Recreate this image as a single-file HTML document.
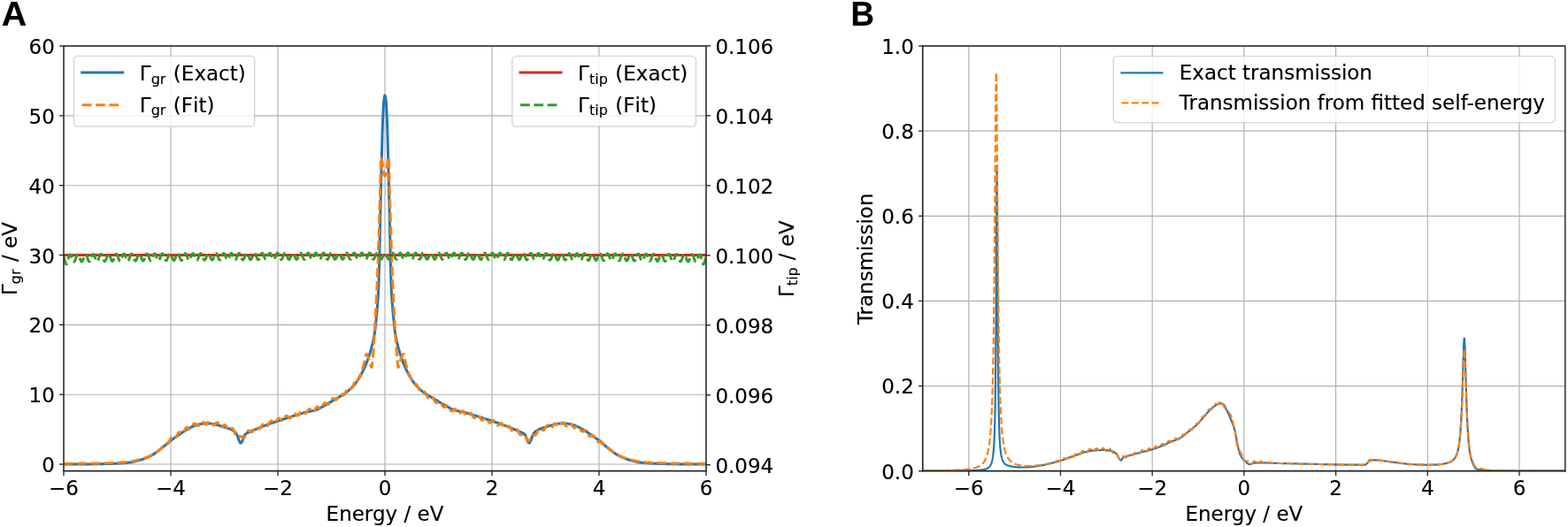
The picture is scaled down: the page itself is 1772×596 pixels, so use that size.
<!DOCTYPE html>
<html lang="en">
<head>
<meta charset="utf-8">
<title>Figure: self-energy fit and transmission</title>
<style>
html,body{margin:0;padding:0;background:#fff;}
body{width:1772px;height:596px;overflow:hidden;}
svg{display:block;}
svg text{font-family:"DejaVu Sans","Liberation Sans",sans-serif;stroke:#000;stroke-width:0.15px;stroke-linejoin:round;}
</style>
</head>
<body>
<svg width="1772" height="596" viewBox="0 0 1772 596">
<rect x="0" y="0" width="1772" height="596" fill="#fff"/>
<g id="axA">
<g stroke="#b0b0b0" stroke-width="1.15" fill="none">
<line x1="72.0" y1="52.0" x2="72.0" y2="532.7"/>
<line x1="193.0" y1="52.0" x2="193.0" y2="532.7"/>
<line x1="314.0" y1="52.0" x2="314.0" y2="532.7"/>
<line x1="435.0" y1="52.0" x2="435.0" y2="532.7"/>
<line x1="556.0" y1="52.0" x2="556.0" y2="532.7"/>
<line x1="677.0" y1="52.0" x2="677.0" y2="532.7"/>
<line x1="798.0" y1="52.0" x2="798.0" y2="532.7"/>
<line x1="72.0" y1="525.0" x2="798.0" y2="525.0"/>
<line x1="72.0" y1="446.2" x2="798.0" y2="446.2"/>
<line x1="72.0" y1="367.3" x2="798.0" y2="367.3"/>
<line x1="72.0" y1="288.5" x2="798.0" y2="288.5"/>
<line x1="72.0" y1="209.7" x2="798.0" y2="209.7"/>
<line x1="72.0" y1="130.9" x2="798.0" y2="130.9"/>
<line x1="72.0" y1="52.0" x2="798.0" y2="52.0"/>
</g>
<clipPath id="clipA"><rect x="72.0" y="52.0" width="726.0" height="480.70000000000005"/></clipPath>
<g clip-path="url(#clipA)" fill="none" stroke-linejoin="round">
<path d="M72.0,525.0 L72.5,525.0 L73.0,525.0 L73.5,525.0 L74.0,525.0 L74.5,525.0 L75.0,525.0 L75.5,525.0 L76.0,525.0 L76.5,525.0 L77.0,525.0 L77.5,525.0 L78.0,525.0 L78.5,525.0 L79.0,525.0 L79.5,525.0 L80.0,525.0 L80.5,525.0 L81.0,525.0 L81.5,525.0 L82.0,525.0 L82.5,525.0 L83.0,525.0 L83.5,525.0 L84.0,525.0 L84.5,525.0 L85.0,525.0 L85.5,525.0 L86.0,525.0 L86.5,525.0 L87.0,525.0 L87.5,525.0 L88.0,525.0 L88.5,525.0 L89.0,525.0 L89.5,525.0 L90.0,525.0 L90.5,525.0 L91.0,524.9 L91.5,524.9 L92.0,524.9 L92.5,524.9 L93.0,524.9 L93.5,524.9 L94.0,524.9 L94.5,524.9 L95.0,524.9 L95.5,524.9 L96.0,524.9 L96.5,524.9 L97.0,524.9 L97.5,524.9 L98.0,524.9 L98.5,524.9 L99.0,524.9 L99.5,524.9 L100.0,524.9 L100.5,524.9 L101.0,524.9 L101.5,524.9 L102.0,524.9 L102.5,524.9 L103.0,524.9 L103.5,524.9 L104.0,524.9 L104.5,524.9 L105.0,524.9 L105.5,524.8 L106.0,524.8 L106.5,524.8 L107.0,524.8 L107.5,524.8 L108.0,524.8 L108.5,524.8 L109.0,524.8 L109.5,524.8 L110.0,524.8 L110.5,524.8 L111.0,524.8 L111.5,524.8 L112.0,524.7 L112.5,524.7 L113.0,524.7 L113.5,524.7 L114.0,524.7 L114.5,524.7 L115.0,524.7 L115.5,524.7 L116.0,524.7 L116.5,524.6 L117.0,524.6 L117.5,524.6 L118.0,524.6 L118.5,524.6 L119.0,524.6 L119.5,524.6 L120.0,524.6 L120.5,524.5 L121.0,524.5 L121.5,524.5 L122.0,524.5 L122.5,524.5 L123.0,524.5 L123.5,524.5 L124.0,524.5 L124.5,524.4 L125.0,524.4 L125.5,524.4 L126.0,524.4 L126.5,524.4 L127.0,524.4 L127.5,524.3 L128.0,524.3 L128.5,524.3 L129.0,524.3 L129.5,524.3 L130.0,524.2 L130.5,524.2 L131.0,524.2 L131.5,524.2 L132.0,524.1 L132.5,524.1 L133.0,524.1 L133.5,524.1 L134.0,524.0 L134.5,524.0 L135.0,524.0 L135.5,523.9 L136.0,523.9 L136.5,523.9 L137.0,523.9 L137.5,523.8 L138.0,523.8 L138.5,523.8 L139.0,523.7 L139.5,523.7 L140.0,523.6 L140.5,523.6 L141.0,523.6 L141.5,523.5 L142.0,523.5 L142.5,523.4 L143.0,523.4 L143.5,523.4 L144.0,523.3 L144.5,523.3 L145.0,523.2 L145.5,523.1 L146.0,523.1 L146.5,523.0 L147.0,522.9 L147.5,522.9 L148.0,522.8 L148.5,522.7 L149.0,522.6 L149.5,522.5 L150.0,522.4 L150.5,522.3 L151.0,522.2 L151.5,522.1 L152.0,521.9 L152.5,521.8 L153.0,521.7 L153.5,521.6 L154.0,521.4 L154.5,521.3 L155.0,521.2 L155.5,521.0 L156.0,520.9 L156.5,520.8 L157.0,520.6 L157.5,520.5 L158.0,520.3 L158.5,520.2 L159.0,520.1 L159.5,519.9 L160.0,519.8 L160.5,519.6 L161.0,519.4 L161.5,519.3 L162.0,519.1 L162.5,518.9 L163.0,518.7 L163.5,518.5 L164.0,518.3 L164.5,518.1 L165.0,517.9 L165.5,517.7 L166.0,517.5 L166.5,517.3 L167.0,517.1 L167.5,516.8 L168.0,516.6 L168.5,516.4 L169.0,516.1 L169.5,515.9 L170.0,515.6 L170.5,515.4 L171.0,515.1 L171.5,514.8 L172.0,514.6 L172.5,514.3 L173.0,514.0 L173.5,513.7 L174.0,513.4 L174.5,513.1 L175.0,512.8 L175.5,512.4 L176.0,512.1 L176.5,511.7 L177.0,511.3 L177.5,510.9 L178.0,510.6 L178.5,510.2 L179.0,509.8 L179.5,509.4 L180.0,509.0 L180.5,508.6 L181.0,508.2 L181.5,507.8 L182.0,507.4 L182.5,507.0 L183.0,506.6 L183.5,506.2 L184.0,505.8 L184.5,505.3 L185.0,504.9 L185.5,504.5 L186.0,504.1 L186.5,503.7 L187.0,503.2 L187.5,502.8 L188.0,502.4 L188.5,501.9 L189.0,501.5 L189.5,501.1 L190.0,500.7 L190.5,500.2 L191.0,499.8 L191.5,499.4 L192.0,499.0 L192.5,498.6 L193.0,498.2 L193.5,497.9 L194.0,497.5 L194.5,497.1 L195.0,496.7 L195.5,496.4 L196.0,496.0 L196.5,495.6 L197.0,495.3 L197.5,494.9 L198.0,494.6 L198.5,494.2 L199.0,493.9 L199.5,493.5 L200.0,493.2 L200.5,492.8 L201.0,492.5 L201.5,492.1 L202.0,491.8 L202.5,491.5 L203.0,491.1 L203.5,490.8 L204.0,490.5 L204.5,490.1 L205.0,489.8 L205.5,489.4 L206.0,489.1 L206.5,488.7 L207.0,488.4 L207.5,488.1 L208.0,487.7 L208.5,487.4 L209.0,487.1 L209.5,486.8 L210.0,486.5 L210.5,486.2 L211.0,485.9 L211.5,485.6 L212.0,485.3 L212.5,485.0 L213.0,484.7 L213.5,484.5 L214.0,484.2 L214.5,484.0 L215.0,483.7 L215.5,483.4 L216.0,483.2 L216.5,482.9 L217.0,482.7 L217.5,482.5 L218.0,482.2 L218.5,482.0 L219.0,481.8 L219.5,481.6 L220.0,481.4 L220.5,481.2 L221.0,481.0 L221.5,480.8 L222.0,480.7 L222.5,480.5 L223.0,480.4 L223.5,480.3 L224.0,480.2 L224.5,480.0 L225.0,479.9 L225.5,479.8 L226.0,479.7 L226.5,479.6 L227.0,479.5 L227.5,479.4 L228.0,479.3 L228.5,479.2 L229.0,479.1 L229.5,479.1 L230.0,479.0 L230.5,478.9 L231.0,478.9 L231.5,478.9 L232.0,478.8 L232.5,478.8 L233.0,478.8 L233.5,478.8 L234.0,478.8 L234.5,478.8 L235.0,478.9 L235.5,478.9 L236.0,478.9 L236.5,479.0 L237.0,479.0 L237.5,479.0 L238.0,479.1 L238.5,479.1 L239.0,479.2 L239.5,479.2 L240.0,479.3 L240.5,479.4 L241.0,479.4 L241.5,479.5 L242.0,479.6 L242.5,479.8 L243.0,479.9 L243.5,480.0 L244.0,480.1 L244.5,480.3 L245.0,480.4 L245.5,480.6 L246.0,480.7 L246.5,480.9 L247.0,481.0 L247.5,481.2 L248.0,481.3 L248.5,481.5 L249.0,481.6 L249.5,481.7 L250.0,481.9 L250.5,482.0 L251.0,482.2 L251.5,482.3 L252.0,482.5 L252.5,482.6 L253.0,482.8 L253.5,483.0 L254.0,483.1 L254.5,483.3 L255.0,483.5 L255.5,483.6 L256.0,483.8 L256.5,484.0 L257.0,484.1 L257.5,484.3 L258.0,484.5 L258.5,484.7 L259.0,484.8 L259.5,485.0 L260.0,485.2 L260.5,485.4 L261.0,485.7 L261.5,485.9 L262.0,486.1 L262.5,486.4 L263.0,486.7 L263.5,487.0 L264.0,487.3 L264.5,487.7 L265.0,488.1 L265.5,488.6 L266.0,489.1 L266.5,489.7 L267.0,490.4 L267.5,491.3 L268.0,492.3 L268.5,493.4 L269.0,495.0 L269.5,496.7 L270.0,497.9 L270.5,499.0 L271.0,499.9 L271.5,500.7 L272.0,501.0 L272.5,500.8 L273.0,500.3 L273.5,499.4 L274.0,498.3 L274.5,497.3 L275.0,495.7 L275.5,493.9 L276.0,492.7 L276.5,492.0 L277.0,491.4 L277.5,490.9 L278.0,490.6 L278.5,490.2 L279.0,489.9 L279.5,489.7 L280.0,489.4 L280.5,489.2 L281.0,489.0 L281.5,488.8 L282.0,488.5 L282.5,488.3 L283.0,488.1 L283.5,487.8 L284.0,487.6 L284.5,487.4 L285.0,487.2 L285.5,487.0 L286.0,486.7 L286.5,486.5 L287.0,486.3 L287.5,486.1 L288.0,485.9 L288.5,485.7 L289.0,485.5 L289.5,485.3 L290.0,485.1 L290.5,484.9 L291.0,484.7 L291.5,484.5 L292.0,484.3 L292.5,484.1 L293.0,483.9 L293.5,483.7 L294.0,483.4 L294.5,483.2 L295.0,483.0 L295.5,482.8 L296.0,482.6 L296.5,482.4 L297.0,482.2 L297.5,482.0 L298.0,481.8 L298.5,481.6 L299.0,481.4 L299.5,481.2 L300.0,481.1 L300.5,480.9 L301.0,480.7 L301.5,480.5 L302.0,480.3 L302.5,480.1 L303.0,479.9 L303.5,479.8 L304.0,479.6 L304.5,479.4 L305.0,479.2 L305.5,479.1 L306.0,478.9 L306.5,478.7 L307.0,478.5 L307.5,478.4 L308.0,478.2 L308.5,478.0 L309.0,477.8 L309.5,477.7 L310.0,477.5 L310.5,477.3 L311.0,477.2 L311.5,477.0 L312.0,476.8 L312.5,476.7 L313.0,476.5 L313.5,476.3 L314.0,476.2 L314.5,476.0 L315.0,475.8 L315.5,475.7 L316.0,475.5 L316.5,475.3 L317.0,475.2 L317.5,475.0 L318.0,474.8 L318.5,474.7 L319.0,474.5 L319.5,474.4 L320.0,474.2 L320.5,474.0 L321.0,473.9 L321.5,473.7 L322.0,473.5 L322.5,473.4 L323.0,473.2 L323.5,473.1 L324.0,472.9 L324.5,472.7 L325.0,472.6 L325.5,472.4 L326.0,472.3 L326.5,472.1 L327.0,472.0 L327.5,471.8 L328.0,471.6 L328.5,471.5 L329.0,471.3 L329.5,471.2 L330.0,471.0 L330.5,470.9 L331.0,470.7 L331.5,470.5 L332.0,470.4 L332.5,470.2 L333.0,470.0 L333.5,469.9 L334.0,469.7 L334.5,469.6 L335.0,469.4 L335.5,469.2 L336.0,469.1 L336.5,468.9 L337.0,468.8 L337.5,468.6 L338.0,468.4 L338.5,468.3 L339.0,468.1 L339.5,468.0 L340.0,467.8 L340.5,467.7 L341.0,467.5 L341.5,467.4 L342.0,467.2 L342.5,467.1 L343.0,466.9 L343.5,466.8 L344.0,466.7 L344.5,466.5 L345.0,466.4 L345.5,466.3 L346.0,466.1 L346.5,466.0 L347.0,465.9 L347.5,465.8 L348.0,465.7 L348.5,465.6 L349.0,465.5 L349.5,465.4 L350.0,465.3 L350.5,465.2 L351.0,465.1 L351.5,465.0 L352.0,464.9 L352.5,464.8 L353.0,464.7 L353.5,464.6 L354.0,464.5 L354.5,464.4 L355.0,464.2 L355.5,464.1 L356.0,464.0 L356.5,463.8 L357.0,463.6 L357.5,463.5 L358.0,463.3 L358.5,463.0 L359.0,462.8 L359.5,462.6 L360.0,462.3 L360.5,462.1 L361.0,461.8 L361.5,461.6 L362.0,461.3 L362.5,461.0 L363.0,460.7 L363.5,460.5 L364.0,460.2 L364.5,459.9 L365.0,459.6 L365.5,459.3 L366.0,459.1 L366.5,458.8 L367.0,458.5 L367.5,458.2 L368.0,458.0 L368.5,457.7 L369.0,457.4 L369.5,457.1 L370.0,456.8 L370.5,456.5 L371.0,456.2 L371.5,455.9 L372.0,455.7 L372.5,455.4 L373.0,455.1 L373.5,454.8 L374.0,454.4 L374.5,454.1 L375.0,453.8 L375.5,453.5 L376.0,453.2 L376.5,452.9 L377.0,452.6 L377.5,452.3 L378.0,452.0 L378.5,451.7 L379.0,451.4 L379.5,451.1 L380.0,450.8 L380.5,450.5 L381.0,450.2 L381.5,450.0 L382.0,449.7 L382.5,449.4 L383.0,449.1 L383.5,448.8 L384.0,448.5 L384.5,448.3 L385.0,448.0 L385.5,447.7 L386.0,447.4 L386.5,447.1 L387.0,446.8 L387.5,446.5 L388.0,446.1 L388.5,445.8 L389.0,445.5 L389.5,445.1 L390.0,444.8 L390.5,444.4 L391.0,444.0 L391.5,443.6 L392.0,443.2 L392.5,442.8 L393.0,442.4 L393.5,442.0 L394.0,441.6 L394.5,441.1 L395.0,440.7 L395.5,440.2 L396.0,439.7 L396.5,439.3 L397.0,438.8 L397.5,438.3 L398.0,437.8 L398.5,437.2 L399.0,436.7 L399.5,436.2 L400.0,435.6 L400.5,435.0 L401.0,434.4 L401.5,433.8 L402.0,433.2 L402.5,432.5 L403.0,431.8 L403.5,431.1 L404.0,430.4 L404.5,429.6 L405.0,428.8 L405.5,428.0 L406.0,427.1 L406.5,426.3 L407.0,425.4 L407.5,424.6 L408.0,423.7 L408.5,422.8 L409.0,421.8 L409.5,420.9 L410.0,419.9 L410.5,418.9 L411.0,417.8 L411.5,416.8 L412.0,415.7 L412.5,414.5 L413.0,413.4 L413.5,412.2 L414.0,410.9 L414.5,409.7 L415.0,408.4 L415.5,407.0 L416.0,405.6 L416.5,404.2 L417.0,402.7 L417.5,401.2 L418.0,399.6 L418.5,397.9 L419.0,396.2 L419.5,394.5 L420.0,392.6 L420.5,390.7 L421.0,388.6 L421.5,386.4 L422.0,384.0 L422.5,381.5 L423.0,378.8 L423.5,375.7 L424.0,372.2 L424.5,368.1 L425.0,363.2 L425.5,357.6 L426.0,351.8 L426.5,346.0 L427.0,339.8 L427.5,331.9 L428.0,320.1 L428.5,302.6 L429.0,281.3 L429.5,258.0 L430.0,234.8 L430.5,213.5 L431.0,193.8 L431.5,173.3 L432.0,153.9 L432.5,137.7 L433.0,126.3 L433.5,117.5 L434.0,112.0 L434.5,109.1 L435.0,107.8 L435.5,109.1 L436.0,112.0 L436.5,117.5 L437.0,126.3 L437.5,137.7 L438.0,153.9 L438.5,173.3 L439.0,193.8 L439.5,213.5 L440.0,234.8 L440.5,258.0 L441.0,281.3 L441.5,302.6 L442.0,320.1 L442.5,331.9 L443.0,339.8 L443.5,346.0 L444.0,351.8 L444.5,357.6 L445.0,363.2 L445.5,368.1 L446.0,372.2 L446.5,375.7 L447.0,378.8 L447.5,381.5 L448.0,384.0 L448.5,386.4 L449.0,388.6 L449.5,390.7 L450.0,392.6 L450.5,394.5 L451.0,396.2 L451.5,397.9 L452.0,399.6 L452.5,401.2 L453.0,402.7 L453.5,404.2 L454.0,405.6 L454.5,407.0 L455.0,408.4 L455.5,409.7 L456.0,410.9 L456.5,412.2 L457.0,413.4 L457.5,414.5 L458.0,415.7 L458.5,416.8 L459.0,417.8 L459.5,418.9 L460.0,419.9 L460.5,420.9 L461.0,421.8 L461.5,422.8 L462.0,423.7 L462.5,424.6 L463.0,425.4 L463.5,426.3 L464.0,427.1 L464.5,428.0 L465.0,428.8 L465.5,429.6 L466.0,430.4 L466.5,431.1 L467.0,431.8 L467.5,432.5 L468.0,433.2 L468.5,433.8 L469.0,434.4 L469.5,435.0 L470.0,435.6 L470.5,436.2 L471.0,436.7 L471.5,437.2 L472.0,437.8 L472.5,438.3 L473.0,438.8 L473.5,439.3 L474.0,439.7 L474.5,440.2 L475.0,440.7 L475.5,441.1 L476.0,441.6 L476.5,442.0 L477.0,442.4 L477.5,442.8 L478.0,443.2 L478.5,443.6 L479.0,444.0 L479.5,444.4 L480.0,444.8 L480.5,445.1 L481.0,445.5 L481.5,445.8 L482.0,446.1 L482.5,446.5 L483.0,446.8 L483.5,447.1 L484.0,447.4 L484.5,447.7 L485.0,448.0 L485.5,448.3 L486.0,448.5 L486.5,448.8 L487.0,449.1 L487.5,449.4 L488.0,449.7 L488.5,450.0 L489.0,450.2 L489.5,450.5 L490.0,450.8 L490.5,451.1 L491.0,451.4 L491.5,451.7 L492.0,452.0 L492.5,452.3 L493.0,452.6 L493.5,452.9 L494.0,453.2 L494.5,453.5 L495.0,453.8 L495.5,454.1 L496.0,454.4 L496.5,454.8 L497.0,455.1 L497.5,455.4 L498.0,455.7 L498.5,455.9 L499.0,456.2 L499.5,456.5 L500.0,456.8 L500.5,457.1 L501.0,457.4 L501.5,457.7 L502.0,458.0 L502.5,458.2 L503.0,458.5 L503.5,458.8 L504.0,459.1 L504.5,459.3 L505.0,459.6 L505.5,459.9 L506.0,460.2 L506.5,460.5 L507.0,460.7 L507.5,461.0 L508.0,461.3 L508.5,461.6 L509.0,461.8 L509.5,462.1 L510.0,462.3 L510.5,462.6 L511.0,462.8 L511.5,463.0 L512.0,463.3 L512.5,463.5 L513.0,463.6 L513.5,463.8 L514.0,464.0 L514.5,464.1 L515.0,464.2 L515.5,464.4 L516.0,464.5 L516.5,464.6 L517.0,464.7 L517.5,464.8 L518.0,464.9 L518.5,465.0 L519.0,465.1 L519.5,465.2 L520.0,465.3 L520.5,465.4 L521.0,465.5 L521.5,465.6 L522.0,465.7 L522.5,465.8 L523.0,465.9 L523.5,466.0 L524.0,466.1 L524.5,466.3 L525.0,466.4 L525.5,466.5 L526.0,466.7 L526.5,466.8 L527.0,466.9 L527.5,467.1 L528.0,467.2 L528.5,467.4 L529.0,467.5 L529.5,467.7 L530.0,467.8 L530.5,468.0 L531.0,468.1 L531.5,468.3 L532.0,468.4 L532.5,468.6 L533.0,468.8 L533.5,468.9 L534.0,469.1 L534.5,469.2 L535.0,469.4 L535.5,469.6 L536.0,469.7 L536.5,469.9 L537.0,470.0 L537.5,470.2 L538.0,470.4 L538.5,470.5 L539.0,470.7 L539.5,470.9 L540.0,471.0 L540.5,471.2 L541.0,471.3 L541.5,471.5 L542.0,471.6 L542.5,471.8 L543.0,472.0 L543.5,472.1 L544.0,472.3 L544.5,472.4 L545.0,472.6 L545.5,472.7 L546.0,472.9 L546.5,473.1 L547.0,473.2 L547.5,473.4 L548.0,473.5 L548.5,473.7 L549.0,473.9 L549.5,474.0 L550.0,474.2 L550.5,474.4 L551.0,474.5 L551.5,474.7 L552.0,474.8 L552.5,475.0 L553.0,475.2 L553.5,475.3 L554.0,475.5 L554.5,475.7 L555.0,475.8 L555.5,476.0 L556.0,476.2 L556.5,476.3 L557.0,476.5 L557.5,476.7 L558.0,476.8 L558.5,477.0 L559.0,477.2 L559.5,477.3 L560.0,477.5 L560.5,477.7 L561.0,477.8 L561.5,478.0 L562.0,478.2 L562.5,478.4 L563.0,478.5 L563.5,478.7 L564.0,478.9 L564.5,479.1 L565.0,479.2 L565.5,479.4 L566.0,479.6 L566.5,479.8 L567.0,479.9 L567.5,480.1 L568.0,480.3 L568.5,480.5 L569.0,480.7 L569.5,480.9 L570.0,481.1 L570.5,481.2 L571.0,481.4 L571.5,481.6 L572.0,481.8 L572.5,482.0 L573.0,482.2 L573.5,482.4 L574.0,482.6 L574.5,482.8 L575.0,483.0 L575.5,483.2 L576.0,483.4 L576.5,483.7 L577.0,483.9 L577.5,484.1 L578.0,484.3 L578.5,484.5 L579.0,484.7 L579.5,484.9 L580.0,485.1 L580.5,485.3 L581.0,485.5 L581.5,485.7 L582.0,485.9 L582.5,486.1 L583.0,486.3 L583.5,486.5 L584.0,486.7 L584.5,487.0 L585.0,487.2 L585.5,487.4 L586.0,487.6 L586.5,487.8 L587.0,488.1 L587.5,488.3 L588.0,488.5 L588.5,488.8 L589.0,489.0 L589.5,489.2 L590.0,489.4 L590.5,489.7 L591.0,489.9 L591.5,490.2 L592.0,490.6 L592.5,490.9 L593.0,491.4 L593.5,492.0 L594.0,492.7 L594.5,493.9 L595.0,495.7 L595.5,497.3 L596.0,498.3 L596.5,499.4 L597.0,500.3 L597.5,500.8 L598.0,501.0 L598.5,500.7 L599.0,499.9 L599.5,499.0 L600.0,497.9 L600.5,496.7 L601.0,495.0 L601.5,493.4 L602.0,492.3 L602.5,491.3 L603.0,490.4 L603.5,489.7 L604.0,489.1 L604.5,488.6 L605.0,488.1 L605.5,487.7 L606.0,487.3 L606.5,487.0 L607.0,486.7 L607.5,486.4 L608.0,486.1 L608.5,485.9 L609.0,485.7 L609.5,485.4 L610.0,485.2 L610.5,485.0 L611.0,484.8 L611.5,484.7 L612.0,484.5 L612.5,484.3 L613.0,484.1 L613.5,484.0 L614.0,483.8 L614.5,483.6 L615.0,483.5 L615.5,483.3 L616.0,483.1 L616.5,483.0 L617.0,482.8 L617.5,482.6 L618.0,482.5 L618.5,482.3 L619.0,482.2 L619.5,482.0 L620.0,481.9 L620.5,481.7 L621.0,481.6 L621.5,481.5 L622.0,481.3 L622.5,481.2 L623.0,481.0 L623.5,480.9 L624.0,480.7 L624.5,480.6 L625.0,480.4 L625.5,480.3 L626.0,480.1 L626.5,480.0 L627.0,479.9 L627.5,479.8 L628.0,479.6 L628.5,479.5 L629.0,479.4 L629.5,479.4 L630.0,479.3 L630.5,479.2 L631.0,479.2 L631.5,479.1 L632.0,479.1 L632.5,479.0 L633.0,479.0 L633.5,479.0 L634.0,478.9 L634.5,478.9 L635.0,478.9 L635.5,478.8 L636.0,478.8 L636.5,478.8 L637.0,478.8 L637.5,478.8 L638.0,478.8 L638.5,478.9 L639.0,478.9 L639.5,478.9 L640.0,479.0 L640.5,479.1 L641.0,479.1 L641.5,479.2 L642.0,479.3 L642.5,479.4 L643.0,479.5 L643.5,479.6 L644.0,479.7 L644.5,479.8 L645.0,479.9 L645.5,480.0 L646.0,480.2 L646.5,480.3 L647.0,480.4 L647.5,480.5 L648.0,480.7 L648.5,480.8 L649.0,481.0 L649.5,481.2 L650.0,481.4 L650.5,481.6 L651.0,481.8 L651.5,482.0 L652.0,482.2 L652.5,482.5 L653.0,482.7 L653.5,482.9 L654.0,483.2 L654.5,483.4 L655.0,483.7 L655.5,484.0 L656.0,484.2 L656.5,484.5 L657.0,484.7 L657.5,485.0 L658.0,485.3 L658.5,485.6 L659.0,485.9 L659.5,486.2 L660.0,486.5 L660.5,486.8 L661.0,487.1 L661.5,487.4 L662.0,487.7 L662.5,488.1 L663.0,488.4 L663.5,488.7 L664.0,489.1 L664.5,489.4 L665.0,489.8 L665.5,490.1 L666.0,490.5 L666.5,490.8 L667.0,491.1 L667.5,491.5 L668.0,491.8 L668.5,492.1 L669.0,492.5 L669.5,492.8 L670.0,493.2 L670.5,493.5 L671.0,493.9 L671.5,494.2 L672.0,494.6 L672.5,494.9 L673.0,495.3 L673.5,495.6 L674.0,496.0 L674.5,496.4 L675.0,496.7 L675.5,497.1 L676.0,497.5 L676.5,497.9 L677.0,498.2 L677.5,498.6 L678.0,499.0 L678.5,499.4 L679.0,499.8 L679.5,500.2 L680.0,500.7 L680.5,501.1 L681.0,501.5 L681.5,501.9 L682.0,502.4 L682.5,502.8 L683.0,503.2 L683.5,503.7 L684.0,504.1 L684.5,504.5 L685.0,504.9 L685.5,505.3 L686.0,505.8 L686.5,506.2 L687.0,506.6 L687.5,507.0 L688.0,507.4 L688.5,507.8 L689.0,508.2 L689.5,508.6 L690.0,509.0 L690.5,509.4 L691.0,509.8 L691.5,510.2 L692.0,510.6 L692.5,510.9 L693.0,511.3 L693.5,511.7 L694.0,512.1 L694.5,512.4 L695.0,512.8 L695.5,513.1 L696.0,513.4 L696.5,513.7 L697.0,514.0 L697.5,514.3 L698.0,514.6 L698.5,514.8 L699.0,515.1 L699.5,515.4 L700.0,515.6 L700.5,515.9 L701.0,516.1 L701.5,516.4 L702.0,516.6 L702.5,516.8 L703.0,517.1 L703.5,517.3 L704.0,517.5 L704.5,517.7 L705.0,517.9 L705.5,518.1 L706.0,518.3 L706.5,518.5 L707.0,518.7 L707.5,518.9 L708.0,519.1 L708.5,519.3 L709.0,519.4 L709.5,519.6 L710.0,519.8 L710.5,519.9 L711.0,520.1 L711.5,520.2 L712.0,520.3 L712.5,520.5 L713.0,520.6 L713.5,520.8 L714.0,520.9 L714.5,521.0 L715.0,521.2 L715.5,521.3 L716.0,521.4 L716.5,521.6 L717.0,521.7 L717.5,521.8 L718.0,521.9 L718.5,522.1 L719.0,522.2 L719.5,522.3 L720.0,522.4 L720.5,522.5 L721.0,522.6 L721.5,522.7 L722.0,522.8 L722.5,522.9 L723.0,522.9 L723.5,523.0 L724.0,523.1 L724.5,523.1 L725.0,523.2 L725.5,523.3 L726.0,523.3 L726.5,523.4 L727.0,523.4 L727.5,523.4 L728.0,523.5 L728.5,523.5 L729.0,523.6 L729.5,523.6 L730.0,523.6 L730.5,523.7 L731.0,523.7 L731.5,523.8 L732.0,523.8 L732.5,523.8 L733.0,523.9 L733.5,523.9 L734.0,523.9 L734.5,523.9 L735.0,524.0 L735.5,524.0 L736.0,524.0 L736.5,524.1 L737.0,524.1 L737.5,524.1 L738.0,524.1 L738.5,524.2 L739.0,524.2 L739.5,524.2 L740.0,524.2 L740.5,524.3 L741.0,524.3 L741.5,524.3 L742.0,524.3 L742.5,524.3 L743.0,524.4 L743.5,524.4 L744.0,524.4 L744.5,524.4 L745.0,524.4 L745.5,524.4 L746.0,524.5 L746.5,524.5 L747.0,524.5 L747.5,524.5 L748.0,524.5 L748.5,524.5 L749.0,524.5 L749.5,524.5 L750.0,524.6 L750.5,524.6 L751.0,524.6 L751.5,524.6 L752.0,524.6 L752.5,524.6 L753.0,524.6 L753.5,524.6 L754.0,524.7 L754.5,524.7 L755.0,524.7 L755.5,524.7 L756.0,524.7 L756.5,524.7 L757.0,524.7 L757.5,524.7 L758.0,524.7 L758.5,524.8 L759.0,524.8 L759.5,524.8 L760.0,524.8 L760.5,524.8 L761.0,524.8 L761.5,524.8 L762.0,524.8 L762.5,524.8 L763.0,524.8 L763.5,524.8 L764.0,524.8 L764.5,524.8 L765.0,524.9 L765.5,524.9 L766.0,524.9 L766.5,524.9 L767.0,524.9 L767.5,524.9 L768.0,524.9 L768.5,524.9 L769.0,524.9 L769.5,524.9 L770.0,524.9 L770.5,524.9 L771.0,524.9 L771.5,524.9 L772.0,524.9 L772.5,524.9 L773.0,524.9 L773.5,524.9 L774.0,524.9 L774.5,524.9 L775.0,524.9 L775.5,524.9 L776.0,524.9 L776.5,524.9 L777.0,524.9 L777.5,524.9 L778.0,524.9 L778.5,524.9 L779.0,524.9 L779.5,525.0 L780.0,525.0 L780.5,525.0 L781.0,525.0 L781.5,525.0 L782.0,525.0 L782.5,525.0 L783.0,525.0 L783.5,525.0 L784.0,525.0 L784.5,525.0 L785.0,525.0 L785.5,525.0 L786.0,525.0 L786.5,525.0 L787.0,525.0 L787.5,525.0 L788.0,525.0 L788.5,525.0 L789.0,525.0 L789.5,525.0 L790.0,525.0 L790.5,525.0 L791.0,525.0 L791.5,525.0 L792.0,525.0 L792.5,525.0 L793.0,525.0 L793.5,525.0 L794.0,525.0 L794.5,525.0 L795.0,525.0 L795.5,525.0 L796.0,525.0 L796.5,525.0 L797.0,525.0 L797.5,525.0 L798.0,525.0" stroke="#1f77b4" stroke-width="3.0" stroke-linecap="square"/>
<path d="M72.0,524.2 L72.5,524.2 L73.0,524.2 L73.5,524.2 L74.0,524.2 L74.5,524.2 L75.0,524.2 L75.5,524.2 L76.0,524.2 L76.5,524.2 L77.0,524.2 L77.5,524.2 L78.0,524.2 L78.5,524.2 L79.0,524.2 L79.5,524.2 L80.0,524.2 L80.5,524.2 L81.0,524.2 L81.5,524.2 L82.0,524.2 L82.5,524.2 L83.0,524.2 L83.5,524.2 L84.0,524.2 L84.5,524.2 L85.0,524.2 L85.5,524.2 L86.0,524.2 L86.5,524.2 L87.0,524.2 L87.5,524.2 L88.0,524.2 L88.5,524.2 L89.0,524.2 L89.5,524.2 L90.0,524.2 L90.5,524.2 L91.0,524.1 L91.5,524.1 L92.0,524.1 L92.5,524.1 L93.0,524.1 L93.5,524.1 L94.0,524.1 L94.5,524.1 L95.0,524.1 L95.5,524.1 L96.0,524.1 L96.5,524.1 L97.0,524.1 L97.5,524.1 L98.0,524.1 L98.5,524.1 L99.0,524.1 L99.5,524.1 L100.0,524.1 L100.5,524.1 L101.0,524.1 L101.5,524.1 L102.0,524.1 L102.5,524.1 L103.0,524.1 L103.5,524.1 L104.0,524.1 L104.5,524.1 L105.0,524.0 L105.5,524.0 L106.0,524.0 L106.5,524.0 L107.0,524.0 L107.5,524.0 L108.0,524.0 L108.5,524.0 L109.0,524.0 L109.5,524.0 L110.0,524.0 L110.5,524.0 L111.0,524.0 L111.5,523.9 L112.0,523.9 L112.5,523.9 L113.0,523.9 L113.5,523.9 L114.0,523.9 L114.5,523.9 L115.0,523.9 L115.5,523.9 L116.0,523.9 L116.5,523.8 L117.0,523.8 L117.5,523.8 L118.0,523.8 L118.5,523.8 L119.0,523.8 L119.5,523.8 L120.0,523.8 L120.5,523.7 L121.0,523.7 L121.5,523.7 L122.0,523.7 L122.5,523.7 L123.0,523.7 L123.5,523.7 L124.0,523.6 L124.5,523.6 L125.0,523.6 L125.5,523.6 L126.0,523.6 L126.5,523.6 L127.0,523.5 L127.5,523.5 L128.0,523.5 L128.5,523.5 L129.0,523.5 L129.5,523.4 L130.0,523.4 L130.5,523.4 L131.0,523.4 L131.5,523.3 L132.0,523.3 L132.5,523.3 L133.0,523.3 L133.5,523.2 L134.0,523.2 L134.5,523.2 L135.0,523.2 L135.5,523.1 L136.0,523.1 L136.5,523.1 L137.0,523.0 L137.5,523.0 L138.0,523.0 L138.5,522.9 L139.0,522.9 L139.5,522.9 L140.0,522.8 L140.5,522.8 L141.0,522.7 L141.5,522.7 L142.0,522.6 L142.5,522.6 L143.0,522.5 L143.5,522.5 L144.0,522.4 L144.5,522.4 L145.0,522.3 L145.5,522.2 L146.0,522.2 L146.5,522.1 L147.0,522.0 L147.5,522.0 L148.0,521.9 L148.5,521.8 L149.0,521.7 L149.5,521.6 L150.0,521.5 L150.5,521.4 L151.0,521.3 L151.5,521.2 L152.0,521.1 L152.5,521.0 L153.0,520.9 L153.5,520.8 L154.0,520.7 L154.5,520.6 L155.0,520.5 L155.5,520.4 L156.0,520.2 L156.5,520.1 L157.0,520.0 L157.5,519.9 L158.0,519.7 L158.5,519.6 L159.0,519.5 L159.5,519.3 L160.0,519.2 L160.5,519.0 L161.0,518.9 L161.5,518.7 L162.0,518.6 L162.5,518.4 L163.0,518.2 L163.5,518.0 L164.0,517.9 L164.5,517.7 L165.0,517.5 L165.5,517.3 L166.0,517.1 L166.5,516.9 L167.0,516.7 L167.5,516.5 L168.0,516.3 L168.5,516.0 L169.0,515.8 L169.5,515.6 L170.0,515.3 L170.5,515.1 L171.0,514.8 L171.5,514.6 L172.0,514.3 L172.5,514.0 L173.0,513.8 L173.5,513.5 L174.0,513.2 L174.5,512.9 L175.0,512.5 L175.5,512.2 L176.0,511.9 L176.5,511.5 L177.0,511.2 L177.5,510.8 L178.0,510.4 L178.5,510.0 L179.0,509.7 L179.5,509.4 L180.0,509.1 L180.5,508.7 L181.0,508.3 L181.5,507.9 L182.0,507.3 L182.5,506.7 L183.0,506.0 L183.5,505.4 L184.0,504.7 L184.5,504.1 L185.0,503.6 L185.5,503.2 L186.0,502.9 L186.5,502.8 L187.0,502.8 L187.5,502.8 L188.0,502.8 L188.5,502.7 L189.0,502.4 L189.5,502.0 L190.0,501.4 L190.5,500.6 L191.0,499.6 L191.5,498.5 L192.0,497.4 L192.5,496.5 L193.0,495.7 L193.5,495.2 L194.0,494.9 L194.5,495.0 L195.0,495.2 L195.5,495.5 L196.0,495.8 L196.5,496.1 L197.0,496.2 L197.5,496.2 L198.0,495.8 L198.5,495.2 L199.0,494.4 L199.5,493.4 L200.0,492.3 L200.5,491.3 L201.0,490.3 L201.5,489.6 L202.0,489.0 L202.5,488.8 L203.0,488.7 L203.5,488.9 L204.0,489.3 L204.5,489.6 L205.0,490.0 L205.5,490.2 L206.0,490.2 L206.5,490.0 L207.0,489.5 L207.5,488.8 L208.0,487.9 L208.5,486.9 L209.0,485.9 L209.5,484.9 L210.0,484.1 L210.5,483.5 L211.0,483.2 L211.5,483.2 L212.0,483.3 L212.5,483.7 L213.0,484.1 L213.5,484.6 L214.0,484.9 L214.5,485.1 L215.0,485.0 L215.5,484.7 L216.0,484.1 L216.5,483.4 L217.0,482.5 L217.5,481.5 L218.0,480.6 L218.5,479.8 L219.0,479.3 L219.5,479.0 L220.0,478.9 L220.5,479.1 L221.0,479.5 L221.5,480.0 L222.0,480.6 L222.5,481.1 L223.0,481.4 L223.5,481.6 L224.0,481.5 L224.5,481.1 L225.0,480.5 L225.5,479.8 L226.0,479.0 L226.5,478.2 L227.0,477.5 L227.5,477.0 L228.0,476.7 L228.5,476.6 L229.0,476.9 L229.5,477.3 L230.0,477.9 L230.5,478.6 L231.0,479.3 L231.5,479.8 L232.0,480.1 L232.5,480.2 L233.0,480.1 L233.5,479.7 L234.0,479.1 L234.5,478.4 L235.0,477.7 L235.5,477.1 L236.0,476.6 L236.5,476.3 L237.0,476.3 L237.5,476.6 L238.0,477.1 L238.5,477.8 L239.0,478.5 L239.5,479.3 L240.0,480.0 L240.5,480.5 L241.0,480.8 L241.5,480.9 L242.0,480.7 L242.5,480.2 L243.0,479.7 L243.5,479.1 L244.0,478.5 L244.5,478.1 L245.0,477.8 L245.5,477.8 L246.0,478.1 L246.5,478.6 L247.0,479.3 L247.5,480.2 L248.0,481.0 L248.5,481.8 L249.0,482.5 L249.5,482.9 L250.0,483.1 L250.5,483.0 L251.0,482.7 L251.5,482.3 L252.0,481.7 L252.5,481.2 L253.0,480.7 L253.5,480.4 L254.0,480.4 L254.5,480.6 L255.0,481.1 L255.5,481.8 L256.0,482.6 L256.5,483.5 L257.0,484.4 L257.5,485.1 L258.0,485.7 L258.5,486.0 L259.0,486.1 L259.5,486.0 L260.0,485.7 L260.5,485.3 L261.0,484.8 L261.5,484.5 L262.0,484.3 L262.5,484.4 L263.0,484.7 L263.5,485.3 L264.0,486.2 L264.5,487.4 L265.0,488.6 L265.5,489.9 L266.0,491.1 L266.5,492.1 L267.0,493.0 L267.5,493.6 L268.0,493.9 L268.5,494.0 L269.0,493.9 L269.5,493.7 L270.0,493.5 L270.5,493.3 L271.0,493.2 L271.5,493.3 L272.0,493.5 L272.5,493.8 L273.0,494.3 L273.5,494.8 L274.0,495.3 L274.5,495.6 L275.0,495.7 L275.5,495.5 L276.0,495.1 L276.5,494.4 L277.0,493.5 L277.5,492.3 L278.0,491.1 L278.5,489.9 L279.0,488.9 L279.5,488.0 L280.0,487.4 L280.5,487.0 L281.0,487.0 L281.5,487.1 L282.0,487.5 L282.5,487.9 L283.0,488.3 L283.5,488.6 L284.0,488.8 L284.5,488.7 L285.0,488.3 L285.5,487.7 L286.0,487.0 L286.5,486.1 L287.0,485.1 L287.5,484.2 L288.0,483.5 L288.5,483.0 L289.0,482.7 L289.5,482.7 L290.0,482.9 L290.5,483.3 L291.0,483.8 L291.5,484.3 L292.0,484.8 L292.5,485.0 L293.0,485.0 L293.5,484.8 L294.0,484.3 L294.5,483.6 L295.0,482.8 L295.5,481.9 L296.0,481.0 L296.5,480.2 L297.0,479.6 L297.5,479.3 L298.0,479.2 L298.5,479.3 L299.0,479.7 L299.5,480.2 L300.0,480.7 L300.5,481.2 L301.0,481.5 L301.5,481.7 L302.0,481.5 L302.5,481.2 L303.0,480.6 L303.5,479.8 L304.0,478.9 L304.5,478.0 L305.0,477.2 L305.5,476.5 L306.0,476.1 L306.5,476.0 L307.0,476.1 L307.5,476.4 L308.0,476.9 L308.5,477.4 L309.0,477.9 L309.5,478.3 L310.0,478.6 L310.5,478.6 L311.0,478.3 L311.5,477.8 L312.0,477.0 L312.5,476.2 L313.0,475.3 L313.5,474.5 L314.0,473.8 L314.5,473.3 L315.0,473.0 L315.5,473.1 L316.0,473.3 L316.5,473.8 L317.0,474.3 L317.5,474.8 L318.0,475.3 L318.5,475.6 L319.0,475.7 L319.5,475.5 L320.0,475.1 L320.5,474.4 L321.0,473.6 L321.5,472.8 L322.0,471.9 L322.5,471.2 L323.0,470.6 L323.5,470.3 L324.0,470.2 L324.5,470.4 L325.0,470.8 L325.5,471.3 L326.0,471.9 L326.5,472.4 L327.0,472.7 L327.5,472.9 L328.0,472.8 L328.5,472.5 L329.0,471.9 L329.5,471.2 L330.0,470.3 L330.5,469.4 L331.0,468.6 L331.5,468.0 L332.0,467.6 L332.5,467.4 L333.0,467.5 L333.5,467.9 L334.0,468.3 L334.5,468.9 L335.0,469.4 L335.5,469.9 L336.0,470.1 L336.5,470.1 L337.0,469.9 L337.5,469.4 L338.0,468.7 L338.5,467.9 L339.0,467.0 L339.5,466.2 L340.0,465.5 L340.5,465.0 L341.0,464.8 L341.5,464.8 L342.0,465.1 L342.5,465.5 L343.0,466.1 L343.5,466.6 L344.0,467.2 L344.5,467.5 L345.0,467.6 L345.5,467.5 L346.0,467.1 L346.5,466.5 L347.0,465.8 L347.5,464.9 L348.0,464.1 L348.5,463.4 L349.0,462.9 L349.5,462.6 L350.0,462.6 L350.5,462.8 L351.0,463.2 L351.5,463.8 L352.0,464.4 L352.5,464.9 L353.0,465.4 L353.5,465.6 L354.0,465.5 L354.5,465.2 L355.0,464.7 L355.5,463.9 L356.0,463.1 L356.5,462.2 L357.0,461.4 L357.5,460.7 L358.0,460.2 L358.5,460.0 L359.0,460.1 L359.5,460.3 L360.0,460.7 L360.5,461.2 L361.0,461.7 L361.5,462.0 L362.0,462.2 L362.5,462.1 L363.0,461.8 L363.5,461.2 L364.0,460.4 L364.5,459.5 L365.0,458.5 L365.5,457.5 L366.0,456.7 L366.5,456.1 L367.0,455.7 L367.5,455.6 L368.0,455.7 L368.5,456.0 L369.0,456.4 L369.5,456.8 L370.0,457.2 L370.5,457.4 L371.0,457.4 L371.5,457.1 L372.0,456.6 L372.5,455.8 L373.0,454.9 L373.5,453.9 L374.0,452.9 L374.5,452.0 L375.0,451.2 L375.5,450.7 L376.0,450.5 L376.5,450.5 L377.0,450.8 L377.5,451.1 L378.0,451.6 L378.5,451.9 L379.0,452.2 L379.5,452.3 L380.0,452.1 L380.5,451.6 L381.0,450.9 L381.5,450.1 L382.0,449.1 L382.5,448.1 L383.0,447.1 L383.5,446.3 L384.0,445.7 L384.5,445.4 L385.0,445.4 L385.5,445.5 L386.0,445.8 L386.5,446.2 L387.0,446.6 L387.5,446.9 L388.0,447.0 L388.5,446.8 L389.0,446.4 L389.5,445.7 L390.0,444.8 L390.5,443.8 L391.0,442.7 L391.5,441.6 L392.0,440.7 L392.5,439.9 L393.0,439.4 L393.5,439.1 L394.0,439.1 L394.5,439.2 L395.0,439.4 L395.5,439.7 L396.0,439.9 L396.5,439.9 L397.0,439.7 L397.5,439.2 L398.0,438.4 L398.5,437.4 L399.0,436.2 L399.5,435.0 L400.0,433.7 L400.5,432.5 L401.0,431.4 L401.5,433.3 L402.0,432.8 L402.5,432.2 L403.0,431.6 L403.5,430.9 L404.0,430.1 L404.5,429.3 L405.0,428.4 L405.5,427.5 L406.0,426.5 L406.5,425.5 L407.0,424.5 L407.5,423.4 L408.0,422.2 L408.5,420.9 L409.0,419.4 L409.5,417.9 L410.0,416.3 L410.5,414.7 L411.0,413.0 L411.5,410.9 L412.0,408.2 L412.5,405.5 L413.0,403.0 L413.5,401.2 L414.0,400.5 L414.5,400.7 L415.0,401.4 L415.5,402.4 L416.0,403.5 L416.5,404.8 L417.0,406.0 L417.5,407.6 L418.0,409.6 L418.5,411.8 L419.0,413.8 L419.5,415.1 L420.0,415.4 L420.5,412.9 L421.0,407.8 L421.5,401.4 L422.0,395.0 L422.5,388.4 L423.0,380.9 L423.5,372.7 L424.0,363.9 L424.5,354.3 L425.0,344.1 L425.5,333.8 L426.0,323.4 L426.5,312.3 L427.0,300.0 L427.5,285.7 L428.0,269.8 L428.5,253.3 L429.0,236.9 L429.5,220.0 L430.0,201.3 L430.5,179.9 L431.0,177.5 L431.5,179.5 L432.0,182.9 L432.5,188.2 L433.0,192.8 L433.5,195.3 L434.0,197.1 L434.5,198.5 L435.0,199.0 L435.5,198.5 L436.0,197.1 L436.5,195.3 L437.0,192.8 L437.5,188.2 L438.0,182.9 L438.5,179.5 L439.0,177.5 L439.5,179.9 L440.0,201.3 L440.5,220.0 L441.0,236.9 L441.5,253.3 L442.0,269.8 L442.5,285.7 L443.0,300.0 L443.5,312.3 L444.0,323.4 L444.5,333.8 L445.0,344.1 L445.5,354.3 L446.0,363.9 L446.5,372.7 L447.0,380.9 L447.5,388.4 L448.0,395.0 L448.5,401.4 L449.0,407.8 L449.5,412.9 L450.0,415.4 L450.5,415.1 L451.0,413.8 L451.5,411.8 L452.0,409.6 L452.5,407.6 L453.0,406.0 L453.5,404.8 L454.0,403.5 L454.5,402.4 L455.0,401.4 L455.5,400.7 L456.0,400.5 L456.5,401.2 L457.0,403.0 L457.5,405.5 L458.0,408.2 L458.5,410.9 L459.0,413.0 L459.5,414.7 L460.0,416.3 L460.5,417.9 L461.0,419.4 L461.5,420.9 L462.0,422.2 L462.5,423.4 L463.0,424.5 L463.5,425.5 L464.0,426.5 L464.5,427.5 L465.0,428.4 L465.5,429.3 L466.0,430.1 L466.5,430.9 L467.0,431.6 L467.5,432.2 L468.0,432.8 L468.5,433.3 L469.0,434.5 L469.5,434.5 L470.0,434.5 L470.5,434.7 L471.0,435.1 L471.5,435.8 L472.0,436.7 L472.5,437.8 L473.0,439.0 L473.5,440.2 L474.0,441.3 L474.5,442.3 L475.0,443.1 L475.5,443.6 L476.0,443.9 L476.5,443.9 L477.0,443.7 L477.5,443.4 L478.0,443.1 L478.5,442.9 L479.0,442.8 L479.5,443.0 L480.0,443.4 L480.5,444.0 L481.0,444.9 L481.5,445.9 L482.0,446.9 L482.5,447.9 L483.0,448.9 L483.5,449.6 L484.0,450.1 L484.5,450.3 L485.0,450.2 L485.5,450.0 L486.0,449.6 L486.5,449.2 L487.0,448.8 L487.5,448.6 L488.0,448.6 L488.5,448.8 L489.0,449.3 L489.5,450.0 L490.0,450.9 L490.5,451.9 L491.0,452.9 L491.5,453.8 L492.0,454.6 L492.5,455.1 L493.0,455.4 L493.5,455.4 L494.0,455.2 L494.5,454.9 L495.0,454.5 L495.5,454.1 L496.0,453.8 L496.5,453.7 L497.0,453.8 L497.5,454.2 L498.0,454.9 L498.5,455.7 L499.0,456.7 L499.5,457.7 L500.0,458.6 L500.5,459.5 L501.0,460.1 L501.5,460.4 L502.0,460.5 L502.5,460.4 L503.0,460.1 L503.5,459.7 L504.0,459.2 L504.5,458.9 L505.0,458.7 L505.5,458.7 L506.0,459.0 L506.5,459.5 L507.0,460.2 L507.5,461.1 L508.0,462.1 L508.5,463.1 L509.0,463.9 L509.5,464.5 L510.0,464.9 L510.5,465.1 L511.0,465.0 L511.5,464.6 L512.0,464.2 L512.5,463.6 L513.0,463.1 L513.5,462.8 L514.0,462.6 L514.5,462.7 L515.0,463.0 L515.5,463.6 L516.0,464.3 L516.5,465.1 L517.0,466.0 L517.5,466.7 L518.0,467.3 L518.5,467.7 L519.0,467.8 L519.5,467.7 L520.0,467.3 L520.5,466.8 L521.0,466.2 L521.5,465.6 L522.0,465.1 L522.5,464.8 L523.0,464.8 L523.5,465.0 L524.0,465.4 L524.5,466.1 L525.0,466.9 L525.5,467.7 L526.0,468.5 L526.5,469.2 L527.0,469.7 L527.5,469.9 L528.0,469.9 L528.5,469.6 L529.0,469.2 L529.5,468.6 L530.0,468.1 L530.5,467.6 L531.0,467.3 L531.5,467.1 L532.0,467.3 L532.5,467.7 L533.0,468.3 L533.5,469.1 L534.0,470.0 L534.5,470.8 L535.0,471.6 L535.5,472.2 L536.0,472.5 L536.5,472.6 L537.0,472.4 L537.5,472.1 L538.0,471.6 L538.5,471.0 L539.0,470.5 L539.5,470.1 L540.0,469.9 L540.5,470.0 L541.0,470.3 L541.5,470.8 L542.0,471.6 L542.5,472.4 L543.0,473.3 L543.5,474.1 L544.0,474.8 L544.5,475.2 L545.0,475.4 L545.5,475.3 L546.0,475.0 L546.5,474.5 L547.0,474.0 L547.5,473.4 L548.0,473.0 L548.5,472.7 L549.0,472.7 L549.5,472.9 L550.0,473.4 L550.5,474.1 L551.0,474.9 L551.5,475.8 L552.0,476.6 L552.5,477.4 L553.0,477.9 L553.5,478.1 L554.0,478.2 L554.5,477.9 L555.0,477.5 L555.5,477.0 L556.0,476.4 L556.5,476.0 L557.0,475.6 L557.5,475.5 L558.0,475.7 L558.5,476.1 L559.0,476.7 L559.5,477.5 L560.0,478.4 L560.5,479.3 L561.0,480.0 L561.5,480.6 L562.0,481.0 L562.5,481.1 L563.0,481.0 L563.5,480.6 L564.0,480.1 L564.5,479.6 L565.0,479.1 L565.5,478.7 L566.0,478.5 L566.5,478.6 L567.0,478.9 L567.5,479.5 L568.0,480.3 L568.5,481.1 L569.0,482.0 L569.5,482.9 L570.0,483.6 L570.5,484.0 L571.0,484.3 L571.5,484.2 L572.0,484.0 L572.5,483.5 L573.0,483.0 L573.5,482.5 L574.0,482.1 L574.5,481.9 L575.0,481.9 L575.5,482.1 L576.0,482.6 L576.5,483.4 L577.0,484.2 L577.5,485.1 L578.0,486.0 L578.5,486.8 L579.0,487.4 L579.5,487.7 L580.0,487.8 L580.5,487.6 L581.0,487.2 L581.5,486.7 L582.0,486.2 L582.5,485.8 L583.0,485.5 L583.5,485.4 L584.0,485.6 L584.5,486.1 L585.0,486.7 L585.5,487.6 L586.0,488.5 L586.5,489.5 L587.0,490.4 L587.5,491.1 L588.0,491.6 L588.5,491.8 L589.0,491.9 L589.5,491.7 L590.0,491.4 L590.5,491.1 L591.0,490.8 L591.5,490.7 L592.0,490.8 L592.5,491.2 L593.0,491.8 L593.5,492.7 L594.0,493.8 L594.5,495.0 L595.0,496.2 L595.5,497.2 L596.0,498.1 L596.5,498.6 L597.0,498.8 L597.5,498.7 L598.0,498.3 L598.5,497.6 L599.0,496.6 L599.5,495.6 L600.0,494.6 L600.5,493.7 L601.0,493.0 L601.5,492.5 L602.0,492.2 L602.5,492.1 L603.0,492.1 L603.5,492.2 L604.0,492.3 L604.5,492.3 L605.0,492.1 L605.5,491.7 L606.0,491.0 L606.5,490.2 L607.0,489.2 L607.5,488.1 L608.0,487.1 L608.5,486.1 L609.0,485.3 L609.5,484.7 L610.0,484.4 L610.5,484.3 L611.0,484.5 L611.5,484.9 L612.0,485.4 L612.5,485.9 L613.0,486.4 L613.5,486.6 L614.0,486.7 L614.5,486.4 L615.0,486.0 L615.5,485.3 L616.0,484.5 L616.5,483.6 L617.0,482.7 L617.5,482.0 L618.0,481.5 L618.5,481.2 L619.0,481.1 L619.5,481.4 L620.0,481.8 L620.5,482.3 L621.0,482.9 L621.5,483.4 L622.0,483.8 L622.5,483.9 L623.0,483.8 L623.5,483.5 L624.0,482.9 L624.5,482.2 L625.0,481.3 L625.5,480.5 L626.0,479.8 L626.5,479.2 L627.0,478.9 L627.5,478.8 L628.0,479.0 L628.5,479.4 L629.0,479.9 L629.5,480.5 L630.0,481.2 L630.5,481.7 L631.0,482.0 L631.5,482.1 L632.0,481.9 L632.5,481.5 L633.0,480.9 L633.5,480.2 L634.0,479.4 L634.5,478.7 L635.0,478.2 L635.5,477.9 L636.0,477.8 L636.5,478.0 L637.0,478.4 L637.5,479.1 L638.0,479.8 L638.5,480.5 L639.0,481.2 L639.5,481.7 L640.0,482.0 L640.5,482.0 L641.0,481.8 L641.5,481.4 L642.0,480.8 L642.5,480.2 L643.0,479.6 L643.5,479.1 L644.0,478.8 L644.5,478.7 L645.0,479.0 L645.5,479.4 L646.0,480.1 L646.5,480.9 L647.0,481.8 L647.5,482.6 L648.0,483.3 L648.5,483.8 L649.0,484.0 L649.5,484.0 L650.0,483.7 L650.5,483.3 L651.0,482.8 L651.5,482.3 L652.0,481.9 L652.5,481.7 L653.0,481.7 L653.5,481.9 L654.0,482.4 L654.5,483.2 L655.0,484.1 L655.5,485.0 L656.0,486.0 L656.5,486.8 L657.0,487.5 L657.5,487.9 L658.0,488.1 L658.5,488.1 L659.0,487.8 L659.5,487.4 L660.0,487.0 L660.5,486.6 L661.0,486.4 L661.5,486.4 L662.0,486.6 L662.5,487.1 L663.0,487.9 L663.5,488.8 L664.0,489.8 L664.5,490.9 L665.0,491.9 L665.5,492.7 L666.0,493.2 L666.5,493.6 L667.0,493.6 L667.5,493.5 L668.0,493.2 L668.5,492.8 L669.0,492.5 L669.5,492.2 L670.0,492.2 L670.5,492.4 L671.0,492.8 L671.5,493.5 L672.0,494.4 L672.5,495.5 L673.0,496.5 L673.5,497.6 L674.0,498.5 L674.5,499.2 L675.0,499.6 L675.5,499.8 L676.0,499.8 L676.5,499.6 L677.0,499.3 L677.5,498.9 L678.0,498.7 L678.5,498.7 L679.0,498.9 L679.5,499.4 L680.0,500.0 L680.5,500.8 L681.0,501.7 L681.5,502.6 L682.0,503.5 L682.5,504.2 L683.0,504.8 L683.5,505.2 L684.0,505.5 L684.5,505.7 L685.0,505.7 L685.5,505.8 L686.0,505.9 L686.5,506.0 L687.0,506.2 L687.5,506.6 L688.0,507.0 L688.5,507.5 L689.0,508.0 L689.5,508.5 L690.0,509.0 L690.5,509.4 L691.0,509.8 L691.5,510.2 L692.0,510.4 L692.5,510.8 L693.0,511.2 L693.5,511.5 L694.0,511.9 L694.5,512.2 L695.0,512.5 L695.5,512.9 L696.0,513.2 L696.5,513.5 L697.0,513.8 L697.5,514.0 L698.0,514.3 L698.5,514.6 L699.0,514.8 L699.5,515.1 L700.0,515.3 L700.5,515.6 L701.0,515.8 L701.5,516.0 L702.0,516.3 L702.5,516.5 L703.0,516.7 L703.5,516.9 L704.0,517.1 L704.5,517.3 L705.0,517.5 L705.5,517.7 L706.0,517.9 L706.5,518.0 L707.0,518.2 L707.5,518.4 L708.0,518.6 L708.5,518.7 L709.0,518.9 L709.5,519.0 L710.0,519.2 L710.5,519.3 L711.0,519.5 L711.5,519.6 L712.0,519.7 L712.5,519.9 L713.0,520.0 L713.5,520.1 L714.0,520.2 L714.5,520.4 L715.0,520.5 L715.5,520.6 L716.0,520.7 L716.5,520.8 L717.0,520.9 L717.5,521.0 L718.0,521.1 L718.5,521.2 L719.0,521.3 L719.5,521.4 L720.0,521.5 L720.5,521.6 L721.0,521.7 L721.5,521.8 L722.0,521.9 L722.5,522.0 L723.0,522.0 L723.5,522.1 L724.0,522.2 L724.5,522.2 L725.0,522.3 L725.5,522.4 L726.0,522.4 L726.5,522.5 L727.0,522.5 L727.5,522.6 L728.0,522.6 L728.5,522.7 L729.0,522.7 L729.5,522.8 L730.0,522.8 L730.5,522.9 L731.0,522.9 L731.5,522.9 L732.0,523.0 L732.5,523.0 L733.0,523.0 L733.5,523.1 L734.0,523.1 L734.5,523.1 L735.0,523.2 L735.5,523.2 L736.0,523.2 L736.5,523.2 L737.0,523.3 L737.5,523.3 L738.0,523.3 L738.5,523.3 L739.0,523.4 L739.5,523.4 L740.0,523.4 L740.5,523.4 L741.0,523.5 L741.5,523.5 L742.0,523.5 L742.5,523.5 L743.0,523.5 L743.5,523.6 L744.0,523.6 L744.5,523.6 L745.0,523.6 L745.5,523.6 L746.0,523.6 L746.5,523.7 L747.0,523.7 L747.5,523.7 L748.0,523.7 L748.5,523.7 L749.0,523.7 L749.5,523.7 L750.0,523.8 L750.5,523.8 L751.0,523.8 L751.5,523.8 L752.0,523.8 L752.5,523.8 L753.0,523.8 L753.5,523.8 L754.0,523.9 L754.5,523.9 L755.0,523.9 L755.5,523.9 L756.0,523.9 L756.5,523.9 L757.0,523.9 L757.5,523.9 L758.0,523.9 L758.5,523.9 L759.0,524.0 L759.5,524.0 L760.0,524.0 L760.5,524.0 L761.0,524.0 L761.5,524.0 L762.0,524.0 L762.5,524.0 L763.0,524.0 L763.5,524.0 L764.0,524.0 L764.5,524.0 L765.0,524.0 L765.5,524.1 L766.0,524.1 L766.5,524.1 L767.0,524.1 L767.5,524.1 L768.0,524.1 L768.5,524.1 L769.0,524.1 L769.5,524.1 L770.0,524.1 L770.5,524.1 L771.0,524.1 L771.5,524.1 L772.0,524.1 L772.5,524.1 L773.0,524.1 L773.5,524.1 L774.0,524.1 L774.5,524.1 L775.0,524.1 L775.5,524.1 L776.0,524.1 L776.5,524.1 L777.0,524.1 L777.5,524.1 L778.0,524.1 L778.5,524.1 L779.0,524.1 L779.5,524.2 L780.0,524.2 L780.5,524.2 L781.0,524.2 L781.5,524.2 L782.0,524.2 L782.5,524.2 L783.0,524.2 L783.5,524.2 L784.0,524.2 L784.5,524.2 L785.0,524.2 L785.5,524.2 L786.0,524.2 L786.5,524.2 L787.0,524.2 L787.5,524.2 L788.0,524.2 L788.5,524.2 L789.0,524.2 L789.5,524.2 L790.0,524.2 L790.5,524.2 L791.0,524.2 L791.5,524.2 L792.0,524.2 L792.5,524.2 L793.0,524.2 L793.5,524.2 L794.0,524.2 L794.5,524.2 L795.0,524.2 L795.5,524.2 L796.0,524.2 L796.5,524.2 L797.0,524.2 L797.5,524.2 L798.0,524.2" stroke="#ff7f0e" stroke-width="3.0" stroke-dasharray="10.6 4.6"/>
<path d="M72.0,288.6 L798.0,288.6" stroke="#d62728" stroke-width="3.0" stroke-linecap="square"/>
<path d="M72.0,290.2 L72.5,292.0 L73.0,293.9 L73.5,295.8 L74.0,297.4 L74.5,298.5 L75.0,298.9 L75.5,298.4 L76.0,297.3 L76.5,295.7 L77.0,293.8 L77.5,291.8 L78.0,290.1 L78.5,288.7 L79.0,288.0 L79.5,287.8 L80.0,288.2 L80.5,289.1 L81.0,290.4 L81.5,291.9 L82.0,293.4 L82.5,294.7 L83.0,295.6 L83.5,296.1 L84.0,296.0 L84.5,295.3 L85.0,294.2 L85.5,292.8 L86.0,291.3 L86.5,289.8 L87.0,288.6 L87.5,287.8 L88.0,287.5 L88.5,287.8 L89.0,288.6 L89.5,289.8 L90.0,291.3 L90.5,292.8 L91.0,294.2 L91.5,295.2 L92.0,295.9 L92.5,295.9 L93.0,295.5 L93.5,294.5 L94.0,293.2 L94.5,291.7 L95.0,290.2 L95.5,288.9 L96.0,288.0 L96.5,287.5 L97.0,287.6 L97.5,288.2 L98.0,289.2 L98.5,290.6 L99.0,292.1 L99.5,293.6 L100.0,294.8 L100.5,295.6 L101.0,295.8 L101.5,295.6 L102.0,294.8 L102.5,293.6 L103.0,292.2 L103.5,290.6 L104.0,289.2 L104.5,288.2 L105.0,287.5 L105.5,287.4 L106.0,287.8 L106.5,288.7 L107.0,290.0 L107.5,291.5 L108.0,293.0 L108.5,294.3 L109.0,295.2 L109.5,295.7 L110.0,295.6 L110.5,295.0 L111.0,293.9 L111.5,292.6 L112.0,291.1 L112.5,289.6 L113.0,288.4 L113.5,287.6 L114.0,287.3 L114.5,287.5 L115.0,288.3 L115.5,289.5 L116.0,290.9 L116.5,292.4 L117.0,293.7 L117.5,294.8 L118.0,295.4 L118.5,295.6 L119.0,295.1 L119.5,294.2 L120.0,293.0 L120.5,291.5 L121.0,290.0 L121.5,288.7 L122.0,287.8 L122.5,287.3 L123.0,287.3 L123.5,287.9 L124.0,288.9 L124.5,290.3 L125.0,291.7 L125.5,293.2 L126.0,294.4 L126.5,295.2 L127.0,295.5 L127.5,295.2 L128.0,294.5 L128.5,293.3 L129.0,291.9 L129.5,290.4 L130.0,289.1 L130.5,288.0 L131.0,287.3 L131.5,287.2 L132.0,287.6 L132.5,288.4 L133.0,289.7 L133.5,291.1 L134.0,292.6 L134.5,293.9 L135.0,294.8 L135.5,295.3 L136.0,295.2 L136.5,294.7 L137.0,293.7 L137.5,292.3 L138.0,290.9 L138.5,289.4 L139.0,288.2 L139.5,287.4 L140.0,287.1 L140.5,287.3 L141.0,288.0 L141.5,289.1 L142.0,290.5 L142.5,292.0 L143.0,293.3 L143.5,294.4 L144.0,295.1 L144.5,295.2 L145.0,294.8 L145.5,294.0 L146.0,292.7 L146.5,291.3 L147.0,289.8 L147.5,288.5 L148.0,287.6 L148.5,287.1 L149.0,287.1 L149.5,287.6 L150.0,288.6 L150.5,289.9 L151.0,291.4 L151.5,292.8 L152.0,294.0 L152.5,294.8 L153.0,295.1 L153.5,294.9 L154.0,294.2 L154.5,293.1 L155.0,291.7 L155.5,290.2 L156.0,288.9 L156.5,287.8 L157.0,287.1 L157.5,287.0 L158.0,287.3 L158.5,288.2 L159.0,289.4 L159.5,290.8 L160.0,292.2 L160.5,293.5 L161.0,294.4 L161.5,294.9 L162.0,294.9 L162.5,294.4 L163.0,293.4 L163.5,292.1 L164.0,290.7 L164.5,289.3 L165.0,288.1 L165.5,287.2 L166.0,286.9 L166.5,287.1 L167.0,287.8 L167.5,288.8 L168.0,290.2 L168.5,291.6 L169.0,293.0 L169.5,294.1 L170.0,294.7 L170.5,294.9 L171.0,294.5 L171.5,293.7 L172.0,292.5 L172.5,291.1 L173.0,289.7 L173.5,288.4 L174.0,287.4 L174.5,286.9 L175.0,286.9 L175.5,287.4 L176.0,288.3 L176.5,289.6 L177.0,291.0 L177.5,292.4 L178.0,293.6 L178.5,294.4 L179.0,294.8 L179.5,294.6 L180.0,293.9 L180.5,292.9 L181.0,291.5 L181.5,290.1 L182.0,288.7 L182.5,287.6 L183.0,287.0 L183.5,286.8 L184.0,287.1 L184.5,287.9 L185.0,289.1 L185.5,290.5 L186.0,291.9 L186.5,293.2 L187.0,294.1 L187.5,294.6 L188.0,294.6 L188.5,294.1 L189.0,293.2 L189.5,291.9 L190.0,290.5 L190.5,289.1 L191.0,287.9 L191.5,287.1 L192.0,286.7 L192.5,286.9 L193.0,287.5 L193.5,288.6 L194.0,289.9 L194.5,291.3 L195.0,292.7 L195.5,293.7 L196.0,294.4 L196.5,294.6 L197.0,294.3 L197.5,293.5 L198.0,292.3 L198.5,290.9 L199.0,289.5 L199.5,288.2 L200.0,287.3 L200.5,286.7 L201.0,286.7 L201.5,287.2 L202.0,288.1 L202.5,289.3 L203.0,290.7 L203.5,292.1 L204.0,293.3 L204.5,294.1 L205.0,294.5 L205.5,294.3 L206.0,293.7 L206.5,292.7 L207.0,291.3 L207.5,289.9 L208.0,288.6 L208.5,287.5 L209.0,286.8 L209.5,286.6 L210.0,286.9 L210.5,287.7 L211.0,288.8 L211.5,290.2 L212.0,291.6 L212.5,292.8 L213.0,293.8 L213.5,294.3 L214.0,294.4 L214.5,293.9 L215.0,293.0 L215.5,291.7 L216.0,290.3 L216.5,289.0 L217.0,287.8 L217.5,286.9 L218.0,286.6 L218.5,286.7 L219.0,287.3 L219.5,288.3 L220.0,289.6 L220.5,291.0 L221.0,292.3 L221.5,293.4 L222.0,294.1 L222.5,294.3 L223.0,294.0 L223.5,293.3 L224.0,292.1 L224.5,290.8 L225.0,289.4 L225.5,288.1 L226.0,287.1 L226.5,286.6 L227.0,286.5 L227.5,287.0 L228.0,287.9 L228.5,289.1 L229.0,290.5 L229.5,291.8 L230.0,293.0 L230.5,293.8 L231.0,294.2 L231.5,294.1 L232.0,293.5 L232.5,292.5 L233.0,291.2 L233.5,289.8 L234.0,288.5 L234.5,287.4 L235.0,286.7 L235.5,286.4 L236.0,286.7 L236.5,287.5 L237.0,288.6 L237.5,289.9 L238.0,291.3 L238.5,292.6 L239.0,293.5 L239.5,294.1 L240.0,294.1 L240.5,293.7 L241.0,292.8 L241.5,291.6 L242.0,290.2 L242.5,288.9 L243.0,287.7 L243.5,286.8 L244.0,286.4 L244.5,286.5 L245.0,287.1 L245.5,288.1 L246.0,289.4 L246.5,290.8 L247.0,292.1 L247.5,293.2 L248.0,293.9 L248.5,294.1 L249.0,293.8 L249.5,293.1 L250.0,292.0 L250.5,290.7 L251.0,289.3 L251.5,288.0 L252.0,287.0 L252.5,286.5 L253.0,286.4 L253.5,286.8 L254.0,287.7 L254.5,288.8 L255.0,290.2 L255.5,291.6 L256.0,292.7 L256.5,293.6 L257.0,294.0 L257.5,293.9 L258.0,293.3 L258.5,292.3 L259.0,291.1 L259.5,289.7 L260.0,288.4 L260.5,287.3 L261.0,286.6 L261.5,286.3 L262.0,286.6 L262.5,287.3 L263.0,288.4 L263.5,289.7 L264.0,291.0 L264.5,292.3 L265.0,293.3 L265.5,293.8 L266.0,293.9 L266.5,293.5 L267.0,292.7 L267.5,291.5 L268.0,290.1 L268.5,288.8 L269.0,287.6 L269.5,286.7 L270.0,286.3 L270.5,286.4 L271.0,286.9 L271.5,287.9 L272.0,289.1 L272.5,290.5 L273.0,291.8 L273.5,292.9 L274.0,293.6 L274.5,293.9 L275.0,293.6 L275.5,292.9 L276.0,291.9 L276.5,290.6 L277.0,289.2 L277.5,287.9 L278.0,286.9 L278.5,286.4 L279.0,286.3 L279.5,286.6 L280.0,287.5 L280.5,288.6 L281.0,290.0 L281.5,291.3 L282.0,292.5 L282.5,293.4 L283.0,293.8 L283.5,293.7 L284.0,293.2 L284.5,292.2 L285.0,291.0 L285.5,289.6 L286.0,288.3 L286.5,287.2 L287.0,286.5 L287.5,286.2 L288.0,286.4 L288.5,287.1 L289.0,288.2 L289.5,289.5 L290.0,290.8 L290.5,292.1 L291.0,293.1 L291.5,293.6 L292.0,293.7 L292.5,293.4 L293.0,292.5 L293.5,291.4 L294.0,290.0 L294.5,288.7 L295.0,287.5 L295.5,286.6 L296.0,286.2 L296.5,286.3 L297.0,286.8 L297.5,287.7 L298.0,288.9 L298.5,290.3 L299.0,291.6 L299.5,292.7 L300.0,293.4 L300.5,293.7 L301.0,293.5 L301.5,292.8 L302.0,291.8 L302.5,290.5 L303.0,289.1 L303.5,287.9 L304.0,286.9 L304.5,286.3 L305.0,286.1 L305.5,286.5 L306.0,287.3 L306.5,288.5 L307.0,289.8 L307.5,291.1 L308.0,292.3 L308.5,293.2 L309.0,293.6 L309.5,293.6 L310.0,293.1 L310.5,292.1 L311.0,290.9 L311.5,289.6 L312.0,288.2 L312.5,287.1 L313.0,286.4 L313.5,286.1 L314.0,286.3 L314.5,287.0 L315.0,288.0 L315.5,289.3 L316.0,290.6 L316.5,291.9 L317.0,292.9 L317.5,293.5 L318.0,293.6 L318.5,293.2 L319.0,292.4 L319.5,291.3 L320.0,290.0 L320.5,288.7 L321.0,287.5 L321.5,286.6 L322.0,286.1 L322.5,286.1 L323.0,286.6 L323.5,287.6 L324.0,288.8 L324.5,290.1 L325.0,291.4 L325.5,292.5 L326.0,293.3 L326.5,293.6 L327.0,293.4 L327.5,292.7 L328.0,291.7 L328.5,290.4 L329.0,289.1 L329.5,287.8 L330.0,286.8 L330.5,286.2 L331.0,286.1 L331.5,286.4 L332.0,287.2 L332.5,288.3 L333.0,289.6 L333.5,290.9 L334.0,292.1 L334.5,293.0 L335.0,293.5 L335.5,293.5 L336.0,293.0 L336.5,292.1 L337.0,290.9 L337.5,289.5 L338.0,288.2 L338.5,287.1 L339.0,286.3 L339.5,286.0 L340.0,286.2 L340.5,286.8 L341.0,287.8 L341.5,289.1 L342.0,290.4 L342.5,291.7 L343.0,292.7 L343.5,293.3 L344.0,293.5 L344.5,293.2 L345.0,292.4 L345.5,291.3 L346.0,290.0 L346.5,288.6 L347.0,287.4 L347.5,286.5 L348.0,286.1 L348.5,286.1 L349.0,286.5 L349.5,287.4 L350.0,288.6 L350.5,289.9 L351.0,291.3 L351.5,292.4 L352.0,293.1 L352.5,293.4 L353.0,293.3 L353.5,292.7 L354.0,291.7 L354.5,290.4 L355.0,289.1 L355.5,287.8 L356.0,286.8 L356.5,286.2 L357.0,286.0 L357.5,286.3 L358.0,287.1 L358.5,288.2 L359.0,289.5 L359.5,290.8 L360.0,292.0 L360.5,292.9 L361.0,293.4 L361.5,293.4 L362.0,292.9 L362.5,292.0 L363.0,290.8 L363.5,289.5 L364.0,288.2 L364.5,287.1 L365.0,286.3 L365.5,286.0 L366.0,286.1 L366.5,286.7 L367.0,287.7 L367.5,289.0 L368.0,290.3 L368.5,291.6 L369.0,292.6 L369.5,293.2 L370.0,293.4 L370.5,293.1 L371.0,292.3 L371.5,291.3 L372.0,290.0 L372.5,288.6 L373.0,287.4 L373.5,286.5 L374.0,286.0 L374.5,286.0 L375.0,286.4 L375.5,287.3 L376.0,288.5 L376.5,289.8 L377.0,291.1 L377.5,292.2 L378.0,293.0 L378.5,293.4 L379.0,293.2 L379.5,292.6 L380.0,291.6 L380.5,290.4 L381.0,289.1 L381.5,287.8 L382.0,286.8 L382.5,286.1 L383.0,285.9 L383.5,286.2 L384.0,287.0 L384.5,288.0 L385.0,289.3 L385.5,290.7 L386.0,291.9 L386.5,292.8 L387.0,293.3 L387.5,293.3 L388.0,292.9 L388.5,292.0 L389.0,290.8 L389.5,289.5 L390.0,288.2 L390.5,287.1 L391.0,286.3 L391.5,285.9 L392.0,286.1 L392.5,286.6 L393.0,287.6 L393.5,288.8 L394.0,290.2 L394.5,291.4 L395.0,292.5 L395.5,293.1 L396.0,293.3 L396.5,293.1 L397.0,292.3 L397.5,291.3 L398.0,290.0 L398.5,288.6 L399.0,287.4 L399.5,286.5 L400.0,286.0 L400.5,286.0 L401.0,286.4 L401.5,287.2 L402.0,288.4 L402.5,289.7 L403.0,291.0 L403.5,292.1 L404.0,292.9 L404.5,293.3 L405.0,293.2 L405.5,292.6 L406.0,291.7 L406.5,290.4 L407.0,289.1 L407.5,287.8 L408.0,286.8 L408.5,286.1 L409.0,285.9 L409.5,286.2 L410.0,286.9 L410.5,287.9 L411.0,289.2 L411.5,290.6 L412.0,291.8 L412.5,292.7 L413.0,293.2 L413.5,293.3 L414.0,292.9 L414.5,292.0 L415.0,290.9 L415.5,289.6 L416.0,288.2 L416.5,287.1 L417.0,286.3 L417.5,285.9 L418.0,286.0 L418.5,286.6 L419.0,287.5 L419.5,288.8 L420.0,290.1 L420.5,291.4 L421.0,292.4 L421.5,293.1 L422.0,293.3 L422.5,293.1 L423.0,292.4 L423.5,291.3 L424.0,290.0 L424.5,288.7 L425.0,287.5 L425.5,286.5 L426.0,286.0 L426.5,285.9 L427.0,286.3 L427.5,287.2 L428.0,288.3 L428.5,289.6 L429.0,290.9 L429.5,292.1 L430.0,292.9 L430.5,293.3 L431.0,293.2 L431.5,292.6 L432.0,291.7 L432.5,290.5 L433.0,289.1 L433.5,287.9 L434.0,286.8 L434.5,286.1 L435.0,285.9 L435.5,286.1 L436.0,286.8 L436.5,287.9 L437.0,289.1 L437.5,290.5 L438.0,291.7 L438.5,292.6 L439.0,293.2 L439.5,293.3 L440.0,292.9 L440.5,292.1 L441.0,290.9 L441.5,289.6 L442.0,288.3 L442.5,287.2 L443.0,286.3 L443.5,285.9 L444.0,286.0 L444.5,286.5 L445.0,287.5 L445.5,288.7 L446.0,290.0 L446.5,291.3 L447.0,292.4 L447.5,293.1 L448.0,293.3 L448.5,293.1 L449.0,292.4 L449.5,291.4 L450.0,290.1 L450.5,288.8 L451.0,287.5 L451.5,286.6 L452.0,286.0 L452.5,285.9 L453.0,286.3 L453.5,287.1 L454.0,288.2 L454.5,289.6 L455.0,290.9 L455.5,292.0 L456.0,292.9 L456.5,293.3 L457.0,293.2 L457.5,292.7 L458.0,291.8 L458.5,290.6 L459.0,289.2 L459.5,287.9 L460.0,286.9 L460.5,286.2 L461.0,285.9 L461.5,286.1 L462.0,286.8 L462.5,287.8 L463.0,289.1 L463.5,290.4 L464.0,291.7 L464.5,292.6 L465.0,293.2 L465.5,293.3 L466.0,292.9 L466.5,292.1 L467.0,291.0 L467.5,289.7 L468.0,288.4 L468.5,287.2 L469.0,286.4 L469.5,286.0 L470.0,286.0 L470.5,286.5 L471.0,287.4 L471.5,288.6 L472.0,290.0 L472.5,291.3 L473.0,292.3 L473.5,293.1 L474.0,293.3 L474.5,293.1 L475.0,292.5 L475.5,291.4 L476.0,290.2 L476.5,288.8 L477.0,287.6 L477.5,286.6 L478.0,286.1 L478.5,285.9 L479.0,286.3 L479.5,287.1 L480.0,288.2 L480.5,289.5 L481.0,290.8 L481.5,292.0 L482.0,292.9 L482.5,293.3 L483.0,293.3 L483.5,292.8 L484.0,291.9 L484.5,290.7 L485.0,289.3 L485.5,288.0 L486.0,287.0 L486.5,286.2 L487.0,285.9 L487.5,286.1 L488.0,286.8 L488.5,287.8 L489.0,289.1 L489.5,290.4 L490.0,291.6 L490.5,292.6 L491.0,293.2 L491.5,293.4 L492.0,293.0 L492.5,292.2 L493.0,291.1 L493.5,289.8 L494.0,288.5 L494.5,287.3 L495.0,286.4 L495.5,286.0 L496.0,286.0 L496.5,286.5 L497.0,287.4 L497.5,288.6 L498.0,290.0 L498.5,291.3 L499.0,292.3 L499.5,293.1 L500.0,293.4 L500.5,293.2 L501.0,292.6 L501.5,291.6 L502.0,290.3 L502.5,289.0 L503.0,287.7 L503.5,286.7 L504.0,286.1 L504.5,286.0 L505.0,286.3 L505.5,287.1 L506.0,288.2 L506.5,289.5 L507.0,290.8 L507.5,292.0 L508.0,292.9 L508.5,293.4 L509.0,293.4 L509.5,292.9 L510.0,292.0 L510.5,290.8 L511.0,289.5 L511.5,288.2 L512.0,287.1 L512.5,286.3 L513.0,286.0 L513.5,286.2 L514.0,286.8 L514.5,287.8 L515.0,289.1 L515.5,290.4 L516.0,291.7 L516.5,292.7 L517.0,293.3 L517.5,293.4 L518.0,293.1 L518.5,292.4 L519.0,291.3 L519.5,289.9 L520.0,288.6 L520.5,287.4 L521.0,286.5 L521.5,286.1 L522.0,286.1 L522.5,286.5 L523.0,287.4 L523.5,288.6 L524.0,290.0 L524.5,291.3 L525.0,292.4 L525.5,293.2 L526.0,293.5 L526.5,293.3 L527.0,292.7 L527.5,291.7 L528.0,290.4 L528.5,289.1 L529.0,287.8 L529.5,286.8 L530.0,286.2 L530.5,286.0 L531.0,286.3 L531.5,287.1 L532.0,288.2 L532.5,289.5 L533.0,290.9 L533.5,292.1 L534.0,293.0 L534.5,293.5 L535.0,293.5 L535.5,293.0 L536.0,292.1 L536.5,290.9 L537.0,289.6 L537.5,288.3 L538.0,287.2 L538.5,286.4 L539.0,286.1 L539.5,286.2 L540.0,286.8 L540.5,287.8 L541.0,289.1 L541.5,290.4 L542.0,291.7 L542.5,292.7 L543.0,293.4 L543.5,293.6 L544.0,293.3 L544.5,292.5 L545.0,291.4 L545.5,290.1 L546.0,288.8 L546.5,287.6 L547.0,286.6 L547.5,286.1 L548.0,286.1 L548.5,286.6 L549.0,287.5 L549.5,288.7 L550.0,290.0 L550.5,291.3 L551.0,292.4 L551.5,293.2 L552.0,293.6 L552.5,293.5 L553.0,292.9 L553.5,291.9 L554.0,290.6 L554.5,289.3 L555.0,288.0 L555.5,287.0 L556.0,286.3 L556.5,286.1 L557.0,286.4 L557.5,287.1 L558.0,288.2 L558.5,289.6 L559.0,290.9 L559.5,292.1 L560.0,293.1 L560.5,293.6 L561.0,293.6 L561.5,293.2 L562.0,292.3 L562.5,291.1 L563.0,289.8 L563.5,288.5 L564.0,287.3 L564.5,286.5 L565.0,286.1 L565.5,286.3 L566.0,286.9 L566.5,287.9 L567.0,289.1 L567.5,290.5 L568.0,291.8 L568.5,292.8 L569.0,293.5 L569.5,293.7 L570.0,293.4 L570.5,292.7 L571.0,291.6 L571.5,290.3 L572.0,288.9 L572.5,287.7 L573.0,286.8 L573.5,286.3 L574.0,286.2 L574.5,286.6 L575.0,287.5 L575.5,288.7 L576.0,290.0 L576.5,291.4 L577.0,292.5 L577.5,293.4 L578.0,293.7 L578.5,293.6 L579.0,293.1 L579.5,292.1 L580.0,290.8 L580.5,289.5 L581.0,288.2 L581.5,287.1 L582.0,286.4 L582.5,286.2 L583.0,286.5 L583.5,287.2 L584.0,288.3 L584.5,289.6 L585.0,291.0 L585.5,292.2 L586.0,293.2 L586.5,293.7 L587.0,293.8 L587.5,293.4 L588.0,292.5 L588.5,291.3 L589.0,290.0 L589.5,288.6 L590.0,287.5 L590.5,286.6 L591.0,286.3 L591.5,286.4 L592.0,286.9 L592.5,287.9 L593.0,289.2 L593.5,290.6 L594.0,291.9 L594.5,292.9 L595.0,293.6 L595.5,293.9 L596.0,293.6 L596.5,292.9 L597.0,291.8 L597.5,290.5 L598.0,289.1 L598.5,287.9 L599.0,286.9 L599.5,286.4 L600.0,286.3 L600.5,286.7 L601.0,287.6 L601.5,288.8 L602.0,290.1 L602.5,291.5 L603.0,292.7 L603.5,293.5 L604.0,293.9 L604.5,293.8 L605.0,293.3 L605.5,292.3 L606.0,291.0 L606.5,289.7 L607.0,288.4 L607.5,287.3 L608.0,286.6 L608.5,286.3 L609.0,286.6 L609.5,287.3 L610.0,288.4 L610.5,289.7 L611.0,291.1 L611.5,292.3 L612.0,293.3 L612.5,293.9 L613.0,294.0 L613.5,293.6 L614.0,292.7 L614.5,291.6 L615.0,290.2 L615.5,288.8 L616.0,287.7 L616.5,286.8 L617.0,286.4 L617.5,286.5 L618.0,287.0 L618.5,288.0 L619.0,289.3 L619.5,290.7 L620.0,292.0 L620.5,293.1 L621.0,293.8 L621.5,294.1 L622.0,293.9 L622.5,293.2 L623.0,292.1 L623.5,290.8 L624.0,289.4 L624.5,288.1 L625.0,287.1 L625.5,286.5 L626.0,286.4 L626.5,286.8 L627.0,287.7 L627.5,288.9 L628.0,290.2 L628.5,291.6 L629.0,292.8 L629.5,293.7 L630.0,294.1 L630.5,294.1 L631.0,293.5 L631.5,292.6 L632.0,291.3 L632.5,289.9 L633.0,288.6 L633.5,287.5 L634.0,286.7 L634.5,286.4 L635.0,286.7 L635.5,287.4 L636.0,288.5 L636.5,289.8 L637.0,291.2 L637.5,292.5 L638.0,293.5 L638.5,294.1 L639.0,294.2 L639.5,293.8 L640.0,293.0 L640.5,291.8 L641.0,290.5 L641.5,289.1 L642.0,287.9 L642.5,287.0 L643.0,286.5 L643.5,286.6 L644.0,287.1 L644.5,288.1 L645.0,289.4 L645.5,290.8 L646.0,292.1 L646.5,293.3 L647.0,294.0 L647.5,294.3 L648.0,294.1 L648.5,293.4 L649.0,292.3 L649.5,291.0 L650.0,289.6 L650.5,288.3 L651.0,287.3 L651.5,286.7 L652.0,286.6 L652.5,286.9 L653.0,287.8 L653.5,289.0 L654.0,290.3 L654.5,291.7 L655.0,293.0 L655.5,293.9 L656.0,294.4 L656.5,294.3 L657.0,293.8 L657.5,292.8 L658.0,291.6 L658.5,290.2 L659.0,288.8 L659.5,287.7 L660.0,286.9 L660.5,286.6 L661.0,286.8 L661.5,287.5 L662.0,288.6 L662.5,289.9 L663.0,291.3 L663.5,292.7 L664.0,293.7 L664.5,294.3 L665.0,294.5 L665.5,294.1 L666.0,293.3 L666.5,292.1 L667.0,290.7 L667.5,289.3 L668.0,288.1 L668.5,287.2 L669.0,286.7 L669.5,286.7 L670.0,287.3 L670.5,288.2 L671.0,289.5 L671.5,290.9 L672.0,292.3 L672.5,293.5 L673.0,294.3 L673.5,294.6 L674.0,294.4 L674.5,293.7 L675.0,292.7 L675.5,291.3 L676.0,289.9 L676.5,288.6 L677.0,287.5 L677.5,286.9 L678.0,286.7 L678.5,287.1 L679.0,287.9 L679.5,289.1 L680.0,290.5 L680.5,291.9 L681.0,293.2 L681.5,294.1 L682.0,294.6 L682.5,294.6 L683.0,294.1 L683.5,293.2 L684.0,291.9 L684.5,290.5 L685.0,289.1 L685.5,287.9 L686.0,287.1 L686.5,286.8 L687.0,287.0 L687.5,287.6 L688.0,288.7 L688.5,290.1 L689.0,291.5 L689.5,292.9 L690.0,293.9 L690.5,294.6 L691.0,294.8 L691.5,294.4 L692.0,293.6 L692.5,292.4 L693.0,291.0 L693.5,289.6 L694.0,288.3 L694.5,287.4 L695.0,286.9 L695.5,286.9 L696.0,287.4 L696.5,288.4 L697.0,289.7 L697.5,291.1 L698.0,292.5 L698.5,293.7 L699.0,294.5 L699.5,294.9 L700.0,294.7 L700.5,294.1 L701.0,293.0 L701.5,291.6 L702.0,290.2 L702.5,288.8 L703.0,287.8 L703.5,287.1 L704.0,286.9 L704.5,287.2 L705.0,288.1 L705.5,289.3 L706.0,290.7 L706.5,292.1 L707.0,293.4 L707.5,294.4 L708.0,294.9 L708.5,294.9 L709.0,294.4 L709.5,293.5 L710.0,292.2 L710.5,290.8 L711.0,289.4 L711.5,288.2 L712.0,287.3 L712.5,287.0 L713.0,287.1 L713.5,287.8 L714.0,288.9 L714.5,290.2 L715.0,291.7 L715.5,293.1 L716.0,294.2 L716.5,294.9 L717.0,295.1 L717.5,294.8 L718.0,294.0 L718.5,292.8 L719.0,291.4 L719.5,289.9 L720.0,288.6 L720.5,287.6 L721.0,287.1 L721.5,287.1 L722.0,287.6 L722.5,288.5 L723.0,289.8 L723.5,291.3 L724.0,292.7 L724.5,294.0 L725.0,294.8 L725.5,295.2 L726.0,295.1 L726.5,294.4 L727.0,293.3 L727.5,292.0 L728.0,290.5 L728.5,289.1 L729.0,288.0 L729.5,287.3 L730.0,287.1 L730.5,287.4 L731.0,288.2 L731.5,289.4 L732.0,290.9 L732.5,292.3 L733.0,293.7 L733.5,294.7 L734.0,295.2 L734.5,295.3 L735.0,294.8 L735.5,293.9 L736.0,292.6 L736.5,291.1 L737.0,289.7 L737.5,288.4 L738.0,287.6 L738.5,287.2 L739.0,287.3 L739.5,288.0 L740.0,289.1 L740.5,290.4 L741.0,291.9 L741.5,293.3 L742.0,294.5 L742.5,295.2 L743.0,295.5 L743.5,295.2 L744.0,294.4 L744.5,293.2 L745.0,291.7 L745.5,290.3 L746.0,288.9 L746.5,287.9 L747.0,287.3 L747.5,287.3 L748.0,287.8 L748.5,288.7 L749.0,290.0 L749.5,291.5 L750.0,293.0 L750.5,294.2 L751.0,295.1 L751.5,295.6 L752.0,295.4 L752.5,294.8 L753.0,293.7 L753.5,292.4 L754.0,290.9 L754.5,289.5 L755.0,288.3 L755.5,287.5 L756.0,287.3 L756.5,287.6 L757.0,288.4 L757.5,289.6 L758.0,291.1 L758.5,292.6 L759.0,293.9 L759.5,295.0 L760.0,295.6 L760.5,295.7 L761.0,295.2 L761.5,294.3 L762.0,293.0 L762.5,291.5 L763.0,290.0 L763.5,288.7 L764.0,287.8 L764.5,287.4 L765.0,287.5 L765.5,288.2 L766.0,289.2 L766.5,290.6 L767.0,292.2 L767.5,293.6 L768.0,294.8 L768.5,295.6 L769.0,295.8 L769.5,295.6 L770.0,294.8 L770.5,293.6 L771.0,292.1 L771.5,290.6 L772.0,289.2 L772.5,288.2 L773.0,287.6 L773.5,287.5 L774.0,288.0 L774.5,288.9 L775.0,290.2 L775.5,291.7 L776.0,293.2 L776.5,294.5 L777.0,295.5 L777.5,295.9 L778.0,295.9 L778.5,295.2 L779.0,294.2 L779.5,292.8 L780.0,291.3 L780.5,289.8 L781.0,288.6 L781.5,287.8 L782.0,287.5 L782.5,287.8 L783.0,288.6 L783.5,289.8 L784.0,291.3 L784.5,292.8 L785.0,294.2 L785.5,295.3 L786.0,296.0 L786.5,296.1 L787.0,295.6 L787.5,294.7 L788.0,293.4 L788.5,291.9 L789.0,290.4 L789.5,289.1 L790.0,288.2 L790.5,287.8 L791.0,288.0 L791.5,288.7 L792.0,290.1 L792.5,291.8 L793.0,293.8 L793.5,295.7 L794.0,297.3 L794.5,298.4 L795.0,298.9 L795.5,298.5 L796.0,297.4 L796.5,295.8 L797.0,293.9 L797.5,292.0 L798.0,290.2" stroke="#2ca02c" stroke-width="3.0" stroke-dasharray="10.6 4.6"/>
</g>
<path d="M72.0,52.0 V532.7 M798.0,52.0 V532.7 M72.0,51.9 H798.0" fill="none" stroke="#262626" stroke-width="1.45" stroke-linecap="square"/>
<path d="M72.0,532.7 H798.0" fill="none" stroke="#262626" stroke-width="1.7" stroke-linecap="square"/>
<g stroke="#262626" stroke-width="1.35">
<line x1="72.0" y1="532.7" x2="72.0" y2="537.9000000000001"/>
<line x1="193.0" y1="532.7" x2="193.0" y2="537.9000000000001"/>
<line x1="314.0" y1="532.7" x2="314.0" y2="537.9000000000001"/>
<line x1="435.0" y1="532.7" x2="435.0" y2="537.9000000000001"/>
<line x1="556.0" y1="532.7" x2="556.0" y2="537.9000000000001"/>
<line x1="677.0" y1="532.7" x2="677.0" y2="537.9000000000001"/>
<line x1="798.0" y1="532.7" x2="798.0" y2="537.9000000000001"/>
<line x1="67.1" y1="525.0" x2="72.0" y2="525.0"/>
<line x1="798.0" y1="525.7" x2="802.9" y2="525.7"/>
<line x1="67.1" y1="446.2" x2="72.0" y2="446.2"/>
<line x1="798.0" y1="446.7" x2="802.9" y2="446.7"/>
<line x1="67.1" y1="367.3" x2="72.0" y2="367.3"/>
<line x1="798.0" y1="367.7" x2="802.9" y2="367.7"/>
<line x1="67.1" y1="288.5" x2="72.0" y2="288.5"/>
<line x1="798.0" y1="288.8" x2="802.9" y2="288.8"/>
<line x1="67.1" y1="209.7" x2="72.0" y2="209.7"/>
<line x1="798.0" y1="209.8" x2="802.9" y2="209.8"/>
<line x1="67.1" y1="130.9" x2="72.0" y2="130.9"/>
<line x1="798.0" y1="130.8" x2="802.9" y2="130.8"/>
<line x1="67.1" y1="52.0" x2="72.0" y2="52.0"/>
<line x1="798.0" y1="51.8" x2="802.9" y2="51.8"/>
</g>
<g font-size="23.0" fill="#000">
<text x="72.0" y="560" text-anchor="middle">−6</text>
<text x="193.0" y="560" text-anchor="middle">−4</text>
<text x="314.0" y="560" text-anchor="middle">−2</text>
<text x="435.0" y="560" text-anchor="middle">0</text>
<text x="556.0" y="560" text-anchor="middle">2</text>
<text x="677.0" y="560" text-anchor="middle">4</text>
<text x="798.0" y="560" text-anchor="middle">6</text>
<text x="61.8" y="534.1" text-anchor="end">0</text>
<text x="808.4" y="534.8">0.094</text>
<text x="61.8" y="455.3" text-anchor="end">10</text>
<text x="808.4" y="455.8">0.096</text>
<text x="61.8" y="376.4" text-anchor="end">20</text>
<text x="808.4" y="376.9">0.098</text>
<text x="61.8" y="297.6" text-anchor="end">30</text>
<text x="808.4" y="297.9">0.100</text>
<text x="61.8" y="218.8" text-anchor="end">40</text>
<text x="808.4" y="218.9">0.102</text>
<text x="61.8" y="140.0" text-anchor="end">50</text>
<text x="808.4" y="140.0">0.104</text>
<text x="61.8" y="61.1" text-anchor="end">60</text>
<text x="808.4" y="61.0">0.106</text>
<text x="435.0" y="589" text-anchor="middle">Energy / eV</text>
<text style="font-kerning:none" transform="translate(19.4,334.0) rotate(-90)">Γ<tspan font-size="16.1" dy="3.2">gr</tspan><tspan dy="-3.2" dx="1.0"> / eV</tspan></text>
<text style="font-kerning:none" transform="translate(897.4,336.0) rotate(-90)">Γ<tspan font-size="16.1" dy="3.2">tip</tspan><tspan dy="-3.2" dx="0.7"> / eV</tspan></text>
</g>
<rect x="83.5" y="63.4" width="204.2" height="79.6" rx="4.6" ry="4.6" fill="#fff" fill-opacity="0.8" stroke="#ccc" stroke-opacity="0.8" stroke-width="1.44"/>
<line x1="92.7" y1="82.1" x2="138.7" y2="82.1" stroke="#1f77b4" stroke-width="3.0" stroke-linecap="square"/>
<text x="157.8" y="91.3" font-size="23.0"><tspan style="font-kerning:none">Γ<tspan font-size="16.1" dy="3.2">gr</tspan><tspan dy="-3.2" dx="1.1"> (Exact)</tspan></tspan></text>
<line x1="92.7" y1="118.8" x2="138.7" y2="118.8" stroke="#ff7f0e" stroke-width="3.0" stroke-dasharray="10.8 4.5"/>
<text x="157.8" y="127.1" font-size="23.0"><tspan style="font-kerning:none">Γ<tspan font-size="16.1" dy="3.2">gr</tspan><tspan dy="-3.2" dx="1.1"> (Fit)</tspan></tspan></text>
<rect x="578.8" y="63.4" width="207.7" height="79.6" rx="4.6" ry="4.6" fill="#fff" fill-opacity="0.8" stroke="#ccc" stroke-opacity="0.8" stroke-width="1.44"/>
<line x1="588.0" y1="82.1" x2="634.0" y2="82.1" stroke="#d62728" stroke-width="3.0" stroke-linecap="square"/>
<text x="653.1" y="91.3" font-size="23.0"><tspan style="font-kerning:none">Γ<tspan font-size="16.1" dy="3.2">tip</tspan><tspan dy="-3.2" dx="1.1"> (Exact)</tspan></tspan></text>
<line x1="588.0" y1="118.8" x2="634.0" y2="118.8" stroke="#2ca02c" stroke-width="3.0" stroke-dasharray="10.8 4.5"/>
<text x="653.1" y="127.1" font-size="23.0"><tspan style="font-kerning:none">Γ<tspan font-size="16.1" dy="3.2">tip</tspan><tspan dy="-3.2" dx="1.1"> (Fit)</tspan></tspan></text>
<text transform="translate(1.8,28.7) scale(1.03,1)" font-size="38.3" font-weight="bold" style="font-family:'Liberation Sans','DejaVu Sans',sans-serif">A</text>
</g>
<g id="axB">
<g stroke="#b0b0b0" stroke-width="1.15" fill="none">
<line x1="1094.8" y1="52.0" x2="1094.8" y2="532.7"/>
<line x1="1198.5" y1="52.0" x2="1198.5" y2="532.7"/>
<line x1="1302.2" y1="52.0" x2="1302.2" y2="532.7"/>
<line x1="1405.9" y1="52.0" x2="1405.9" y2="532.7"/>
<line x1="1509.6" y1="52.0" x2="1509.6" y2="532.7"/>
<line x1="1613.3" y1="52.0" x2="1613.3" y2="532.7"/>
<line x1="1717.0" y1="52.0" x2="1717.0" y2="532.7"/>
<line x1="1043.0" y1="532.7" x2="1768.8" y2="532.7"/>
<line x1="1043.0" y1="436.6" x2="1768.8" y2="436.6"/>
<line x1="1043.0" y1="340.4" x2="1768.8" y2="340.4"/>
<line x1="1043.0" y1="244.3" x2="1768.8" y2="244.3"/>
<line x1="1043.0" y1="148.1" x2="1768.8" y2="148.1"/>
<line x1="1043.0" y1="52.0" x2="1768.8" y2="52.0"/>
</g>
<clipPath id="clipB"><rect x="1043.0" y="52.0" width="725.8" height="480.70000000000005"/></clipPath>
<g clip-path="url(#clipB)" fill="none" stroke-linejoin="round">
<path d="M1043.00,532.55 L1043.25,532.55 L1043.50,532.55 L1043.75,532.55 L1044.00,532.55 L1044.25,532.55 L1044.50,532.55 L1044.75,532.55 L1045.00,532.55 L1045.25,532.54 L1045.50,532.54 L1045.75,532.54 L1046.00,532.54 L1046.25,532.54 L1046.50,532.54 L1046.75,532.54 L1047.00,532.54 L1047.25,532.54 L1047.50,532.54 L1047.75,532.54 L1048.00,532.54 L1048.25,532.54 L1048.50,532.54 L1048.75,532.54 L1049.00,532.54 L1049.25,532.54 L1049.50,532.54 L1049.75,532.54 L1050.00,532.54 L1050.25,532.54 L1050.50,532.54 L1050.75,532.54 L1051.00,532.54 L1051.25,532.54 L1051.50,532.54 L1051.75,532.54 L1052.00,532.53 L1052.25,532.53 L1052.50,532.53 L1052.75,532.53 L1053.00,532.53 L1053.25,532.53 L1053.50,532.53 L1053.75,532.53 L1054.00,532.53 L1054.25,532.53 L1054.50,532.53 L1054.75,532.53 L1055.00,532.53 L1055.25,532.53 L1055.50,532.53 L1055.75,532.53 L1056.00,532.53 L1056.25,532.53 L1056.50,532.53 L1056.75,532.53 L1057.00,532.53 L1057.25,532.53 L1057.50,532.52 L1057.75,532.52 L1058.00,532.52 L1058.25,532.52 L1058.50,532.52 L1058.75,532.52 L1059.00,532.52 L1059.25,532.52 L1059.50,532.52 L1059.75,532.52 L1060.00,532.52 L1060.25,532.52 L1060.50,532.52 L1060.75,532.52 L1061.00,532.52 L1061.25,532.52 L1061.50,532.52 L1061.75,532.51 L1062.00,532.51 L1062.25,532.51 L1062.50,532.51 L1062.75,532.51 L1063.00,532.51 L1063.25,532.51 L1063.50,532.51 L1063.75,532.51 L1064.00,532.51 L1064.25,532.51 L1064.50,532.51 L1064.75,532.51 L1065.00,532.51 L1065.25,532.50 L1065.50,532.50 L1065.75,532.50 L1066.00,532.50 L1066.25,532.50 L1066.50,532.50 L1066.75,532.50 L1067.00,532.50 L1067.25,532.50 L1067.50,532.50 L1067.75,532.50 L1068.00,532.50 L1068.25,532.50 L1068.50,532.49 L1068.75,532.49 L1069.00,532.49 L1069.25,532.49 L1069.50,532.49 L1069.75,532.49 L1070.00,532.49 L1070.25,532.49 L1070.50,532.49 L1070.75,532.49 L1071.00,532.48 L1071.25,532.48 L1071.50,532.48 L1071.75,532.48 L1072.00,532.48 L1072.25,532.48 L1072.50,532.48 L1072.75,532.48 L1073.00,532.48 L1073.25,532.48 L1073.50,532.47 L1073.75,532.47 L1074.00,532.47 L1074.25,532.47 L1074.50,532.47 L1074.75,532.47 L1075.00,532.47 L1075.25,532.47 L1075.50,532.46 L1075.75,532.46 L1076.00,532.46 L1076.25,532.46 L1076.50,532.46 L1076.75,532.46 L1077.00,532.46 L1077.25,532.45 L1077.50,532.45 L1077.75,532.45 L1078.00,532.45 L1078.25,532.45 L1078.50,532.45 L1078.75,532.45 L1079.00,532.44 L1079.25,532.44 L1079.50,532.44 L1079.75,532.44 L1080.00,532.44 L1080.25,532.44 L1080.50,532.43 L1080.75,532.43 L1081.00,532.43 L1081.25,532.43 L1081.50,532.43 L1081.75,532.42 L1082.00,532.42 L1082.25,532.42 L1082.50,532.42 L1082.75,532.42 L1083.00,532.41 L1083.25,532.41 L1083.50,532.41 L1083.75,532.41 L1084.00,532.41 L1084.25,532.40 L1084.50,532.40 L1084.75,532.40 L1085.00,532.40 L1085.25,532.39 L1085.50,532.39 L1085.75,532.39 L1086.00,532.39 L1086.25,532.38 L1086.50,532.38 L1086.75,532.38 L1087.00,532.38 L1087.25,532.37 L1087.50,532.37 L1087.75,532.37 L1088.00,532.36 L1088.25,532.36 L1088.50,532.36 L1088.75,532.35 L1089.00,532.35 L1089.25,532.35 L1089.50,532.34 L1089.75,532.34 L1090.00,532.34 L1090.25,532.33 L1090.50,532.33 L1090.75,532.33 L1091.00,532.32 L1091.25,532.32 L1091.50,532.32 L1091.75,532.31 L1092.00,532.31 L1092.25,532.30 L1092.50,532.30 L1092.75,532.29 L1093.00,532.29 L1093.25,532.29 L1093.50,532.28 L1093.75,532.28 L1094.00,532.27 L1094.25,532.27 L1094.50,532.26 L1094.75,532.26 L1095.00,532.25 L1095.25,532.24 L1095.50,532.24 L1095.75,532.23 L1096.00,532.23 L1096.25,532.22 L1096.50,532.21 L1096.75,532.21 L1097.00,532.20 L1097.25,532.19 L1097.50,532.19 L1097.75,532.18 L1098.00,532.17 L1098.25,532.17 L1098.50,532.16 L1098.75,532.15 L1099.00,532.14 L1099.25,532.13 L1099.50,532.12 L1099.75,532.12 L1100.00,532.11 L1100.25,532.10 L1100.50,532.09 L1100.75,532.08 L1101.00,532.07 L1101.25,532.06 L1101.50,532.05 L1101.75,532.04 L1102.00,532.02 L1102.25,532.01 L1102.50,532.00 L1102.75,531.99 L1103.00,531.97 L1103.25,531.96 L1103.50,531.95 L1103.75,531.93 L1104.00,531.92 L1104.25,531.90 L1104.50,531.89 L1104.75,531.87 L1105.00,531.85 L1105.25,531.84 L1105.50,531.82 L1105.75,531.80 L1106.00,531.78 L1106.25,531.76 L1106.50,531.74 L1106.75,531.72 L1107.00,531.70 L1107.25,531.67 L1107.50,531.65 L1107.75,531.62 L1108.00,531.60 L1108.25,531.57 L1108.50,531.54 L1108.75,531.51 L1109.00,531.48 L1109.25,531.45 L1109.50,531.41 L1109.75,531.38 L1110.00,531.34 L1110.25,531.30 L1110.50,531.26 L1110.75,531.22 L1111.00,531.18 L1111.25,531.13 L1111.50,531.08 L1111.75,531.03 L1112.00,530.98 L1112.25,530.92 L1112.50,530.86 L1112.75,530.80 L1113.00,530.73 L1113.25,530.66 L1113.50,530.59 L1113.75,530.51 L1114.00,530.42 L1114.25,530.34 L1114.50,530.24 L1114.75,530.14 L1115.00,530.04 L1115.25,529.92 L1115.50,529.80 L1115.75,529.67 L1116.00,529.53 L1116.25,529.39 L1116.50,529.23 L1116.75,529.06 L1117.00,528.87 L1117.25,528.67 L1117.50,528.46 L1117.75,528.22 L1118.00,527.97 L1118.25,527.69 L1118.50,527.38 L1118.75,527.04 L1119.00,526.67 L1119.25,526.26 L1119.50,525.80 L1119.75,525.30 L1120.00,524.73 L1120.25,524.10 L1120.50,523.40 L1120.75,522.60 L1121.00,521.71 L1121.25,520.69 L1121.50,519.53 L1121.75,518.19 L1122.00,516.65 L1122.25,514.86 L1122.50,512.76 L1122.75,510.27 L1123.00,507.30 L1123.25,503.73 L1123.50,499.37 L1123.75,494.00 L1124.00,487.27 L1124.25,478.73 L1124.50,467.70 L1124.75,453.27 L1125.00,434.14 L1125.25,408.53 L1125.50,374.31 L1125.75,329.71 L1126.00,275.86 L1126.25,221.71 L1126.50,187.13 L1126.75,191.19 L1127.00,231.30 L1127.25,286.39 L1127.50,338.50 L1127.75,380.68 L1128.00,412.72 L1128.25,436.60 L1128.50,454.41 L1128.75,467.83 L1129.00,478.09 L1129.25,486.04 L1129.50,492.30 L1129.75,497.31 L1130.00,501.36 L1130.25,504.68 L1130.50,507.44 L1130.75,509.77 L1131.00,511.75 L1131.25,513.45 L1131.50,514.91 L1131.75,516.17 L1132.00,517.27 L1132.25,518.23 L1132.50,519.07 L1132.75,519.82 L1133.00,520.48 L1133.25,521.07 L1133.50,521.61 L1133.75,522.08 L1134.00,522.51 L1134.25,522.90 L1134.50,523.26 L1134.75,523.58 L1135.00,523.87 L1135.25,524.14 L1135.50,524.39 L1135.75,524.62 L1136.00,524.83 L1136.25,525.02 L1136.50,525.20 L1136.75,525.37 L1137.00,525.53 L1137.25,525.67 L1137.50,525.81 L1137.75,525.93 L1138.00,526.05 L1138.25,526.16 L1138.50,526.26 L1138.75,526.36 L1139.00,526.45 L1139.25,526.54 L1139.50,526.62 L1139.75,526.70 L1140.00,526.77 L1140.25,526.84 L1140.50,526.91 L1140.75,526.98 L1141.00,527.04 L1141.25,527.10 L1141.50,527.16 L1141.75,527.22 L1142.00,527.27 L1142.25,527.32 L1142.50,527.38 L1142.75,527.43 L1143.00,527.48 L1143.25,527.52 L1143.50,527.57 L1143.75,527.62 L1144.00,527.66 L1144.25,527.70 L1144.50,527.74 L1144.75,527.78 L1145.00,527.82 L1145.25,527.86 L1145.50,527.90 L1145.75,527.94 L1146.00,527.97 L1146.25,528.00 L1146.50,528.04 L1146.75,528.07 L1147.00,528.10 L1147.25,528.13 L1147.50,528.16 L1147.75,528.18 L1148.00,528.21 L1148.25,528.23 L1148.50,528.26 L1148.75,528.28 L1149.00,528.30 L1149.25,528.32 L1149.50,528.33 L1149.75,528.35 L1150.00,528.36 L1150.25,528.38 L1150.50,528.39 L1150.75,528.40 L1151.00,528.41 L1151.25,528.42 L1151.50,528.43 L1151.75,528.44 L1152.00,528.44 L1152.25,528.45 L1152.50,528.46 L1152.75,528.46 L1153.00,528.47 L1153.25,528.47 L1153.50,528.47 L1153.75,528.48 L1154.00,528.48 L1154.25,528.48 L1154.50,528.48 L1154.75,528.48 L1155.00,528.48 L1155.25,528.48 L1155.50,528.48 L1155.75,528.48 L1156.00,528.48 L1156.25,528.48 L1156.50,528.48 L1156.75,528.48 L1157.00,528.47 L1157.25,528.47 L1157.50,528.47 L1157.75,528.47 L1158.00,528.46 L1158.25,528.46 L1158.50,528.46 L1158.75,528.45 L1159.00,528.45 L1159.25,528.44 L1159.50,528.43 L1159.75,528.42 L1160.00,528.41 L1160.25,528.40 L1160.50,528.39 L1160.75,528.38 L1161.00,528.37 L1161.25,528.35 L1161.50,528.34 L1161.75,528.32 L1162.00,528.31 L1162.25,528.29 L1162.50,528.27 L1162.75,528.25 L1163.00,528.23 L1163.25,528.21 L1163.50,528.19 L1163.75,528.17 L1164.00,528.15 L1164.25,528.12 L1164.50,528.10 L1164.75,528.08 L1165.00,528.05 L1165.25,528.02 L1165.50,528.00 L1165.75,527.97 L1166.00,527.94 L1166.25,527.91 L1166.50,527.88 L1166.75,527.86 L1167.00,527.83 L1167.25,527.79 L1167.50,527.76 L1167.75,527.73 L1168.00,527.70 L1168.25,527.67 L1168.50,527.63 L1168.75,527.60 L1169.00,527.57 L1169.25,527.53 L1169.50,527.50 L1169.75,527.46 L1170.00,527.43 L1170.25,527.39 L1170.50,527.36 L1170.75,527.32 L1171.00,527.28 L1171.25,527.25 L1171.50,527.21 L1171.75,527.17 L1172.00,527.13 L1172.25,527.10 L1172.50,527.06 L1172.75,527.02 L1173.00,526.98 L1173.25,526.94 L1173.50,526.90 L1173.75,526.86 L1174.00,526.82 L1174.25,526.78 L1174.50,526.74 L1174.75,526.70 L1175.00,526.66 L1175.25,526.62 L1175.50,526.58 L1175.75,526.54 L1176.00,526.50 L1176.25,526.46 L1176.50,526.42 L1176.75,526.38 L1177.00,526.34 L1177.25,526.30 L1177.50,526.26 L1177.75,526.22 L1178.00,526.17 L1178.25,526.13 L1178.50,526.09 L1178.75,526.04 L1179.00,525.99 L1179.25,525.95 L1179.50,525.90 L1179.75,525.85 L1180.00,525.80 L1180.25,525.75 L1180.50,525.70 L1180.75,525.65 L1181.00,525.60 L1181.25,525.55 L1181.50,525.49 L1181.75,525.44 L1182.00,525.39 L1182.25,525.33 L1182.50,525.27 L1182.75,525.22 L1183.00,525.16 L1183.25,525.11 L1183.50,525.05 L1183.75,524.99 L1184.00,524.93 L1184.25,524.87 L1184.50,524.81 L1184.75,524.75 L1185.00,524.69 L1185.25,524.63 L1185.50,524.57 L1185.75,524.50 L1186.00,524.44 L1186.25,524.38 L1186.50,524.31 L1186.75,524.25 L1187.00,524.19 L1187.25,524.12 L1187.50,524.06 L1187.75,523.99 L1188.00,523.92 L1188.25,523.86 L1188.50,523.79 L1188.75,523.72 L1189.00,523.66 L1189.25,523.59 L1189.50,523.52 L1189.75,523.45 L1190.00,523.38 L1190.25,523.31 L1190.50,523.24 L1190.75,523.17 L1191.00,523.10 L1191.25,523.03 L1191.50,522.96 L1191.75,522.89 L1192.00,522.82 L1192.25,522.75 L1192.50,522.68 L1192.75,522.61 L1193.00,522.54 L1193.25,522.46 L1193.50,522.39 L1193.75,522.32 L1194.00,522.25 L1194.25,522.17 L1194.50,522.10 L1194.75,522.03 L1195.00,521.96 L1195.25,521.88 L1195.50,521.81 L1195.75,521.74 L1196.00,521.66 L1196.25,521.59 L1196.50,521.52 L1196.75,521.44 L1197.00,521.37 L1197.25,521.30 L1197.50,521.22 L1197.75,521.15 L1198.00,521.08 L1198.25,521.00 L1198.50,520.93 L1198.75,520.85 L1199.00,520.78 L1199.25,520.70 L1199.50,520.63 L1199.75,520.55 L1200.00,520.47 L1200.25,520.40 L1200.50,520.32 L1200.75,520.24 L1201.00,520.16 L1201.25,520.08 L1201.50,519.99 L1201.75,519.91 L1202.00,519.83 L1202.25,519.75 L1202.50,519.66 L1202.75,519.58 L1203.00,519.49 L1203.25,519.41 L1203.50,519.32 L1203.75,519.24 L1204.00,519.15 L1204.25,519.07 L1204.50,518.98 L1204.75,518.89 L1205.00,518.80 L1205.25,518.72 L1205.50,518.63 L1205.75,518.54 L1206.00,518.45 L1206.25,518.36 L1206.50,518.27 L1206.75,518.18 L1207.00,518.09 L1207.25,518.00 L1207.50,517.91 L1207.75,517.82 L1208.00,517.73 L1208.25,517.64 L1208.50,517.55 L1208.75,517.46 L1209.00,517.37 L1209.25,517.28 L1209.50,517.19 L1209.75,517.10 L1210.00,517.01 L1210.25,516.92 L1210.50,516.83 L1210.75,516.74 L1211.00,516.65 L1211.25,516.56 L1211.50,516.47 L1211.75,516.38 L1212.00,516.29 L1212.25,516.20 L1212.50,516.11 L1212.75,516.02 L1213.00,515.93 L1213.25,515.84 L1213.50,515.75 L1213.75,515.67 L1214.00,515.58 L1214.25,515.49 L1214.50,515.40 L1214.75,515.31 L1215.00,515.21 L1215.25,515.12 L1215.50,515.02 L1215.75,514.93 L1216.00,514.83 L1216.25,514.73 L1216.50,514.63 L1216.75,514.53 L1217.00,514.43 L1217.25,514.33 L1217.50,514.23 L1217.75,514.13 L1218.00,514.03 L1218.25,513.93 L1218.50,513.83 L1218.75,513.73 L1219.00,513.63 L1219.25,513.53 L1219.50,513.43 L1219.75,513.33 L1220.00,513.23 L1220.25,513.13 L1220.50,513.03 L1220.75,512.94 L1221.00,512.84 L1221.25,512.74 L1221.50,512.65 L1221.75,512.56 L1222.00,512.46 L1222.25,512.37 L1222.50,512.28 L1222.75,512.20 L1223.00,512.11 L1223.25,512.02 L1223.50,511.94 L1223.75,511.86 L1224.00,511.78 L1224.25,511.70 L1224.50,511.63 L1224.75,511.55 L1225.00,511.48 L1225.25,511.41 L1225.50,511.34 L1225.75,511.28 L1226.00,511.22 L1226.25,511.16 L1226.50,511.10 L1226.75,511.05 L1227.00,511.00 L1227.25,510.94 L1227.50,510.89 L1227.75,510.84 L1228.00,510.79 L1228.25,510.74 L1228.50,510.69 L1228.75,510.64 L1229.00,510.59 L1229.25,510.54 L1229.50,510.49 L1229.75,510.44 L1230.00,510.40 L1230.25,510.35 L1230.50,510.30 L1230.75,510.26 L1231.00,510.21 L1231.25,510.17 L1231.50,510.12 L1231.75,510.08 L1232.00,510.04 L1232.25,510.00 L1232.50,509.96 L1232.75,509.92 L1233.00,509.88 L1233.25,509.85 L1233.50,509.81 L1233.75,509.77 L1234.00,509.74 L1234.25,509.71 L1234.50,509.67 L1234.75,509.64 L1235.00,509.61 L1235.25,509.59 L1235.50,509.56 L1235.75,509.53 L1236.00,509.51 L1236.25,509.48 L1236.50,509.46 L1236.75,509.44 L1237.00,509.42 L1237.25,509.40 L1237.50,509.38 L1237.75,509.37 L1238.00,509.35 L1238.25,509.34 L1238.50,509.33 L1238.75,509.31 L1239.00,509.30 L1239.25,509.28 L1239.50,509.27 L1239.75,509.26 L1240.00,509.24 L1240.25,509.23 L1240.50,509.22 L1240.75,509.21 L1241.00,509.19 L1241.25,509.18 L1241.50,509.17 L1241.75,509.16 L1242.00,509.14 L1242.25,509.13 L1242.50,509.12 L1242.75,509.11 L1243.00,509.10 L1243.25,509.09 L1243.50,509.08 L1243.75,509.07 L1244.00,509.06 L1244.25,509.05 L1244.50,509.05 L1244.75,509.04 L1245.00,509.03 L1245.25,509.02 L1245.50,509.02 L1245.75,509.01 L1246.00,509.00 L1246.25,509.00 L1246.50,508.99 L1246.75,508.99 L1247.00,508.99 L1247.25,508.98 L1247.50,508.98 L1247.75,508.98 L1248.00,508.97 L1248.25,508.97 L1248.50,508.97 L1248.75,508.97 L1249.00,508.97 L1249.25,508.97 L1249.50,508.98 L1249.75,508.99 L1250.00,509.01 L1250.25,509.03 L1250.50,509.05 L1250.75,509.07 L1251.00,509.10 L1251.25,509.13 L1251.50,509.16 L1251.75,509.20 L1252.00,509.24 L1252.25,509.28 L1252.50,509.32 L1252.75,509.37 L1253.00,509.42 L1253.25,509.47 L1253.50,509.52 L1253.75,509.57 L1254.00,509.63 L1254.25,509.69 L1254.50,509.74 L1254.75,509.80 L1255.00,509.87 L1255.25,509.93 L1255.50,509.99 L1255.75,510.06 L1256.00,510.12 L1256.25,510.19 L1256.50,510.26 L1256.75,510.33 L1257.00,510.42 L1257.25,510.51 L1257.50,510.61 L1257.75,510.72 L1258.00,510.83 L1258.25,510.95 L1258.50,511.08 L1258.75,511.21 L1259.00,511.35 L1259.25,511.50 L1259.50,511.66 L1259.75,511.83 L1260.00,512.00 L1260.25,512.18 L1260.50,512.37 L1260.75,512.56 L1261.00,512.77 L1261.25,512.98 L1261.50,513.20 L1261.75,513.43 L1262.00,513.69 L1262.25,514.03 L1262.50,514.44 L1262.75,514.90 L1263.00,515.40 L1263.25,515.91 L1263.50,516.42 L1263.75,516.92 L1264.00,517.39 L1264.25,517.81 L1264.50,518.18 L1264.75,518.51 L1265.00,518.86 L1265.25,519.22 L1265.50,519.56 L1265.75,519.87 L1266.00,520.14 L1266.25,520.36 L1266.50,520.51 L1266.75,520.57 L1267.00,520.53 L1267.25,520.34 L1267.50,520.04 L1267.75,519.67 L1268.00,519.25 L1268.25,518.82 L1268.50,518.40 L1268.75,518.03 L1269.00,517.73 L1269.25,517.55 L1269.50,517.41 L1269.75,517.29 L1270.00,517.18 L1270.25,517.07 L1270.50,516.98 L1270.75,516.89 L1271.00,516.81 L1271.25,516.74 L1271.50,516.66 L1271.75,516.59 L1272.00,516.52 L1272.25,516.45 L1272.50,516.37 L1272.75,516.29 L1273.00,516.21 L1273.25,516.13 L1273.50,516.05 L1273.75,515.97 L1274.00,515.89 L1274.25,515.81 L1274.50,515.73 L1274.75,515.65 L1275.00,515.57 L1275.25,515.49 L1275.50,515.42 L1275.75,515.34 L1276.00,515.26 L1276.25,515.18 L1276.50,515.11 L1276.75,515.03 L1277.00,514.96 L1277.25,514.88 L1277.50,514.81 L1277.75,514.73 L1278.00,514.66 L1278.25,514.59 L1278.50,514.51 L1278.75,514.44 L1279.00,514.37 L1279.25,514.29 L1279.50,514.22 L1279.75,514.15 L1280.00,514.08 L1280.25,514.01 L1280.50,513.93 L1280.75,513.86 L1281.00,513.79 L1281.25,513.72 L1281.50,513.65 L1281.75,513.58 L1282.00,513.51 L1282.25,513.44 L1282.50,513.37 L1282.75,513.30 L1283.00,513.23 L1283.25,513.16 L1283.50,513.10 L1283.75,513.03 L1284.00,512.96 L1284.25,512.89 L1284.50,512.82 L1284.75,512.75 L1285.00,512.68 L1285.25,512.62 L1285.50,512.55 L1285.75,512.48 L1286.00,512.41 L1286.25,512.34 L1286.50,512.28 L1286.75,512.21 L1287.00,512.14 L1287.25,512.07 L1287.50,512.01 L1287.75,511.94 L1288.00,511.87 L1288.25,511.81 L1288.50,511.74 L1288.75,511.68 L1289.00,511.61 L1289.25,511.55 L1289.50,511.48 L1289.75,511.42 L1290.00,511.36 L1290.25,511.30 L1290.50,511.23 L1290.75,511.17 L1291.00,511.11 L1291.25,511.05 L1291.50,510.99 L1291.75,510.93 L1292.00,510.87 L1292.25,510.81 L1292.50,510.75 L1292.75,510.69 L1293.00,510.64 L1293.25,510.58 L1293.50,510.52 L1293.75,510.46 L1294.00,510.40 L1294.25,510.34 L1294.50,510.28 L1294.75,510.22 L1295.00,510.16 L1295.25,510.10 L1295.50,510.04 L1295.75,509.98 L1296.00,509.92 L1296.25,509.86 L1296.50,509.80 L1296.75,509.74 L1297.00,509.68 L1297.25,509.62 L1297.50,509.56 L1297.75,509.50 L1298.00,509.43 L1298.25,509.37 L1298.50,509.31 L1298.75,509.24 L1299.00,509.18 L1299.25,509.11 L1299.50,509.04 L1299.75,508.98 L1300.00,508.91 L1300.25,508.84 L1300.50,508.77 L1300.75,508.70 L1301.00,508.63 L1301.25,508.56 L1301.50,508.49 L1301.75,508.42 L1302.00,508.34 L1302.25,508.27 L1302.50,508.19 L1302.75,508.11 L1303.00,508.03 L1303.25,507.96 L1303.50,507.88 L1303.75,507.80 L1304.00,507.71 L1304.25,507.63 L1304.50,507.55 L1304.75,507.47 L1305.00,507.38 L1305.25,507.30 L1305.50,507.21 L1305.75,507.12 L1306.00,507.03 L1306.25,506.95 L1306.50,506.86 L1306.75,506.77 L1307.00,506.68 L1307.25,506.59 L1307.50,506.49 L1307.75,506.40 L1308.00,506.31 L1308.25,506.22 L1308.50,506.12 L1308.75,506.03 L1309.00,505.93 L1309.25,505.84 L1309.50,505.74 L1309.75,505.64 L1310.00,505.55 L1310.25,505.45 L1310.50,505.35 L1310.75,505.25 L1311.00,505.15 L1311.25,505.05 L1311.50,504.95 L1311.75,504.85 L1312.00,504.75 L1312.25,504.65 L1312.50,504.55 L1312.75,504.45 L1313.00,504.35 L1313.25,504.24 L1313.50,504.14 L1313.75,504.04 L1314.00,503.93 L1314.25,503.82 L1314.50,503.71 L1314.75,503.60 L1315.00,503.48 L1315.25,503.37 L1315.50,503.25 L1315.75,503.14 L1316.00,503.02 L1316.25,502.90 L1316.50,502.78 L1316.75,502.65 L1317.00,502.53 L1317.25,502.41 L1317.50,502.28 L1317.75,502.16 L1318.00,502.04 L1318.25,501.91 L1318.50,501.78 L1318.75,501.66 L1319.00,501.53 L1319.25,501.41 L1319.50,501.28 L1319.75,501.16 L1320.00,501.03 L1320.25,500.91 L1320.50,500.79 L1320.75,500.67 L1321.00,500.54 L1321.25,500.42 L1321.50,500.30 L1321.75,500.18 L1322.00,500.07 L1322.25,499.95 L1322.50,499.84 L1322.75,499.72 L1323.00,499.61 L1323.25,499.50 L1323.50,499.39 L1323.75,499.29 L1324.00,499.18 L1324.25,499.08 L1324.50,498.98 L1324.75,498.89 L1325.00,498.79 L1325.25,498.70 L1325.50,498.61 L1325.75,498.53 L1326.00,498.45 L1326.25,498.36 L1326.50,498.28 L1326.75,498.21 L1327.00,498.13 L1327.25,498.05 L1327.50,497.97 L1327.75,497.90 L1328.00,497.82 L1328.25,497.74 L1328.50,497.66 L1328.75,497.58 L1329.00,497.50 L1329.25,497.41 L1329.50,497.32 L1329.75,497.23 L1330.00,497.14 L1330.25,497.04 L1330.50,496.94 L1330.75,496.84 L1331.00,496.73 L1331.25,496.61 L1331.50,496.49 L1331.75,496.37 L1332.00,496.24 L1332.25,496.11 L1332.50,495.97 L1332.75,495.83 L1333.00,495.68 L1333.25,495.53 L1333.50,495.38 L1333.75,495.22 L1334.00,495.06 L1334.25,494.90 L1334.50,494.73 L1334.75,494.56 L1335.00,494.38 L1335.25,494.21 L1335.50,494.03 L1335.75,493.85 L1336.00,493.66 L1336.25,493.48 L1336.50,493.29 L1336.75,493.10 L1337.00,492.91 L1337.25,492.72 L1337.50,492.52 L1337.75,492.33 L1338.00,492.13 L1338.25,491.93 L1338.50,491.73 L1338.75,491.53 L1339.00,491.33 L1339.25,491.13 L1339.50,490.93 L1339.75,490.73 L1340.00,490.54 L1340.25,490.34 L1340.50,490.14 L1340.75,489.94 L1341.00,489.74 L1341.25,489.54 L1341.50,489.35 L1341.75,489.15 L1342.00,488.96 L1342.25,488.77 L1342.50,488.58 L1342.75,488.38 L1343.00,488.19 L1343.25,488.00 L1343.50,487.80 L1343.75,487.61 L1344.00,487.42 L1344.25,487.22 L1344.50,487.03 L1344.75,486.83 L1345.00,486.64 L1345.25,486.44 L1345.50,486.24 L1345.75,486.04 L1346.00,485.84 L1346.25,485.64 L1346.50,485.44 L1346.75,485.24 L1347.00,485.04 L1347.25,484.84 L1347.50,484.63 L1347.75,484.43 L1348.00,484.22 L1348.25,484.01 L1348.50,483.80 L1348.75,483.59 L1349.00,483.38 L1349.25,483.17 L1349.50,482.95 L1349.75,482.74 L1350.00,482.52 L1350.25,482.30 L1350.50,482.08 L1350.75,481.86 L1351.00,481.63 L1351.25,481.41 L1351.50,481.18 L1351.75,480.95 L1352.00,480.72 L1352.25,480.49 L1352.50,480.25 L1352.75,480.01 L1353.00,479.78 L1353.25,479.53 L1353.50,479.29 L1353.75,479.04 L1354.00,478.78 L1354.25,478.52 L1354.50,478.26 L1354.75,477.99 L1355.00,477.72 L1355.25,477.44 L1355.50,477.16 L1355.75,476.88 L1356.00,476.59 L1356.25,476.31 L1356.50,476.02 L1356.75,475.72 L1357.00,475.43 L1357.25,475.13 L1357.50,474.83 L1357.75,474.53 L1358.00,474.23 L1358.25,473.93 L1358.50,473.62 L1358.75,473.32 L1359.00,473.01 L1359.25,472.71 L1359.50,472.40 L1359.75,472.10 L1360.00,471.80 L1360.25,471.49 L1360.50,471.19 L1360.75,470.89 L1361.00,470.59 L1361.25,470.29 L1361.50,470.00 L1361.75,469.71 L1362.00,469.41 L1362.25,469.13 L1362.50,468.84 L1362.75,468.56 L1363.00,468.28 L1363.25,468.00 L1363.50,467.73 L1363.75,467.46 L1364.00,467.19 L1364.25,466.93 L1364.50,466.68 L1364.75,466.42 L1365.00,466.15 L1365.25,465.89 L1365.50,465.63 L1365.75,465.36 L1366.00,465.10 L1366.25,464.84 L1366.50,464.57 L1366.75,464.31 L1367.00,464.05 L1367.25,463.79 L1367.50,463.54 L1367.75,463.28 L1368.00,463.03 L1368.25,462.78 L1368.50,462.54 L1368.75,462.30 L1369.00,462.06 L1369.25,461.83 L1369.50,461.60 L1369.75,461.38 L1370.00,461.16 L1370.25,460.96 L1370.50,460.75 L1370.75,460.56 L1371.00,460.37 L1371.25,460.19 L1371.50,460.01 L1371.75,459.85 L1372.00,459.69 L1372.25,459.52 L1372.50,459.35 L1372.75,459.18 L1373.00,459.01 L1373.25,458.84 L1373.50,458.67 L1373.75,458.50 L1374.00,458.34 L1374.25,458.17 L1374.50,458.01 L1374.75,457.85 L1375.00,457.70 L1375.25,457.55 L1375.50,457.40 L1375.75,457.27 L1376.00,457.14 L1376.25,457.01 L1376.50,456.89 L1376.75,456.79 L1377.00,456.69 L1377.25,456.60 L1377.50,456.52 L1377.75,456.45 L1378.00,456.39 L1378.25,456.34 L1378.50,456.31 L1378.75,456.29 L1379.00,456.28 L1379.25,456.29 L1379.50,456.31 L1379.75,456.35 L1380.00,456.40 L1380.25,456.46 L1380.50,456.54 L1380.75,456.62 L1381.00,456.72 L1381.25,456.82 L1381.50,456.94 L1381.75,457.06 L1382.00,457.19 L1382.25,457.33 L1382.50,457.47 L1382.75,457.61 L1383.00,457.81 L1383.25,458.07 L1383.50,458.38 L1383.75,458.75 L1384.00,459.16 L1384.25,459.61 L1384.50,460.10 L1384.75,460.60 L1385.00,461.13 L1385.25,461.66 L1385.50,462.20 L1385.75,462.74 L1386.00,463.27 L1386.25,463.78 L1386.50,464.28 L1386.75,464.78 L1387.00,465.28 L1387.25,465.79 L1387.50,466.31 L1387.75,466.84 L1388.00,467.38 L1388.25,467.92 L1388.50,468.47 L1388.75,469.03 L1389.00,469.60 L1389.25,470.17 L1389.50,470.75 L1389.75,471.34 L1390.00,471.94 L1390.25,472.54 L1390.50,473.14 L1390.75,473.76 L1391.00,474.38 L1391.25,475.00 L1391.50,475.62 L1391.75,476.23 L1392.00,476.84 L1392.25,477.46 L1392.50,478.08 L1392.75,478.71 L1393.00,479.35 L1393.25,480.01 L1393.50,480.68 L1393.75,481.37 L1394.00,482.09 L1394.25,482.83 L1394.50,483.60 L1394.75,484.39 L1395.00,485.23 L1395.25,486.10 L1395.50,487.01 L1395.75,487.98 L1396.00,489.09 L1396.25,490.34 L1396.50,491.68 L1396.75,493.10 L1397.00,494.56 L1397.25,496.03 L1397.50,497.50 L1397.75,498.93 L1398.00,500.30 L1398.25,501.57 L1398.50,502.74 L1398.75,503.90 L1399.00,505.07 L1399.25,506.23 L1399.50,507.37 L1399.75,508.48 L1400.00,509.54 L1400.25,510.53 L1400.50,511.45 L1400.75,512.27 L1401.00,512.99 L1401.25,513.59 L1401.50,514.13 L1401.75,514.64 L1402.00,515.12 L1402.25,515.58 L1402.50,516.01 L1402.75,516.42 L1403.00,516.81 L1403.25,517.18 L1403.50,517.53 L1403.75,517.87 L1404.00,518.19 L1404.25,518.49 L1404.50,518.79 L1404.75,519.07 L1405.00,519.35 L1405.25,519.62 L1405.50,519.88 L1405.75,520.13 L1406.00,520.40 L1406.25,520.66 L1406.50,520.92 L1406.75,521.19 L1407.00,521.45 L1407.25,521.72 L1407.50,521.98 L1407.75,522.24 L1408.00,522.49 L1408.25,522.74 L1408.50,522.98 L1408.75,523.21 L1409.00,523.43 L1409.25,523.65 L1409.50,523.85 L1409.75,524.04 L1410.00,524.22 L1410.25,524.39 L1410.50,524.54 L1410.75,524.67 L1411.00,524.79 L1411.25,524.89 L1411.50,524.96 L1411.75,525.02 L1412.00,525.06 L1412.25,525.08 L1412.50,525.07 L1412.75,525.03 L1413.00,524.96 L1413.25,524.87 L1413.50,524.77 L1413.75,524.65 L1414.00,524.53 L1414.25,524.40 L1414.50,524.27 L1414.75,524.15 L1415.00,524.03 L1415.25,523.94 L1415.50,523.86 L1415.75,523.80 L1416.00,523.77 L1416.25,523.74 L1416.50,523.72 L1416.75,523.70 L1417.00,523.67 L1417.25,523.65 L1417.50,523.63 L1417.75,523.61 L1418.00,523.59 L1418.25,523.57 L1418.50,523.55 L1418.75,523.54 L1419.00,523.52 L1419.25,523.50 L1419.50,523.49 L1419.75,523.47 L1420.00,523.46 L1420.25,523.45 L1420.50,523.44 L1420.75,523.43 L1421.00,523.42 L1421.25,523.41 L1421.50,523.40 L1421.75,523.40 L1422.00,523.39 L1422.25,523.39 L1422.50,523.38 L1422.75,523.38 L1423.00,523.38 L1423.25,523.38 L1423.50,523.38 L1423.75,523.38 L1424.00,523.38 L1424.25,523.38 L1424.50,523.38 L1424.75,523.38 L1425.00,523.38 L1425.25,523.39 L1425.50,523.39 L1425.75,523.39 L1426.00,523.39 L1426.25,523.40 L1426.50,523.40 L1426.75,523.40 L1427.00,523.40 L1427.25,523.41 L1427.50,523.41 L1427.75,523.42 L1428.00,523.42 L1428.25,523.43 L1428.50,523.43 L1428.75,523.43 L1429.00,523.44 L1429.25,523.44 L1429.50,523.45 L1429.75,523.46 L1430.00,523.46 L1430.25,523.47 L1430.50,523.47 L1430.75,523.48 L1431.00,523.49 L1431.25,523.49 L1431.50,523.50 L1431.75,523.51 L1432.00,523.51 L1432.25,523.52 L1432.50,523.53 L1432.75,523.53 L1433.00,523.54 L1433.25,523.55 L1433.50,523.56 L1433.75,523.56 L1434.00,523.57 L1434.25,523.58 L1434.50,523.59 L1434.75,523.60 L1435.00,523.60 L1435.25,523.61 L1435.50,523.62 L1435.75,523.63 L1436.00,523.64 L1436.25,523.65 L1436.50,523.66 L1436.75,523.66 L1437.00,523.67 L1437.25,523.68 L1437.50,523.69 L1437.75,523.70 L1438.00,523.71 L1438.25,523.72 L1438.50,523.73 L1438.75,523.73 L1439.00,523.74 L1439.25,523.75 L1439.50,523.76 L1439.75,523.77 L1440.00,523.78 L1440.25,523.79 L1440.50,523.80 L1440.75,523.81 L1441.00,523.82 L1441.25,523.82 L1441.50,523.83 L1441.75,523.84 L1442.00,523.85 L1442.25,523.86 L1442.50,523.87 L1442.75,523.88 L1443.00,523.89 L1443.25,523.89 L1443.50,523.90 L1443.75,523.91 L1444.00,523.92 L1444.25,523.93 L1444.50,523.94 L1444.75,523.94 L1445.00,523.95 L1445.25,523.96 L1445.50,523.97 L1445.75,523.98 L1446.00,523.98 L1446.25,523.99 L1446.50,524.00 L1446.75,524.01 L1447.00,524.01 L1447.25,524.02 L1447.50,524.03 L1447.75,524.04 L1448.00,524.04 L1448.25,524.05 L1448.50,524.06 L1448.75,524.06 L1449.00,524.07 L1449.25,524.07 L1449.50,524.08 L1449.75,524.09 L1450.00,524.09 L1450.25,524.10 L1450.50,524.10 L1450.75,524.11 L1451.00,524.12 L1451.25,524.12 L1451.50,524.13 L1451.75,524.13 L1452.00,524.14 L1452.25,524.15 L1452.50,524.15 L1452.75,524.16 L1453.00,524.16 L1453.25,524.17 L1453.50,524.18 L1453.75,524.18 L1454.00,524.19 L1454.25,524.19 L1454.50,524.20 L1454.75,524.21 L1455.00,524.21 L1455.25,524.22 L1455.50,524.22 L1455.75,524.23 L1456.00,524.23 L1456.25,524.24 L1456.50,524.25 L1456.75,524.25 L1457.00,524.26 L1457.25,524.26 L1457.50,524.27 L1457.75,524.27 L1458.00,524.28 L1458.25,524.29 L1458.50,524.29 L1458.75,524.30 L1459.00,524.30 L1459.25,524.31 L1459.50,524.32 L1459.75,524.32 L1460.00,524.33 L1460.25,524.33 L1460.50,524.34 L1460.75,524.34 L1461.00,524.35 L1461.25,524.35 L1461.50,524.36 L1461.75,524.37 L1462.00,524.37 L1462.25,524.38 L1462.50,524.38 L1462.75,524.39 L1463.00,524.39 L1463.25,524.40 L1463.50,524.41 L1463.75,524.41 L1464.00,524.42 L1464.25,524.42 L1464.50,524.43 L1464.75,524.43 L1465.00,524.44 L1465.25,524.44 L1465.50,524.45 L1465.75,524.46 L1466.00,524.46 L1466.25,524.47 L1466.50,524.47 L1466.75,524.48 L1467.00,524.48 L1467.25,524.49 L1467.50,524.49 L1467.75,524.50 L1468.00,524.51 L1468.25,524.51 L1468.50,524.52 L1468.75,524.52 L1469.00,524.53 L1469.25,524.53 L1469.50,524.54 L1469.75,524.54 L1470.00,524.55 L1470.25,524.55 L1470.50,524.56 L1470.75,524.57 L1471.00,524.57 L1471.25,524.58 L1471.50,524.58 L1471.75,524.59 L1472.00,524.59 L1472.25,524.60 L1472.50,524.60 L1472.75,524.61 L1473.00,524.61 L1473.25,524.62 L1473.50,524.62 L1473.75,524.63 L1474.00,524.64 L1474.25,524.64 L1474.50,524.65 L1474.75,524.65 L1475.00,524.66 L1475.25,524.66 L1475.50,524.67 L1475.75,524.67 L1476.00,524.68 L1476.25,524.68 L1476.50,524.69 L1476.75,524.69 L1477.00,524.70 L1477.25,524.70 L1477.50,524.71 L1477.75,524.71 L1478.00,524.72 L1478.25,524.73 L1478.50,524.73 L1478.75,524.74 L1479.00,524.74 L1479.25,524.75 L1479.50,524.75 L1479.75,524.76 L1480.00,524.76 L1480.25,524.77 L1480.50,524.77 L1480.75,524.78 L1481.00,524.78 L1481.25,524.79 L1481.50,524.79 L1481.75,524.80 L1482.00,524.80 L1482.25,524.81 L1482.50,524.81 L1482.75,524.82 L1483.00,524.82 L1483.25,524.83 L1483.50,524.83 L1483.75,524.84 L1484.00,524.84 L1484.25,524.85 L1484.50,524.85 L1484.75,524.86 L1485.00,524.87 L1485.25,524.87 L1485.50,524.88 L1485.75,524.88 L1486.00,524.89 L1486.25,524.89 L1486.50,524.90 L1486.75,524.90 L1487.00,524.91 L1487.25,524.91 L1487.50,524.92 L1487.75,524.92 L1488.00,524.93 L1488.25,524.93 L1488.50,524.94 L1488.75,524.94 L1489.00,524.95 L1489.25,524.95 L1489.50,524.96 L1489.75,524.96 L1490.00,524.97 L1490.25,524.97 L1490.50,524.98 L1490.75,524.98 L1491.00,524.99 L1491.25,524.99 L1491.50,525.00 L1491.75,525.00 L1492.00,525.01 L1492.25,525.01 L1492.50,525.02 L1492.75,525.02 L1493.00,525.03 L1493.25,525.03 L1493.50,525.04 L1493.75,525.04 L1494.00,525.05 L1494.25,525.05 L1494.50,525.06 L1494.75,525.06 L1495.00,525.07 L1495.25,525.07 L1495.50,525.08 L1495.75,525.08 L1496.00,525.09 L1496.25,525.09 L1496.50,525.10 L1496.75,525.10 L1497.00,525.11 L1497.25,525.11 L1497.50,525.12 L1497.75,525.12 L1498.00,525.13 L1498.25,525.13 L1498.50,525.14 L1498.75,525.14 L1499.00,525.15 L1499.25,525.15 L1499.50,525.16 L1499.75,525.16 L1500.00,525.17 L1500.25,525.17 L1500.50,525.18 L1500.75,525.18 L1501.00,525.19 L1501.25,525.19 L1501.50,525.20 L1501.75,525.20 L1502.00,525.21 L1502.25,525.21 L1502.50,525.21 L1502.75,525.22 L1503.00,525.22 L1503.25,525.23 L1503.50,525.23 L1503.75,525.24 L1504.00,525.24 L1504.25,525.25 L1504.50,525.25 L1504.75,525.26 L1505.00,525.26 L1505.25,525.27 L1505.50,525.27 L1505.75,525.28 L1506.00,525.28 L1506.25,525.29 L1506.50,525.29 L1506.75,525.30 L1507.00,525.30 L1507.25,525.31 L1507.50,525.31 L1507.75,525.32 L1508.00,525.32 L1508.25,525.33 L1508.50,525.33 L1508.75,525.34 L1509.00,525.34 L1509.25,525.35 L1509.50,525.35 L1509.75,525.36 L1510.00,525.36 L1510.25,525.37 L1510.50,525.37 L1510.75,525.38 L1511.00,525.38 L1511.25,525.39 L1511.50,525.39 L1511.75,525.40 L1512.00,525.40 L1512.25,525.41 L1512.50,525.41 L1512.75,525.42 L1513.00,525.42 L1513.25,525.43 L1513.50,525.43 L1513.75,525.44 L1514.00,525.44 L1514.25,525.45 L1514.50,525.45 L1514.75,525.46 L1515.00,525.46 L1515.25,525.47 L1515.50,525.47 L1515.75,525.48 L1516.00,525.48 L1516.25,525.49 L1516.50,525.49 L1516.75,525.49 L1517.00,525.50 L1517.25,525.50 L1517.50,525.51 L1517.75,525.51 L1518.00,525.52 L1518.25,525.52 L1518.50,525.52 L1518.75,525.53 L1519.00,525.53 L1519.25,525.53 L1519.50,525.54 L1519.75,525.54 L1520.00,525.54 L1520.25,525.55 L1520.50,525.55 L1520.75,525.55 L1521.00,525.56 L1521.25,525.56 L1521.50,525.56 L1521.75,525.56 L1522.00,525.57 L1522.25,525.57 L1522.50,525.57 L1522.75,525.58 L1523.00,525.58 L1523.25,525.58 L1523.50,525.59 L1523.75,525.59 L1524.00,525.59 L1524.25,525.59 L1524.50,525.60 L1524.75,525.60 L1525.00,525.60 L1525.25,525.61 L1525.50,525.61 L1525.75,525.61 L1526.00,525.61 L1526.25,525.62 L1526.50,525.62 L1526.75,525.62 L1527.00,525.63 L1527.25,525.63 L1527.50,525.63 L1527.75,525.63 L1528.00,525.64 L1528.25,525.64 L1528.50,525.64 L1528.75,525.64 L1529.00,525.65 L1529.25,525.65 L1529.50,525.65 L1529.75,525.65 L1530.00,525.66 L1530.25,525.66 L1530.50,525.66 L1530.75,525.66 L1531.00,525.67 L1531.25,525.67 L1531.50,525.67 L1531.75,525.67 L1532.00,525.68 L1532.25,525.68 L1532.50,525.68 L1532.75,525.68 L1533.00,525.68 L1533.25,525.69 L1533.50,525.69 L1533.75,525.69 L1534.00,525.69 L1534.25,525.69 L1534.50,525.70 L1534.75,525.70 L1535.00,525.70 L1535.25,525.70 L1535.50,525.70 L1535.75,525.70 L1536.00,525.70 L1536.25,525.71 L1536.50,525.71 L1536.75,525.71 L1537.00,525.71 L1537.25,525.71 L1537.50,525.71 L1537.75,525.71 L1538.00,525.71 L1538.25,525.71 L1538.50,525.72 L1538.75,525.72 L1539.00,525.72 L1539.25,525.72 L1539.50,525.72 L1539.75,525.72 L1540.00,525.72 L1540.25,525.72 L1540.50,525.72 L1540.75,525.72 L1541.00,525.72 L1541.25,525.72 L1541.50,525.72 L1541.75,525.72 L1542.00,525.72 L1542.25,525.72 L1542.50,525.71 L1542.75,525.67 L1543.00,525.57 L1543.25,525.43 L1543.50,525.26 L1543.75,525.06 L1544.00,524.84 L1544.25,524.61 L1544.50,524.37 L1544.75,524.13 L1545.00,523.89 L1545.25,523.67 L1545.50,523.41 L1545.75,523.11 L1546.00,522.77 L1546.25,522.41 L1546.50,522.04 L1546.75,521.68 L1547.00,521.33 L1547.25,521.02 L1547.50,520.74 L1547.75,520.53 L1548.00,520.38 L1548.25,520.31 L1548.50,520.31 L1548.75,520.31 L1549.00,520.31 L1549.25,520.31 L1549.50,520.31 L1549.75,520.31 L1550.00,520.31 L1550.25,520.31 L1550.50,520.31 L1550.75,520.31 L1551.00,520.31 L1551.25,520.31 L1551.50,520.31 L1551.75,520.30 L1552.00,520.30 L1552.25,520.30 L1552.50,520.30 L1552.75,520.30 L1553.00,520.30 L1553.25,520.30 L1553.50,520.30 L1553.75,520.30 L1554.00,520.30 L1554.25,520.31 L1554.50,520.31 L1554.75,520.32 L1555.00,520.32 L1555.25,520.33 L1555.50,520.34 L1555.75,520.35 L1556.00,520.36 L1556.25,520.38 L1556.50,520.39 L1556.75,520.41 L1557.00,520.42 L1557.25,520.44 L1557.50,520.46 L1557.75,520.48 L1558.00,520.50 L1558.25,520.52 L1558.50,520.54 L1558.75,520.57 L1559.00,520.59 L1559.25,520.62 L1559.50,520.64 L1559.75,520.67 L1560.00,520.70 L1560.25,520.73 L1560.50,520.75 L1560.75,520.78 L1561.00,520.81 L1561.25,520.85 L1561.50,520.88 L1561.75,520.91 L1562.00,520.94 L1562.25,520.98 L1562.50,521.01 L1562.75,521.04 L1563.00,521.08 L1563.25,521.11 L1563.50,521.15 L1563.75,521.19 L1564.00,521.22 L1564.25,521.26 L1564.50,521.30 L1564.75,521.33 L1565.00,521.37 L1565.25,521.41 L1565.50,521.45 L1565.75,521.49 L1566.00,521.52 L1566.25,521.56 L1566.50,521.60 L1566.75,521.64 L1567.00,521.68 L1567.25,521.72 L1567.50,521.75 L1567.75,521.79 L1568.00,521.83 L1568.25,521.87 L1568.50,521.91 L1568.75,521.95 L1569.00,521.99 L1569.25,522.02 L1569.50,522.06 L1569.75,522.10 L1570.00,522.14 L1570.25,522.17 L1570.50,522.21 L1570.75,522.24 L1571.00,522.28 L1571.25,522.32 L1571.50,522.35 L1571.75,522.39 L1572.00,522.42 L1572.25,522.45 L1572.50,522.49 L1572.75,522.52 L1573.00,522.55 L1573.25,522.58 L1573.50,522.61 L1573.75,522.64 L1574.00,522.67 L1574.25,522.70 L1574.50,522.73 L1574.75,522.76 L1575.00,522.79 L1575.25,522.82 L1575.50,522.85 L1575.75,522.89 L1576.00,522.92 L1576.25,522.95 L1576.50,522.98 L1576.75,523.01 L1577.00,523.05 L1577.25,523.08 L1577.50,523.11 L1577.75,523.15 L1578.00,523.18 L1578.25,523.21 L1578.50,523.24 L1578.75,523.28 L1579.00,523.31 L1579.25,523.35 L1579.50,523.38 L1579.75,523.41 L1580.00,523.45 L1580.25,523.48 L1580.50,523.51 L1580.75,523.55 L1581.00,523.58 L1581.25,523.61 L1581.50,523.65 L1581.75,523.68 L1582.00,523.72 L1582.25,523.75 L1582.50,523.78 L1582.75,523.81 L1583.00,523.85 L1583.25,523.88 L1583.50,523.91 L1583.75,523.95 L1584.00,523.98 L1584.25,524.01 L1584.50,524.04 L1584.75,524.07 L1585.00,524.10 L1585.25,524.13 L1585.50,524.17 L1585.75,524.20 L1586.00,524.23 L1586.25,524.26 L1586.50,524.29 L1586.75,524.31 L1587.00,524.34 L1587.25,524.37 L1587.50,524.40 L1587.75,524.43 L1588.00,524.45 L1588.25,524.48 L1588.50,524.51 L1588.75,524.53 L1589.00,524.56 L1589.25,524.58 L1589.50,524.61 L1589.75,524.63 L1590.00,524.66 L1590.25,524.68 L1590.50,524.70 L1590.75,524.72 L1591.00,524.74 L1591.25,524.77 L1591.50,524.79 L1591.75,524.80 L1592.00,524.82 L1592.25,524.84 L1592.50,524.86 L1592.75,524.88 L1593.00,524.89 L1593.25,524.91 L1593.50,524.93 L1593.75,524.95 L1594.00,524.96 L1594.25,524.98 L1594.50,525.00 L1594.75,525.01 L1595.00,525.03 L1595.25,525.05 L1595.50,525.06 L1595.75,525.08 L1596.00,525.10 L1596.25,525.11 L1596.50,525.13 L1596.75,525.14 L1597.00,525.16 L1597.25,525.17 L1597.50,525.19 L1597.75,525.20 L1598.00,525.22 L1598.25,525.23 L1598.50,525.25 L1598.75,525.26 L1599.00,525.28 L1599.25,525.29 L1599.50,525.31 L1599.75,525.32 L1600.00,525.33 L1600.25,525.35 L1600.50,525.36 L1600.75,525.37 L1601.00,525.39 L1601.25,525.40 L1601.50,525.41 L1601.75,525.42 L1602.00,525.44 L1602.25,525.45 L1602.50,525.46 L1602.75,525.47 L1603.00,525.48 L1603.25,525.49 L1603.50,525.51 L1603.75,525.52 L1604.00,525.53 L1604.25,525.54 L1604.50,525.55 L1604.75,525.56 L1605.00,525.57 L1605.25,525.58 L1605.50,525.58 L1605.75,525.59 L1606.00,525.60 L1606.25,525.61 L1606.50,525.62 L1606.75,525.63 L1607.00,525.63 L1607.25,525.64 L1607.50,525.65 L1607.75,525.65 L1608.00,525.66 L1608.25,525.67 L1608.50,525.67 L1608.75,525.68 L1609.00,525.68 L1609.25,525.69 L1609.50,525.69 L1609.75,525.70 L1610.00,525.70 L1610.25,525.71 L1610.50,525.71 L1610.75,525.71 L1611.00,525.72 L1611.25,525.72 L1611.50,525.72 L1611.75,525.72 L1612.00,525.72 L1612.25,525.72 L1612.50,525.73 L1612.75,525.73 L1613.00,525.73 L1613.25,525.73 L1613.50,525.72 L1613.75,525.72 L1614.00,525.72 L1614.25,525.72 L1614.50,525.72 L1614.75,525.72 L1615.00,525.72 L1615.25,525.72 L1615.50,525.71 L1615.75,525.71 L1616.00,525.71 L1616.25,525.71 L1616.50,525.70 L1616.75,525.70 L1617.00,525.70 L1617.25,525.70 L1617.50,525.69 L1617.75,525.69 L1618.00,525.68 L1618.25,525.68 L1618.50,525.67 L1618.75,525.67 L1619.00,525.66 L1619.25,525.66 L1619.50,525.65 L1619.75,525.64 L1620.00,525.64 L1620.25,525.63 L1620.50,525.62 L1620.75,525.61 L1621.00,525.60 L1621.25,525.60 L1621.50,525.59 L1621.75,525.58 L1622.00,525.56 L1622.25,525.55 L1622.50,525.54 L1622.75,525.53 L1623.00,525.52 L1623.25,525.50 L1623.50,525.49 L1623.75,525.47 L1624.00,525.46 L1624.25,525.44 L1624.50,525.43 L1624.75,525.41 L1625.00,525.39 L1625.25,525.37 L1625.50,525.35 L1625.75,525.33 L1626.00,525.31 L1626.25,525.29 L1626.50,525.26 L1626.75,525.24 L1627.00,525.21 L1627.25,525.19 L1627.50,525.16 L1627.75,525.13 L1628.00,525.10 L1628.25,525.07 L1628.50,525.04 L1628.75,525.01 L1629.00,524.97 L1629.25,524.94 L1629.50,524.90 L1629.75,524.86 L1630.00,524.83 L1630.25,524.79 L1630.50,524.75 L1630.75,524.71 L1631.00,524.66 L1631.25,524.62 L1631.50,524.58 L1631.75,524.53 L1632.00,524.48 L1632.25,524.43 L1632.50,524.38 L1632.75,524.33 L1633.00,524.28 L1633.25,524.22 L1633.50,524.17 L1633.75,524.11 L1634.00,524.05 L1634.25,523.99 L1634.50,523.92 L1634.75,523.86 L1635.00,523.79 L1635.25,523.72 L1635.50,523.65 L1635.75,523.58 L1636.00,523.50 L1636.25,523.42 L1636.50,523.34 L1636.75,523.25 L1637.00,523.17 L1637.25,523.08 L1637.50,522.98 L1637.75,522.89 L1638.00,522.78 L1638.25,522.68 L1638.50,522.57 L1638.75,522.46 L1639.00,522.34 L1639.25,522.21 L1639.50,522.08 L1639.75,521.95 L1640.00,521.81 L1640.25,521.66 L1640.50,521.51 L1640.75,521.34 L1641.00,521.17 L1641.25,520.99 L1641.50,520.80 L1641.75,520.60 L1642.00,520.39 L1642.25,520.17 L1642.50,519.93 L1642.75,519.68 L1643.00,519.42 L1643.25,519.14 L1643.50,518.84 L1643.75,518.52 L1644.00,518.18 L1644.25,517.82 L1644.50,517.43 L1644.75,517.02 L1645.00,516.58 L1645.25,516.11 L1645.50,515.60 L1645.75,515.05 L1646.00,514.46 L1646.25,513.82 L1646.50,513.14 L1646.75,512.39 L1647.00,511.58 L1647.25,510.70 L1647.50,509.75 L1647.75,508.70 L1648.00,507.56 L1648.25,506.31 L1648.50,504.93 L1648.75,503.42 L1649.00,501.75 L1649.25,499.90 L1649.50,497.85 L1649.75,495.57 L1650.00,493.04 L1650.25,490.23 L1650.50,487.11 L1650.75,483.64 L1651.00,479.78 L1651.25,475.45 L1651.50,470.61 L1651.75,465.21 L1652.00,459.19 L1652.25,452.51 L1652.50,445.18 L1652.75,437.21 L1653.00,428.70 L1653.25,419.83 L1653.50,410.91 L1653.75,402.35 L1654.00,394.66 L1654.25,388.45 L1654.50,384.28 L1654.75,382.58 L1655.00,383.55 L1655.25,387.11 L1655.50,392.91 L1655.75,400.43 L1656.00,409.08 L1656.25,418.28 L1656.50,427.57 L1656.75,436.62 L1657.00,445.18 L1657.25,453.13 L1657.50,460.41 L1657.75,467.02 L1658.00,472.98 L1658.25,478.34 L1658.50,483.14 L1658.75,487.44 L1659.00,491.29 L1659.25,494.74 L1659.50,497.84 L1659.75,500.62 L1660.00,503.13 L1660.25,505.41 L1660.50,507.46 L1660.75,509.32 L1661.00,511.00 L1661.25,512.52 L1661.50,513.90 L1661.75,515.15 L1662.00,516.29 L1662.25,517.33 L1662.50,518.30 L1662.75,519.18 L1663.00,520.00 L1663.25,520.77 L1663.50,521.49 L1663.75,522.17 L1664.00,522.83 L1664.25,523.47 L1664.50,524.10 L1664.75,524.71 L1665.00,525.31 L1665.25,525.88 L1665.50,526.43 L1665.75,526.95 L1666.00,527.44 L1666.25,527.89 L1666.50,528.30 L1666.75,528.68 L1667.00,529.00 L1667.25,529.27 L1667.50,529.50 L1667.75,529.71 L1668.00,529.90 L1668.25,530.07 L1668.50,530.23 L1668.75,530.37 L1669.00,530.50 L1669.25,530.62 L1669.50,530.73 L1669.75,530.83 L1670.00,530.93 L1670.25,531.01 L1670.50,531.09 L1670.75,531.16 L1671.00,531.23 L1671.25,531.29 L1671.50,531.35 L1671.75,531.41 L1672.00,531.47 L1672.25,531.52 L1672.50,531.58 L1672.75,531.63 L1673.00,531.67 L1673.25,531.72 L1673.50,531.76 L1673.75,531.79 L1674.00,531.82 L1674.25,531.85 L1674.50,531.88 L1674.75,531.91 L1675.00,531.93 L1675.25,531.95 L1675.50,531.97 L1675.75,531.98 L1676.00,532.00 L1676.25,532.01 L1676.50,532.02 L1676.75,532.03 L1677.00,532.04 L1677.25,532.04 L1677.50,532.05 L1677.75,532.05 L1678.00,532.05 L1678.25,532.06 L1678.50,532.06 L1678.75,532.06 L1679.00,532.06 L1679.25,532.06 L1679.50,532.06 L1679.75,532.06 L1680.00,532.06 L1680.25,532.06 L1680.50,532.06 L1680.75,532.06 L1681.00,532.06 L1681.25,532.06 L1681.50,532.06 L1681.75,532.06 L1682.00,532.06 L1682.25,532.06 L1682.50,532.06 L1682.75,532.06 L1683.00,532.06 L1683.25,532.07 L1683.50,532.07 L1683.75,532.08 L1684.00,532.08 L1684.25,532.09 L1684.50,532.10 L1684.75,532.11 L1685.00,532.12 L1685.25,532.13 L1685.50,532.14 L1685.75,532.15 L1686.00,532.16 L1686.25,532.17 L1686.50,532.18 L1686.75,532.19 L1687.00,532.20 L1687.25,532.21 L1687.50,532.22 L1687.75,532.23 L1688.00,532.24 L1688.25,532.25 L1688.50,532.26 L1688.75,532.27 L1689.00,532.27 L1689.25,532.28 L1689.50,532.29 L1689.75,532.30 L1690.00,532.31 L1690.25,532.31 L1690.50,532.32 L1690.75,532.33 L1691.00,532.33 L1691.25,532.34 L1691.50,532.35 L1691.75,532.35 L1692.00,532.36 L1692.25,532.37 L1692.50,532.37 L1692.75,532.38 L1693.00,532.38 L1693.25,532.39 L1693.50,532.40 L1693.75,532.40 L1694.00,532.41 L1694.25,532.41 L1694.50,532.42 L1694.75,532.42 L1695.00,532.43 L1695.25,532.43 L1695.50,532.44 L1695.75,532.44 L1696.00,532.45 L1696.25,532.45 L1696.50,532.46 L1696.75,532.46 L1697.00,532.47 L1697.25,532.47 L1697.50,532.48 L1697.75,532.48 L1698.00,532.48 L1698.25,532.49 L1698.50,532.49 L1698.75,532.50 L1699.00,532.50 L1699.25,532.50 L1699.50,532.51 L1699.75,532.51 L1700.00,532.52 L1700.25,532.52 L1700.50,532.52 L1700.75,532.53 L1701.00,532.53 L1701.25,532.53 L1701.50,532.53 L1701.75,532.54 L1702.00,532.54 L1702.25,532.54 L1702.50,532.55 L1702.75,532.55 L1703.00,532.55 L1703.25,532.55 L1703.50,532.56 L1703.75,532.56 L1704.00,532.56 L1704.25,532.56 L1704.50,532.57 L1704.75,532.57 L1705.00,532.57 L1705.25,532.57 L1705.50,532.57 L1705.75,532.58 L1706.00,532.58 L1706.25,532.58 L1706.50,532.58 L1706.75,532.58 L1707.00,532.59 L1707.25,532.59 L1707.50,532.59 L1707.75,532.59 L1708.00,532.59 L1708.25,532.59 L1708.50,532.60 L1708.75,532.60 L1709.00,532.60 L1709.25,532.60 L1709.50,532.60 L1709.75,532.60 L1710.00,532.60 L1710.25,532.60 L1710.50,532.61 L1710.75,532.61 L1711.00,532.61 L1711.25,532.61 L1711.50,532.61 L1711.75,532.61 L1712.00,532.61 L1712.25,532.61 L1712.50,532.61 L1712.75,532.61 L1713.00,532.62 L1713.25,532.62 L1713.50,532.62 L1713.75,532.62 L1714.00,532.62 L1714.25,532.62 L1714.50,532.62 L1714.75,532.62 L1715.00,532.62 L1715.25,532.62 L1715.50,532.62 L1715.75,532.62 L1716.00,532.62 L1716.25,532.62 L1716.50,532.63 L1716.75,532.63 L1717.00,532.63 L1717.25,532.63 L1717.50,532.63 L1717.75,532.63 L1718.00,532.63 L1718.25,532.63 L1718.50,532.63 L1718.75,532.63 L1719.00,532.63 L1719.25,532.63 L1719.50,532.63 L1719.75,532.63 L1720.00,532.63 L1720.25,532.63 L1720.50,532.63 L1720.75,532.63 L1721.00,532.63 L1721.25,532.63 L1721.50,532.63 L1721.75,532.63 L1722.00,532.63 L1722.25,532.63 L1722.50,532.63 L1722.75,532.63 L1723.00,532.63 L1723.25,532.63 L1723.50,532.63 L1723.75,532.63 L1724.00,532.63 L1724.25,532.63 L1724.50,532.63 L1724.75,532.63 L1725.00,532.63 L1725.25,532.63 L1725.50,532.63 L1725.75,532.63 L1726.00,532.63 L1726.25,532.63 L1726.50,532.63 L1726.75,532.63 L1727.00,532.63 L1727.25,532.63 L1727.50,532.63 L1727.75,532.63 L1728.00,532.63 L1728.25,532.63 L1728.50,532.63 L1728.75,532.63 L1729.00,532.63 L1729.25,532.63 L1729.50,532.63 L1729.75,532.63 L1730.00,532.63 L1730.25,532.63 L1730.50,532.63 L1730.75,532.63 L1731.00,532.63 L1731.25,532.63 L1731.50,532.63 L1731.75,532.63 L1732.00,532.63 L1732.25,532.63 L1732.50,532.63 L1732.75,532.63 L1733.00,532.63 L1733.25,532.63 L1733.50,532.63 L1733.75,532.63 L1734.00,532.63 L1734.25,532.63 L1734.50,532.63 L1734.75,532.63 L1735.00,532.63 L1735.25,532.63 L1735.50,532.63 L1735.75,532.63 L1736.00,532.63 L1736.25,532.63 L1736.50,532.63 L1736.75,532.63 L1737.00,532.63 L1737.25,532.63 L1737.50,532.63 L1737.75,532.63 L1738.00,532.63 L1738.25,532.63 L1738.50,532.63 L1738.75,532.63 L1739.00,532.63 L1739.25,532.63 L1739.50,532.63 L1739.75,532.62 L1740.00,532.62 L1740.25,532.62 L1740.50,532.62 L1740.75,532.62 L1741.00,532.62 L1741.25,532.62 L1741.50,532.62 L1741.75,532.62 L1742.00,532.62 L1742.25,532.62 L1742.50,532.62 L1742.75,532.62 L1743.00,532.62 L1743.25,532.62 L1743.50,532.62 L1743.75,532.62 L1744.00,532.62 L1744.25,532.62 L1744.50,532.62 L1744.75,532.62 L1745.00,532.62 L1745.25,532.62 L1745.50,532.62 L1745.75,532.62 L1746.00,532.62 L1746.25,532.62 L1746.50,532.62 L1746.75,532.62 L1747.00,532.62 L1747.25,532.62 L1747.50,532.62 L1747.75,532.62 L1748.00,532.62 L1748.25,532.62 L1748.50,532.62 L1748.75,532.62 L1749.00,532.62 L1749.25,532.62 L1749.50,532.62 L1749.75,532.62 L1750.00,532.62 L1750.25,532.62 L1750.50,532.62 L1750.75,532.62 L1751.00,532.62 L1751.25,532.62 L1751.50,532.62 L1751.75,532.62 L1752.00,532.62 L1752.25,532.62 L1752.50,532.62 L1752.75,532.62 L1753.00,532.62 L1753.25,532.62 L1753.50,532.62 L1753.75,532.62 L1754.00,532.62 L1754.25,532.62 L1754.50,532.62 L1754.75,532.62 L1755.00,532.62 L1755.25,532.62 L1755.50,532.62 L1755.75,532.62 L1756.00,532.62 L1756.25,532.62 L1756.50,532.62 L1756.75,532.62 L1757.00,532.62 L1757.25,532.62 L1757.50,532.62 L1757.75,532.62 L1758.00,532.62 L1758.25,532.62 L1758.50,532.62 L1758.75,532.62 L1759.00,532.62 L1759.25,532.62 L1759.50,532.62 L1759.75,532.62 L1760.00,532.62 L1760.25,532.62 L1760.50,532.62 L1760.75,532.62 L1761.00,532.62 L1761.25,532.62 L1761.50,532.62 L1761.75,532.62 L1762.00,532.62 L1762.25,532.62 L1762.50,532.62 L1762.75,532.62 L1763.00,532.62 L1763.25,532.62 L1763.50,532.62 L1763.75,532.62 L1764.00,532.62 L1764.25,532.62 L1764.50,532.62 L1764.75,532.62 L1765.00,532.62 L1765.25,532.62 L1765.50,532.62 L1765.75,532.62 L1766.00,532.62 L1766.25,532.62 L1766.50,532.62 L1766.75,532.62 L1767.00,532.62 L1767.25,532.62 L1767.50,532.62 L1767.75,532.62 L1768.00,532.62 L1768.25,532.62 L1768.50,532.62 L1768.75,532.62" stroke="#1f77b4" stroke-width="2.16" stroke-linecap="square"/>
<path d="M1043.00,532.31 L1043.25,532.31 L1043.50,532.30 L1043.75,532.30 L1044.00,532.30 L1044.25,532.30 L1044.50,532.30 L1044.75,532.30 L1045.00,532.29 L1045.25,532.29 L1045.50,532.29 L1045.75,532.29 L1046.00,532.29 L1046.25,532.28 L1046.50,532.28 L1046.75,532.28 L1047.00,532.28 L1047.25,532.28 L1047.50,532.27 L1047.75,532.27 L1048.00,532.27 L1048.25,532.27 L1048.50,532.27 L1048.75,532.26 L1049.00,532.26 L1049.25,532.26 L1049.50,532.26 L1049.75,532.25 L1050.00,532.25 L1050.25,532.25 L1050.50,532.25 L1050.75,532.25 L1051.00,532.24 L1051.25,532.24 L1051.50,532.24 L1051.75,532.24 L1052.00,532.23 L1052.25,532.23 L1052.50,532.23 L1052.75,532.23 L1053.00,532.22 L1053.25,532.22 L1053.50,532.22 L1053.75,532.22 L1054.00,532.21 L1054.25,532.21 L1054.50,532.21 L1054.75,532.20 L1055.00,532.20 L1055.25,532.20 L1055.50,532.20 L1055.75,532.19 L1056.00,532.19 L1056.25,532.19 L1056.50,532.18 L1056.75,532.18 L1057.00,532.18 L1057.25,532.18 L1057.50,532.17 L1057.75,532.17 L1058.00,532.17 L1058.25,532.16 L1058.50,532.16 L1058.75,532.16 L1059.00,532.15 L1059.25,532.15 L1059.50,532.15 L1059.75,532.14 L1060.00,532.14 L1060.25,532.14 L1060.50,532.13 L1060.75,532.13 L1061.00,532.13 L1061.25,532.12 L1061.50,532.12 L1061.75,532.11 L1062.00,532.11 L1062.25,532.11 L1062.50,532.10 L1062.75,532.10 L1063.00,532.09 L1063.25,532.09 L1063.50,532.09 L1063.75,532.08 L1064.00,532.08 L1064.25,532.07 L1064.50,532.07 L1064.75,532.07 L1065.00,532.06 L1065.25,532.06 L1065.50,532.05 L1065.75,532.05 L1066.00,532.04 L1066.25,532.04 L1066.50,532.03 L1066.75,532.03 L1067.00,532.02 L1067.25,532.02 L1067.50,532.01 L1067.75,532.01 L1068.00,532.00 L1068.25,532.00 L1068.50,531.99 L1068.75,531.99 L1069.00,531.98 L1069.25,531.98 L1069.50,531.97 L1069.75,531.97 L1070.00,531.96 L1070.25,531.96 L1070.50,531.95 L1070.75,531.94 L1071.00,531.94 L1071.25,531.93 L1071.50,531.93 L1071.75,531.92 L1072.00,531.91 L1072.25,531.91 L1072.50,531.90 L1072.75,531.89 L1073.00,531.89 L1073.25,531.88 L1073.50,531.87 L1073.75,531.87 L1074.00,531.86 L1074.25,531.85 L1074.50,531.84 L1074.75,531.84 L1075.00,531.83 L1075.25,531.82 L1075.50,531.81 L1075.75,531.81 L1076.00,531.80 L1076.25,531.79 L1076.50,531.78 L1076.75,531.77 L1077.00,531.77 L1077.25,531.76 L1077.50,531.75 L1077.75,531.74 L1078.00,531.73 L1078.25,531.72 L1078.50,531.71 L1078.75,531.70 L1079.00,531.69 L1079.25,531.68 L1079.50,531.67 L1079.75,531.66 L1080.00,531.65 L1080.25,531.64 L1080.50,531.63 L1080.75,531.62 L1081.00,531.61 L1081.25,531.60 L1081.50,531.59 L1081.75,531.58 L1082.00,531.57 L1082.25,531.55 L1082.50,531.54 L1082.75,531.53 L1083.00,531.52 L1083.25,531.50 L1083.50,531.49 L1083.75,531.48 L1084.00,531.47 L1084.25,531.45 L1084.50,531.44 L1084.75,531.42 L1085.00,531.41 L1085.25,531.39 L1085.50,531.38 L1085.75,531.36 L1086.00,531.35 L1086.25,531.33 L1086.50,531.32 L1086.75,531.30 L1087.00,531.28 L1087.25,531.27 L1087.50,531.25 L1087.75,531.23 L1088.00,531.21 L1088.25,531.20 L1088.50,531.18 L1088.75,531.16 L1089.00,531.14 L1089.25,531.12 L1089.50,531.10 L1089.75,531.08 L1090.00,531.06 L1090.25,531.03 L1090.50,531.01 L1090.75,530.99 L1091.00,530.97 L1091.25,530.94 L1091.50,530.92 L1091.75,530.89 L1092.00,530.87 L1092.25,530.84 L1092.50,530.82 L1092.75,530.79 L1093.00,530.76 L1093.25,530.73 L1093.50,530.70 L1093.75,530.68 L1094.00,530.65 L1094.25,530.61 L1094.50,530.58 L1094.75,530.55 L1095.00,530.52 L1095.25,530.48 L1095.50,530.45 L1095.75,530.41 L1096.00,530.38 L1096.25,530.34 L1096.50,530.30 L1096.75,530.26 L1097.00,530.22 L1097.25,530.18 L1097.50,530.14 L1097.75,530.09 L1098.00,530.05 L1098.25,530.00 L1098.50,529.95 L1098.75,529.90 L1099.00,529.85 L1099.25,529.80 L1099.50,529.75 L1099.75,529.69 L1100.00,529.64 L1100.25,529.58 L1100.50,529.52 L1100.75,529.46 L1101.00,529.40 L1101.25,529.33 L1101.50,529.26 L1101.75,529.20 L1102.00,529.12 L1102.25,529.05 L1102.50,528.97 L1102.75,528.90 L1103.00,528.82 L1103.25,528.73 L1103.50,528.65 L1103.75,528.56 L1104.00,528.46 L1104.25,528.37 L1104.50,528.27 L1104.75,528.17 L1105.00,528.06 L1105.25,527.95 L1105.50,527.84 L1105.75,527.72 L1106.00,527.60 L1106.25,527.47 L1106.50,527.34 L1106.75,527.20 L1107.00,527.06 L1107.25,526.91 L1107.50,526.75 L1107.75,526.59 L1108.00,526.43 L1108.25,526.25 L1108.50,526.07 L1108.75,525.88 L1109.00,525.68 L1109.25,525.47 L1109.50,525.26 L1109.75,525.03 L1110.00,524.79 L1110.25,524.55 L1110.50,524.29 L1110.75,524.01 L1111.00,523.73 L1111.25,523.42 L1111.50,523.11 L1111.75,522.77 L1112.00,522.42 L1112.25,522.05 L1112.50,521.66 L1112.75,521.25 L1113.00,520.82 L1113.25,520.35 L1113.50,519.87 L1113.75,519.35 L1114.00,518.80 L1114.25,518.21 L1114.50,517.59 L1114.75,516.93 L1115.00,516.22 L1115.25,515.47 L1115.50,514.66 L1115.75,513.79 L1116.00,512.86 L1116.25,511.87 L1116.50,510.79 L1116.75,509.63 L1117.00,508.38 L1117.25,507.03 L1117.50,505.56 L1117.75,503.96 L1118.00,502.22 L1118.25,500.32 L1118.50,498.24 L1118.75,495.96 L1119.00,493.44 L1119.25,490.67 L1119.50,487.61 L1119.75,484.21 L1120.00,480.43 L1120.25,476.21 L1120.50,471.49 L1120.75,466.19 L1121.00,460.22 L1121.25,453.48 L1121.50,445.82 L1121.75,437.11 L1122.00,427.16 L1122.25,415.77 L1122.50,402.69 L1122.75,387.66 L1123.00,370.36 L1123.25,350.49 L1123.50,327.74 L1123.75,301.90 L1124.00,272.90 L1124.25,240.99 L1124.50,206.92 L1124.75,172.19 L1125.00,139.14 L1125.25,110.89 L1125.50,90.89 L1125.75,82.00 L1126.00,85.64 L1126.25,101.18 L1126.50,126.25 L1126.75,157.52 L1127.00,191.68 L1127.25,226.02 L1127.50,258.73 L1127.75,288.76 L1128.00,315.70 L1128.25,339.48 L1128.50,360.29 L1128.75,378.40 L1129.00,394.13 L1129.25,407.79 L1129.50,419.68 L1129.75,430.04 L1130.00,439.10 L1130.25,447.05 L1130.50,454.06 L1130.75,460.26 L1131.00,465.77 L1131.25,470.69 L1131.50,475.07 L1131.75,478.99 L1132.00,482.52 L1132.25,485.69 L1132.50,488.56 L1132.75,491.16 L1133.00,493.52 L1133.25,495.67 L1133.50,497.63 L1133.75,499.43 L1134.00,501.07 L1134.25,502.59 L1134.50,503.99 L1134.75,505.27 L1135.00,506.47 L1135.25,507.57 L1135.50,508.60 L1135.75,509.55 L1136.00,510.44 L1136.25,511.27 L1136.50,512.04 L1136.75,512.76 L1137.00,513.44 L1137.25,514.08 L1137.50,514.67 L1137.75,515.24 L1138.00,515.77 L1138.25,516.27 L1138.50,516.74 L1138.75,517.18 L1139.00,517.60 L1139.25,518.00 L1139.50,518.38 L1139.75,518.74 L1140.00,519.08 L1140.25,519.40 L1140.50,519.71 L1140.75,520.00 L1141.00,520.29 L1141.25,520.56 L1141.50,520.81 L1141.75,521.06 L1142.00,521.30 L1142.25,521.53 L1142.50,521.75 L1142.75,521.96 L1143.00,522.16 L1143.25,522.35 L1143.50,522.54 L1143.75,522.72 L1144.00,522.90 L1144.25,523.06 L1144.50,523.23 L1144.75,523.38 L1145.00,523.53 L1145.25,523.68 L1145.50,523.82 L1145.75,523.95 L1146.00,524.08 L1146.25,524.21 L1146.50,524.33 L1146.75,524.45 L1147.00,524.56 L1147.25,524.67 L1147.50,524.78 L1147.75,524.88 L1148.00,524.98 L1148.25,525.07 L1148.50,525.16 L1148.75,525.25 L1149.00,525.33 L1149.25,525.42 L1149.50,525.49 L1149.75,525.57 L1150.00,525.64 L1150.25,525.70 L1150.50,525.77 L1150.75,525.83 L1151.00,525.89 L1151.25,525.95 L1151.50,526.01 L1151.75,526.06 L1152.00,526.11 L1152.25,526.16 L1152.50,526.21 L1152.75,526.26 L1153.00,526.30 L1153.25,526.34 L1153.50,526.38 L1153.75,526.42 L1154.00,526.46 L1154.25,526.50 L1154.50,526.53 L1154.75,526.57 L1155.00,526.60 L1155.25,526.63 L1155.50,526.66 L1155.75,526.69 L1156.00,526.72 L1156.25,526.75 L1156.50,526.77 L1156.75,526.80 L1157.00,526.82 L1157.25,526.85 L1157.50,526.87 L1157.75,526.89 L1158.00,526.91 L1158.25,526.93 L1158.50,526.95 L1158.75,526.97 L1159.00,526.98 L1159.25,527.00 L1159.50,527.01 L1159.75,527.03 L1160.00,527.04 L1160.25,527.05 L1160.50,527.05 L1160.75,527.06 L1161.00,527.07 L1161.25,527.07 L1161.50,527.07 L1161.75,527.08 L1162.00,527.08 L1162.25,527.08 L1162.50,527.07 L1162.75,527.07 L1163.00,527.07 L1163.25,527.06 L1163.50,527.06 L1163.75,527.05 L1164.00,527.04 L1164.25,527.03 L1164.50,527.02 L1164.75,527.01 L1165.00,527.00 L1165.25,526.99 L1165.50,526.97 L1165.75,526.96 L1166.00,526.94 L1166.25,526.93 L1166.50,526.91 L1166.75,526.89 L1167.00,526.87 L1167.25,526.85 L1167.50,526.83 L1167.75,526.81 L1168.00,526.79 L1168.25,526.77 L1168.50,526.75 L1168.75,526.72 L1169.00,526.70 L1169.25,526.68 L1169.50,526.65 L1169.75,526.63 L1170.00,526.60 L1170.25,526.57 L1170.50,526.55 L1170.75,526.52 L1171.00,526.49 L1171.25,526.46 L1171.50,526.43 L1171.75,526.40 L1172.00,526.37 L1172.25,526.34 L1172.50,526.31 L1172.75,526.28 L1173.00,526.25 L1173.25,526.22 L1173.50,526.19 L1173.75,526.16 L1174.00,526.13 L1174.25,526.09 L1174.50,526.06 L1174.75,526.03 L1175.00,525.99 L1175.25,525.96 L1175.50,525.93 L1175.75,525.89 L1176.00,525.86 L1176.25,525.83 L1176.50,525.79 L1176.75,525.76 L1177.00,525.72 L1177.25,525.69 L1177.50,525.65 L1177.75,525.62 L1178.00,525.58 L1178.25,525.54 L1178.50,525.50 L1178.75,525.46 L1179.00,525.42 L1179.25,525.38 L1179.50,525.34 L1179.75,525.29 L1180.00,525.25 L1180.25,525.20 L1180.50,525.16 L1180.75,525.11 L1181.00,525.06 L1181.25,525.01 L1181.50,524.97 L1181.75,524.92 L1182.00,524.87 L1182.25,524.81 L1182.50,524.76 L1182.75,524.71 L1183.00,524.66 L1183.25,524.60 L1183.50,524.55 L1183.75,524.50 L1184.00,524.44 L1184.25,524.38 L1184.50,524.33 L1184.75,524.27 L1185.00,524.21 L1185.25,524.16 L1185.50,524.10 L1185.75,524.04 L1186.00,523.98 L1186.25,523.92 L1186.50,523.86 L1186.75,523.80 L1187.00,523.74 L1187.25,523.68 L1187.50,523.61 L1187.75,523.55 L1188.00,523.49 L1188.25,523.42 L1188.50,523.34 L1188.75,523.28 L1189.00,523.21 L1189.25,523.16 L1189.50,523.11 L1189.75,523.07 L1190.00,523.03 L1190.25,522.98 L1190.50,522.94 L1190.75,522.89 L1191.00,522.83 L1191.25,522.76 L1191.50,522.68 L1191.75,522.58 L1192.00,522.47 L1192.25,522.35 L1192.50,522.21 L1192.75,522.07 L1193.00,521.92 L1193.25,521.77 L1193.50,521.62 L1193.75,521.47 L1194.00,521.33 L1194.25,521.21 L1194.50,521.11 L1194.75,521.02 L1195.00,520.96 L1195.25,520.92 L1195.50,520.91 L1195.75,520.91 L1196.00,520.94 L1196.25,520.97 L1196.50,521.02 L1196.75,521.07 L1197.00,521.12 L1197.25,521.16 L1197.50,521.18 L1197.75,521.19 L1198.00,521.17 L1198.25,521.11 L1198.50,521.03 L1198.75,520.91 L1199.00,520.75 L1199.25,520.57 L1199.50,520.35 L1199.75,520.11 L1200.00,519.85 L1200.25,519.59 L1200.50,519.32 L1200.75,519.06 L1201.00,518.81 L1201.25,518.59 L1201.50,518.39 L1201.75,518.24 L1202.00,518.12 L1202.25,518.06 L1202.50,518.03 L1202.75,518.05 L1203.00,518.11 L1203.25,518.21 L1203.50,518.33 L1203.75,518.47 L1204.00,518.62 L1204.25,518.77 L1204.50,518.90 L1204.75,519.01 L1205.00,519.09 L1205.25,519.12 L1205.50,519.10 L1205.75,519.03 L1206.00,518.90 L1206.25,518.71 L1206.50,518.47 L1206.75,518.18 L1207.00,517.85 L1207.25,517.48 L1207.50,517.10 L1207.75,516.71 L1208.00,516.32 L1208.25,515.95 L1208.50,515.62 L1208.75,515.33 L1209.00,515.10 L1209.25,514.95 L1209.50,514.87 L1209.75,514.85 L1210.00,514.90 L1210.25,515.00 L1210.50,515.15 L1210.75,515.34 L1211.00,515.55 L1211.25,515.78 L1211.50,516.00 L1211.75,516.21 L1212.00,516.39 L1212.25,516.53 L1212.50,516.62 L1212.75,516.64 L1213.00,516.61 L1213.25,516.50 L1213.50,516.33 L1213.75,516.10 L1214.00,515.81 L1214.25,515.47 L1214.50,515.10 L1214.75,514.70 L1215.00,514.29 L1215.25,513.88 L1215.50,513.50 L1215.75,513.14 L1216.00,512.82 L1216.25,512.56 L1216.50,512.36 L1216.75,512.22 L1217.00,512.14 L1217.25,512.14 L1217.50,512.19 L1217.75,512.30 L1218.00,512.46 L1218.25,512.65 L1218.50,512.86 L1218.75,513.08 L1219.00,513.29 L1219.25,513.49 L1219.50,513.65 L1219.75,513.77 L1220.00,513.84 L1220.25,513.85 L1220.50,513.79 L1220.75,513.66 L1221.00,513.48 L1221.25,513.23 L1221.50,512.93 L1221.75,512.58 L1222.00,512.21 L1222.25,511.81 L1222.50,511.41 L1222.75,511.02 L1223.00,510.65 L1223.25,510.31 L1223.50,510.02 L1223.75,509.79 L1224.00,509.62 L1224.25,509.52 L1224.50,509.49 L1224.75,509.52 L1225.00,509.62 L1225.25,509.77 L1225.50,509.96 L1225.75,510.19 L1226.00,510.44 L1226.25,510.69 L1226.50,510.94 L1226.75,511.16 L1227.00,511.35 L1227.25,511.49 L1227.50,511.58 L1227.75,511.61 L1228.00,511.57 L1228.25,511.47 L1228.50,511.31 L1228.75,511.08 L1229.00,510.81 L1229.25,510.49 L1229.50,510.15 L1229.75,509.79 L1230.00,509.43 L1230.25,509.08 L1230.50,508.75 L1230.75,508.47 L1231.00,508.23 L1231.25,508.05 L1231.50,507.93 L1231.75,507.88 L1232.00,507.90 L1232.25,507.98 L1232.50,508.13 L1232.75,508.32 L1233.00,508.55 L1233.25,508.82 L1233.50,509.10 L1233.75,509.38 L1234.00,509.65 L1234.25,509.89 L1234.50,510.10 L1234.75,510.26 L1235.00,510.36 L1235.25,510.40 L1235.50,510.37 L1235.75,510.28 L1236.00,510.12 L1236.25,509.91 L1236.50,509.65 L1236.75,509.35 L1237.00,509.03 L1237.25,508.69 L1237.50,508.36 L1237.75,508.04 L1238.00,507.75 L1238.25,507.50 L1238.50,507.31 L1238.75,507.17 L1239.00,507.10 L1239.25,507.09 L1239.50,507.15 L1239.75,507.27 L1240.00,507.45 L1240.25,507.68 L1240.50,507.95 L1240.75,508.24 L1241.00,508.55 L1241.25,508.85 L1241.50,509.13 L1241.75,509.39 L1242.00,509.60 L1242.25,509.76 L1242.50,509.87 L1242.75,509.91 L1243.00,509.88 L1243.25,509.79 L1243.50,509.63 L1243.75,509.42 L1244.00,509.17 L1244.25,508.88 L1244.50,508.56 L1244.75,508.24 L1245.00,507.92 L1245.25,507.62 L1245.50,507.36 L1245.75,507.14 L1246.00,506.97 L1246.25,506.86 L1246.50,506.82 L1246.75,506.84 L1247.00,506.93 L1247.25,507.09 L1247.50,507.30 L1247.75,507.56 L1248.00,507.85 L1248.25,508.16 L1248.50,508.49 L1248.75,508.81 L1249.00,509.11 L1249.25,509.38 L1249.50,509.60 L1249.75,509.78 L1250.00,509.90 L1250.25,509.95 L1250.50,509.94 L1250.75,509.86 L1251.00,509.73 L1251.25,509.54 L1251.50,509.32 L1251.75,509.06 L1252.00,508.79 L1252.25,508.51 L1252.50,508.24 L1252.75,508.00 L1253.00,507.80 L1253.25,507.64 L1253.50,507.54 L1253.75,507.51 L1254.00,507.54 L1254.25,507.65 L1254.50,507.82 L1254.75,508.05 L1255.00,508.34 L1255.25,508.68 L1255.50,509.05 L1255.75,509.45 L1256.00,509.85 L1256.25,510.24 L1256.50,510.62 L1256.75,510.97 L1257.00,511.27 L1257.25,511.53 L1257.50,511.72 L1257.75,511.86 L1258.00,511.94 L1258.25,511.97 L1258.50,511.94 L1258.75,511.87 L1259.00,511.76 L1259.25,511.64 L1259.50,511.51 L1259.75,511.39 L1260.00,511.29 L1260.25,511.23 L1260.50,511.21 L1260.75,511.25 L1261.00,511.36 L1261.25,511.54 L1261.50,511.79 L1261.75,512.12 L1262.00,512.52 L1262.25,512.98 L1262.50,513.49 L1262.75,514.05 L1263.00,514.63 L1263.25,515.22 L1263.50,515.81 L1263.75,516.38 L1264.00,516.91 L1264.25,517.40 L1264.50,517.82 L1264.75,518.16 L1265.00,518.43 L1265.25,518.60 L1265.50,518.70 L1265.75,518.71 L1266.00,518.63 L1266.25,518.49 L1266.50,518.29 L1266.75,518.03 L1267.00,517.75 L1267.25,517.44 L1267.50,517.13 L1267.75,516.83 L1268.00,516.55 L1268.25,516.31 L1268.50,516.12 L1268.75,515.97 L1269.00,515.89 L1269.25,515.86 L1269.50,515.89 L1269.75,515.97 L1270.00,516.10 L1270.25,516.26 L1270.50,516.44 L1270.75,516.64 L1271.00,516.83 L1271.25,517.01 L1271.50,517.17 L1271.75,517.28 L1272.00,517.34 L1272.25,517.35 L1272.50,517.29 L1272.75,517.17 L1273.00,516.99 L1273.25,516.75 L1273.50,516.46 L1273.75,516.12 L1274.00,515.75 L1274.25,515.36 L1274.50,514.96 L1274.75,514.57 L1275.00,514.20 L1275.25,513.86 L1275.50,513.56 L1275.75,513.32 L1276.00,513.14 L1276.25,513.03 L1276.50,512.98 L1276.75,513.00 L1277.00,513.08 L1277.25,513.22 L1277.50,513.40 L1277.75,513.62 L1278.00,513.85 L1278.25,514.09 L1278.50,514.33 L1278.75,514.54 L1279.00,514.73 L1279.25,514.86 L1279.50,514.94 L1279.75,514.96 L1280.00,514.92 L1280.25,514.81 L1280.50,514.63 L1280.75,514.40 L1281.00,514.11 L1281.25,513.78 L1281.50,513.42 L1281.75,513.03 L1282.00,512.65 L1282.25,512.27 L1282.50,511.92 L1282.75,511.60 L1283.00,511.33 L1283.25,511.11 L1283.50,510.96 L1283.75,510.87 L1284.00,510.85 L1284.25,510.89 L1284.50,511.00 L1284.75,511.15 L1285.00,511.35 L1285.25,511.58 L1285.50,511.82 L1285.75,512.07 L1286.00,512.31 L1286.25,512.52 L1286.50,512.70 L1286.75,512.83 L1287.00,512.90 L1287.25,512.91 L1287.50,512.85 L1287.75,512.73 L1288.00,512.55 L1288.25,512.30 L1288.50,512.01 L1288.75,511.67 L1289.00,511.31 L1289.25,510.93 L1289.50,510.55 L1289.75,510.19 L1290.00,509.85 L1290.25,509.55 L1290.50,509.30 L1290.75,509.11 L1291.00,508.98 L1291.25,508.91 L1291.50,508.92 L1291.75,508.98 L1292.00,509.11 L1292.25,509.29 L1292.50,509.50 L1292.75,509.74 L1293.00,510.00 L1293.25,510.25 L1293.50,510.49 L1293.75,510.70 L1294.00,510.87 L1294.25,510.99 L1294.50,511.06 L1294.75,511.05 L1295.00,510.99 L1295.25,510.85 L1295.50,510.65 L1295.75,510.40 L1296.00,510.10 L1296.25,509.76 L1296.50,509.39 L1296.75,509.01 L1297.00,508.64 L1297.25,508.28 L1297.50,507.95 L1297.75,507.66 L1298.00,507.42 L1298.25,507.24 L1298.50,507.13 L1298.75,507.08 L1299.00,507.09 L1299.25,507.17 L1299.50,507.30 L1299.75,507.48 L1300.00,507.70 L1300.25,507.93 L1300.50,508.18 L1300.75,508.42 L1301.00,508.64 L1301.25,508.83 L1301.50,508.98 L1301.75,509.07 L1302.00,509.10 L1302.25,509.07 L1302.50,508.97 L1302.75,508.80 L1303.00,508.57 L1303.25,508.29 L1303.50,507.95 L1303.75,507.59 L1304.00,507.20 L1304.25,506.80 L1304.50,506.41 L1304.75,506.03 L1305.00,505.69 L1305.25,505.40 L1305.50,505.15 L1305.75,504.97 L1306.00,504.85 L1306.25,504.79 L1306.50,504.81 L1306.75,504.88 L1307.00,505.00 L1307.25,505.17 L1307.50,505.37 L1307.75,505.59 L1308.00,505.81 L1308.25,506.03 L1308.50,506.22 L1308.75,506.38 L1309.00,506.49 L1309.25,506.55 L1309.50,506.54 L1309.75,506.47 L1310.00,506.33 L1310.25,506.12 L1310.50,505.86 L1310.75,505.54 L1311.00,505.18 L1311.25,504.78 L1311.50,504.37 L1311.75,503.95 L1312.00,503.54 L1312.25,503.16 L1312.50,502.81 L1312.75,502.50 L1313.00,502.25 L1313.25,502.07 L1313.50,501.95 L1313.75,501.89 L1314.00,501.90 L1314.25,501.96 L1314.50,502.08 L1314.75,502.23 L1315.00,502.42 L1315.25,502.62 L1315.50,502.82 L1315.75,503.01 L1316.00,503.17 L1316.25,503.30 L1316.50,503.37 L1316.75,503.39 L1317.00,503.34 L1317.25,503.23 L1317.50,503.05 L1317.75,502.81 L1318.00,502.51 L1318.25,502.15 L1318.50,501.76 L1318.75,501.34 L1319.00,500.91 L1319.25,500.47 L1319.50,500.05 L1319.75,499.66 L1320.00,499.30 L1320.25,499.00 L1320.50,498.75 L1320.75,498.57 L1321.00,498.46 L1321.25,498.41 L1321.50,498.43 L1321.75,498.50 L1322.00,498.63 L1322.25,498.79 L1322.50,498.98 L1322.75,499.19 L1323.00,499.40 L1323.25,499.59 L1323.50,499.75 L1323.75,499.88 L1324.00,499.96 L1324.25,499.98 L1324.50,499.93 L1324.75,499.82 L1325.00,499.65 L1325.25,499.41 L1325.50,499.12 L1325.75,498.79 L1326.00,498.41 L1326.25,498.02 L1326.50,497.61 L1326.75,497.20 L1327.00,496.82 L1327.25,496.46 L1327.50,496.15 L1327.75,495.89 L1328.00,495.68 L1328.25,495.54 L1328.50,495.47 L1328.75,495.46 L1329.00,495.51 L1329.25,495.62 L1329.50,495.77 L1329.75,495.95 L1330.00,496.15 L1330.25,496.36 L1330.50,496.56 L1330.75,496.74 L1331.00,496.88 L1331.25,496.98 L1331.50,497.02 L1331.75,497.00 L1332.00,496.91 L1332.25,496.75 L1332.50,496.52 L1332.75,496.22 L1333.00,495.87 L1333.25,495.47 L1333.50,495.03 L1333.75,494.57 L1334.00,494.10 L1334.25,493.63 L1334.50,493.18 L1334.75,492.77 L1335.00,492.39 L1335.25,492.06 L1335.50,491.80 L1335.75,491.59 L1336.00,491.46 L1336.25,491.38 L1336.50,491.36 L1336.75,491.40 L1337.00,491.47 L1337.25,491.58 L1337.50,491.70 L1337.75,491.83 L1338.00,491.95 L1338.25,492.04 L1338.50,492.10 L1338.75,492.11 L1339.00,492.07 L1339.25,491.96 L1339.50,491.79 L1339.75,491.55 L1340.00,491.24 L1340.25,490.88 L1340.50,490.46 L1340.75,490.00 L1341.00,489.51 L1341.25,489.00 L1341.50,488.49 L1341.75,487.99 L1342.00,487.51 L1342.25,487.07 L1342.50,486.68 L1342.75,486.34 L1343.00,486.07 L1343.25,485.86 L1343.50,485.72 L1343.75,485.64 L1344.00,485.62 L1344.25,485.65 L1344.50,485.72 L1344.75,485.82 L1345.00,485.94 L1345.25,486.05 L1345.50,486.16 L1345.75,486.23 L1346.00,486.27 L1346.25,486.26 L1346.50,486.19 L1346.75,486.05 L1347.00,485.85 L1347.25,485.58 L1347.50,485.25 L1347.75,484.85 L1348.00,484.41 L1348.25,483.92 L1348.50,483.41 L1348.75,482.88 L1349.00,482.35 L1349.25,481.84 L1349.50,481.35 L1349.75,480.90 L1350.00,480.49 L1350.25,480.15 L1350.50,479.86 L1350.75,479.64 L1351.00,479.49 L1351.25,479.39 L1351.50,479.35 L1351.75,479.36 L1352.00,479.40 L1352.25,479.47 L1352.50,479.54 L1352.75,479.61 L1353.00,479.66 L1353.25,479.68 L1353.50,479.65 L1353.75,479.57 L1354.00,479.43 L1354.25,479.22 L1354.50,478.95 L1354.75,478.60 L1355.00,478.19 L1355.25,477.72 L1355.50,477.20 L1355.75,476.64 L1356.00,476.06 L1356.25,475.46 L1356.50,474.87 L1356.75,474.29 L1357.00,473.74 L1357.25,473.24 L1357.50,472.78 L1357.75,472.38 L1358.00,472.05 L1358.25,471.78 L1358.50,471.58 L1358.75,471.43 L1359.00,471.35 L1359.25,471.30 L1359.50,471.30 L1359.75,471.31 L1360.00,471.33 L1360.25,471.35 L1360.50,471.35 L1360.75,471.32 L1361.00,471.24 L1361.25,471.11 L1361.50,470.92 L1361.75,470.67 L1362.00,470.35 L1362.25,469.97 L1362.50,469.53 L1362.75,469.03 L1363.00,468.50 L1363.25,467.93 L1363.50,467.34 L1363.75,466.75 L1364.00,466.17 L1364.25,465.61 L1364.50,465.09 L1364.75,464.62 L1365.00,464.20 L1365.25,463.84 L1365.50,463.56 L1365.75,463.34 L1366.00,463.19 L1366.25,463.10 L1366.50,463.06 L1366.75,463.07 L1367.00,463.12 L1367.25,463.18 L1367.50,463.25 L1367.75,463.32 L1368.00,463.36 L1368.25,463.38 L1368.50,463.34 L1368.75,463.26 L1369.00,463.12 L1369.25,462.91 L1369.50,462.64 L1369.75,462.31 L1370.00,461.92 L1370.25,461.49 L1370.50,461.02 L1370.75,460.52 L1371.00,460.01 L1371.25,459.50 L1371.50,459.01 L1371.75,458.54 L1372.00,458.12 L1372.25,457.74 L1372.50,457.42 L1372.75,457.17 L1373.00,456.99 L1373.25,456.87 L1373.50,456.81 L1373.75,456.82 L1374.00,456.86 L1374.25,456.95 L1374.50,457.05 L1374.75,457.16 L1375.00,457.27 L1375.25,457.35 L1375.50,457.41 L1375.75,457.41 L1376.00,457.37 L1376.25,457.27 L1376.50,457.12 L1376.75,456.91 L1377.00,456.66 L1377.25,456.37 L1377.50,456.06 L1377.75,455.73 L1378.00,455.40 L1378.25,455.09 L1378.50,454.81 L1378.75,454.56 L1379.00,454.36 L1379.25,454.22 L1379.50,454.15 L1379.75,454.15 L1380.00,454.21 L1380.25,454.36 L1380.50,454.58 L1380.75,454.86 L1381.00,455.22 L1381.25,455.63 L1381.50,456.10 L1381.75,456.61 L1382.00,457.15 L1382.25,457.70 L1382.50,458.27 L1382.75,458.83 L1383.00,459.38 L1383.25,459.90 L1383.50,460.38 L1383.75,460.82 L1384.00,461.21 L1384.25,461.55 L1384.50,461.84 L1384.75,462.09 L1385.00,462.29 L1385.25,462.46 L1385.50,462.61 L1385.75,462.75 L1386.00,462.89 L1386.25,463.04 L1386.50,463.22 L1386.75,463.43 L1387.00,463.68 L1387.25,463.98 L1387.50,464.32 L1387.75,464.70 L1388.00,465.12 L1388.25,465.56 L1388.50,466.01 L1388.75,466.45 L1389.00,466.88 L1389.25,467.28 L1389.50,467.66 L1389.75,468.00 L1390.00,468.32 L1390.25,468.64 L1390.50,468.98 L1390.75,469.35 L1391.00,469.78 L1391.25,470.30 L1391.50,470.91 L1391.75,471.62 L1392.00,472.42 L1392.25,473.32 L1392.50,474.28 L1392.75,475.29 L1393.00,476.33 L1393.25,477.39 L1393.50,478.45 L1393.75,479.50 L1394.00,480.56 L1394.25,481.64 L1394.50,482.74 L1394.75,483.89 L1395.00,485.10 L1395.25,486.40 L1395.50,487.78 L1395.75,489.25 L1396.00,490.80 L1396.25,492.40 L1396.50,494.03 L1396.75,495.66 L1397.00,497.26 L1397.25,498.78 L1397.50,500.20 L1397.75,501.50 L1398.00,502.67 L1398.25,503.71 L1398.50,504.62 L1398.75,505.42 L1399.00,506.11 L1399.25,506.73 L1399.50,507.27 L1399.75,507.77 L1400.00,508.22 L1400.25,508.65 L1400.50,509.05 L1400.75,509.44 L1401.00,509.82 L1401.25,510.20 L1401.50,510.59 L1401.75,510.99 L1402.00,511.42 L1402.25,511.88 L1402.50,512.38 L1402.75,512.92 L1403.00,513.49 L1403.25,514.11 L1403.50,514.75 L1403.75,515.43 L1404.00,516.12 L1404.25,516.82 L1404.50,517.51 L1404.75,518.19 L1405.00,518.84 L1405.25,519.44 L1405.50,520.00 L1405.75,520.49 L1406.00,520.91 L1406.25,521.26 L1406.50,521.53 L1406.75,521.73 L1407.00,521.85 L1407.25,521.91 L1407.50,521.91 L1407.75,521.86 L1408.00,521.78 L1408.25,521.68 L1408.50,521.57 L1408.75,521.47 L1409.00,521.39 L1409.25,521.34 L1409.50,521.32 L1409.75,521.36 L1410.00,521.45 L1410.25,521.59 L1410.50,521.79 L1410.75,522.04 L1411.00,522.33 L1411.25,522.66 L1411.50,523.01 L1411.75,523.37 L1412.00,523.74 L1412.25,524.08 L1412.50,524.40 L1412.75,524.68 L1413.00,524.91 L1413.25,525.08 L1413.50,525.17 L1413.75,525.20 L1414.00,525.15 L1414.25,525.04 L1414.50,524.85 L1414.75,524.61 L1415.00,524.32 L1415.25,523.99 L1415.50,523.64 L1415.75,523.28 L1416.00,522.93 L1416.25,522.60 L1416.50,522.30 L1416.75,522.04 L1417.00,521.84 L1417.25,521.70 L1417.50,521.63 L1417.75,521.63 L1418.00,521.70 L1418.25,521.83 L1418.50,522.01 L1418.75,522.24 L1419.00,522.51 L1419.25,522.80 L1419.50,523.10 L1419.75,523.39 L1420.00,523.66 L1420.25,523.90 L1420.50,524.10 L1420.75,524.24 L1421.00,524.32 L1421.25,524.34 L1421.50,524.28 L1421.75,524.16 L1422.00,523.98 L1422.25,523.76 L1422.50,523.50 L1422.75,523.23 L1423.00,522.95 L1423.25,522.67 L1423.50,522.42 L1423.75,522.19 L1424.00,522.00 L1424.25,521.86 L1424.50,521.78 L1424.75,521.74 L1425.00,521.76 L1425.25,521.83 L1425.50,521.95 L1425.75,522.11 L1426.00,522.30 L1426.25,522.51 L1426.50,522.73 L1426.75,522.96 L1427.00,523.17 L1427.25,523.37 L1427.50,523.55 L1427.75,523.69 L1428.00,523.80 L1428.25,523.87 L1428.50,523.91 L1428.75,523.90 L1429.00,523.86 L1429.25,523.79 L1429.50,523.70 L1429.75,523.59 L1430.00,523.47 L1430.25,523.34 L1430.50,523.22 L1430.75,523.11 L1431.00,523.01 L1431.25,522.94 L1431.50,522.88 L1431.75,522.85 L1432.00,522.85 L1432.25,522.87 L1432.50,522.91 L1432.75,522.97 L1433.00,523.04 L1433.25,523.12 L1433.50,523.21 L1433.75,523.30 L1434.00,523.39 L1434.25,523.46 L1434.50,523.53 L1434.75,523.59 L1435.00,523.63 L1435.25,523.66 L1435.50,523.68 L1435.75,523.68 L1436.00,523.68 L1436.25,523.67 L1436.50,523.67 L1436.75,523.66 L1437.00,523.66 L1437.25,523.67 L1437.50,523.67 L1437.75,523.68 L1438.00,523.69 L1438.25,523.70 L1438.50,523.71 L1438.75,523.72 L1439.00,523.73 L1439.25,523.74 L1439.50,523.74 L1439.75,523.75 L1440.00,523.76 L1440.25,523.77 L1440.50,523.78 L1440.75,523.79 L1441.00,523.80 L1441.25,523.81 L1441.50,523.81 L1441.75,523.82 L1442.00,523.83 L1442.25,523.84 L1442.50,523.85 L1442.75,523.86 L1443.00,523.87 L1443.25,523.87 L1443.50,523.88 L1443.75,523.89 L1444.00,523.90 L1444.25,523.91 L1444.50,523.92 L1444.75,523.92 L1445.00,523.93 L1445.25,523.94 L1445.50,523.95 L1445.75,523.95 L1446.00,523.96 L1446.25,523.97 L1446.50,523.98 L1446.75,523.98 L1447.00,523.99 L1447.25,524.00 L1447.50,524.01 L1447.75,524.01 L1448.00,524.02 L1448.25,524.03 L1448.50,524.03 L1448.75,524.04 L1449.00,524.05 L1449.25,524.05 L1449.50,524.06 L1449.75,524.07 L1450.00,524.07 L1450.25,524.08 L1450.50,524.09 L1450.75,524.09 L1451.00,524.10 L1451.25,524.10 L1451.50,524.11 L1451.75,524.12 L1452.00,524.12 L1452.25,524.13 L1452.50,524.13 L1452.75,524.14 L1453.00,524.15 L1453.25,524.15 L1453.50,524.16 L1453.75,524.16 L1454.00,524.17 L1454.25,524.18 L1454.50,524.18 L1454.75,524.19 L1455.00,524.19 L1455.25,524.20 L1455.50,524.21 L1455.75,524.21 L1456.00,524.22 L1456.25,524.22 L1456.50,524.23 L1456.75,524.23 L1457.00,524.24 L1457.25,524.25 L1457.50,524.25 L1457.75,524.26 L1458.00,524.26 L1458.25,524.27 L1458.50,524.28 L1458.75,524.28 L1459.00,524.29 L1459.25,524.29 L1459.50,524.30 L1459.75,524.30 L1460.00,524.31 L1460.25,524.32 L1460.50,524.32 L1460.75,524.33 L1461.00,524.33 L1461.25,524.34 L1461.50,524.34 L1461.75,524.35 L1462.00,524.36 L1462.25,524.36 L1462.50,524.37 L1462.75,524.37 L1463.00,524.38 L1463.25,524.38 L1463.50,524.39 L1463.75,524.39 L1464.00,524.40 L1464.25,524.41 L1464.50,524.41 L1464.75,524.42 L1465.00,524.42 L1465.25,524.43 L1465.50,524.43 L1465.75,524.44 L1466.00,524.45 L1466.25,524.45 L1466.50,524.46 L1466.75,524.46 L1467.00,524.47 L1467.25,524.47 L1467.50,524.48 L1467.75,524.48 L1468.00,524.49 L1468.25,524.49 L1468.50,524.50 L1468.75,524.51 L1469.00,524.51 L1469.25,524.52 L1469.50,524.52 L1469.75,524.53 L1470.00,524.53 L1470.25,524.54 L1470.50,524.54 L1470.75,524.55 L1471.00,524.55 L1471.25,524.56 L1471.50,524.57 L1471.75,524.57 L1472.00,524.58 L1472.25,524.58 L1472.50,524.59 L1472.75,524.59 L1473.00,524.60 L1473.25,524.60 L1473.50,524.61 L1473.75,524.61 L1474.00,524.62 L1474.25,524.62 L1474.50,524.63 L1474.75,524.64 L1475.00,524.64 L1475.25,524.65 L1475.50,524.65 L1475.75,524.66 L1476.00,524.66 L1476.25,524.67 L1476.50,524.67 L1476.75,524.68 L1477.00,524.68 L1477.25,524.69 L1477.50,524.69 L1477.75,524.70 L1478.00,524.70 L1478.25,524.71 L1478.50,524.72 L1478.75,524.72 L1479.00,524.73 L1479.25,524.73 L1479.50,524.74 L1479.75,524.74 L1480.00,524.75 L1480.25,524.75 L1480.50,524.76 L1480.75,524.76 L1481.00,524.77 L1481.25,524.77 L1481.50,524.78 L1481.75,524.78 L1482.00,524.79 L1482.25,524.79 L1482.50,524.80 L1482.75,524.80 L1483.00,524.81 L1483.25,524.81 L1483.50,524.82 L1483.75,524.82 L1484.00,524.83 L1484.25,524.83 L1484.50,524.84 L1484.75,524.85 L1485.00,524.85 L1485.25,524.86 L1485.50,524.86 L1485.75,524.87 L1486.00,524.87 L1486.25,524.88 L1486.50,524.88 L1486.75,524.89 L1487.00,524.89 L1487.25,524.90 L1487.50,524.90 L1487.75,524.91 L1488.00,524.91 L1488.25,524.92 L1488.50,524.92 L1488.75,524.93 L1489.00,524.93 L1489.25,524.94 L1489.50,524.94 L1489.75,524.95 L1490.00,524.95 L1490.25,524.96 L1490.50,524.96 L1490.75,524.97 L1491.00,524.97 L1491.25,524.98 L1491.50,524.98 L1491.75,524.99 L1492.00,524.99 L1492.25,525.00 L1492.50,525.00 L1492.75,525.01 L1493.00,525.01 L1493.25,525.02 L1493.50,525.02 L1493.75,525.03 L1494.00,525.03 L1494.25,525.04 L1494.50,525.04 L1494.75,525.05 L1495.00,525.05 L1495.25,525.06 L1495.50,525.06 L1495.75,525.07 L1496.00,525.07 L1496.25,525.08 L1496.50,525.08 L1496.75,525.09 L1497.00,525.09 L1497.25,525.10 L1497.50,525.10 L1497.75,525.11 L1498.00,525.11 L1498.25,525.12 L1498.50,525.12 L1498.75,525.13 L1499.00,525.13 L1499.25,525.14 L1499.50,525.14 L1499.75,525.15 L1500.00,525.15 L1500.25,525.16 L1500.50,525.16 L1500.75,525.17 L1501.00,525.17 L1501.25,525.18 L1501.50,525.18 L1501.75,525.19 L1502.00,525.19 L1502.25,525.20 L1502.50,525.20 L1502.75,525.21 L1503.00,525.21 L1503.25,525.22 L1503.50,525.22 L1503.75,525.22 L1504.00,525.23 L1504.25,525.23 L1504.50,525.24 L1504.75,525.24 L1505.00,525.25 L1505.25,525.25 L1505.50,525.26 L1505.75,525.26 L1506.00,525.27 L1506.25,525.27 L1506.50,525.28 L1506.75,525.28 L1507.00,525.29 L1507.25,525.29 L1507.50,525.30 L1507.75,525.30 L1508.00,525.31 L1508.25,525.31 L1508.50,525.32 L1508.75,525.32 L1509.00,525.33 L1509.25,525.33 L1509.50,525.34 L1509.75,525.34 L1510.00,525.35 L1510.25,525.35 L1510.50,525.36 L1510.75,525.36 L1511.00,525.37 L1511.25,525.37 L1511.50,525.38 L1511.75,525.38 L1512.00,525.39 L1512.25,525.39 L1512.50,525.40 L1512.75,525.40 L1513.00,525.41 L1513.25,525.41 L1513.50,525.42 L1513.75,525.42 L1514.00,525.43 L1514.25,525.43 L1514.50,525.44 L1514.75,525.44 L1515.00,525.45 L1515.25,525.45 L1515.50,525.45 L1515.75,525.46 L1516.00,525.46 L1516.25,525.47 L1516.50,525.47 L1516.75,525.48 L1517.00,525.48 L1517.25,525.49 L1517.50,525.49 L1517.75,525.49 L1518.00,525.50 L1518.25,525.50 L1518.50,525.50 L1518.75,525.51 L1519.00,525.51 L1519.25,525.52 L1519.50,525.52 L1519.75,525.52 L1520.00,525.53 L1520.25,525.53 L1520.50,525.53 L1520.75,525.54 L1521.00,525.54 L1521.25,525.54 L1521.50,525.55 L1521.75,525.55 L1522.00,525.55 L1522.25,525.56 L1522.50,525.56 L1522.75,525.56 L1523.00,525.56 L1523.25,525.57 L1523.50,525.57 L1523.75,525.57 L1524.00,525.58 L1524.25,525.58 L1524.50,525.58 L1524.75,525.59 L1525.00,525.59 L1525.25,525.59 L1525.50,525.59 L1525.75,525.60 L1526.00,525.60 L1526.25,525.60 L1526.50,525.61 L1526.75,525.61 L1527.00,525.61 L1527.25,525.61 L1527.50,525.62 L1527.75,525.62 L1528.00,525.62 L1528.25,525.62 L1528.50,525.63 L1528.75,525.63 L1529.00,525.63 L1529.25,525.63 L1529.50,525.64 L1529.75,525.64 L1530.00,525.64 L1530.25,525.64 L1530.50,525.65 L1530.75,525.65 L1531.00,525.65 L1531.25,525.65 L1531.50,525.66 L1531.75,525.66 L1532.00,525.66 L1532.25,525.66 L1532.50,525.66 L1532.75,525.67 L1533.00,525.67 L1533.25,525.67 L1533.50,525.67 L1533.75,525.67 L1534.00,525.68 L1534.25,525.68 L1534.50,525.68 L1534.75,525.68 L1535.00,525.68 L1535.25,525.68 L1535.50,525.68 L1535.75,525.69 L1536.00,525.69 L1536.25,525.69 L1536.50,525.69 L1536.75,525.69 L1537.00,525.69 L1537.25,525.68 L1537.50,525.68 L1537.75,525.68 L1538.00,525.68 L1538.25,525.67 L1538.50,525.66 L1538.75,525.65 L1539.00,525.64 L1539.25,525.63 L1539.50,525.61 L1539.75,525.59 L1540.00,525.57 L1540.25,525.54 L1540.50,525.50 L1540.75,525.46 L1541.00,525.41 L1541.25,525.36 L1541.50,525.29 L1541.75,525.22 L1542.00,525.14 L1542.25,525.05 L1542.50,524.96 L1542.75,524.85 L1543.00,524.73 L1543.25,524.60 L1543.50,524.47 L1543.75,524.32 L1544.00,524.17 L1544.25,524.01 L1544.50,523.84 L1544.75,523.66 L1545.00,523.48 L1545.25,523.30 L1545.50,523.11 L1545.75,522.93 L1546.00,522.74 L1546.25,522.56 L1546.50,522.37 L1546.75,522.20 L1547.00,522.02 L1547.25,521.86 L1547.50,521.70 L1547.75,521.55 L1548.00,521.41 L1548.25,521.28 L1548.50,521.16 L1548.75,521.05 L1549.00,520.94 L1549.25,520.85 L1549.50,520.77 L1549.75,520.70 L1550.00,520.63 L1550.25,520.58 L1550.50,520.53 L1550.75,520.49 L1551.00,520.45 L1551.25,520.42 L1551.50,520.40 L1551.75,520.38 L1552.00,520.37 L1552.25,520.35 L1552.50,520.34 L1552.75,520.34 L1553.00,520.33 L1553.25,520.33 L1553.50,520.33 L1553.75,520.33 L1554.00,520.34 L1554.25,520.34 L1554.50,520.35 L1554.75,520.35 L1555.00,520.36 L1555.25,520.37 L1555.50,520.38 L1555.75,520.39 L1556.00,520.40 L1556.25,520.42 L1556.50,520.43 L1556.75,520.44 L1557.00,520.46 L1557.25,520.48 L1557.50,520.49 L1557.75,520.51 L1558.00,520.53 L1558.25,520.55 L1558.50,520.57 L1558.75,520.60 L1559.00,520.62 L1559.25,520.64 L1559.50,520.67 L1559.75,520.69 L1560.00,520.72 L1560.25,520.75 L1560.50,520.77 L1560.75,520.80 L1561.00,520.83 L1561.25,520.86 L1561.50,520.89 L1561.75,520.92 L1562.00,520.95 L1562.25,520.99 L1562.50,521.02 L1562.75,521.05 L1563.00,521.08 L1563.25,521.12 L1563.50,521.15 L1563.75,521.19 L1564.00,521.22 L1564.25,521.26 L1564.50,521.29 L1564.75,521.33 L1565.00,521.37 L1565.25,521.40 L1565.50,521.44 L1565.75,521.48 L1566.00,521.51 L1566.25,521.55 L1566.50,521.59 L1566.75,521.63 L1567.00,521.66 L1567.25,521.70 L1567.50,521.74 L1567.75,521.77 L1568.00,521.81 L1568.25,521.85 L1568.50,521.89 L1568.75,521.92 L1569.00,521.96 L1569.25,522.00 L1569.50,522.03 L1569.75,522.07 L1570.00,522.11 L1570.25,522.14 L1570.50,522.18 L1570.75,522.21 L1571.00,522.25 L1571.25,522.28 L1571.50,522.32 L1571.75,522.35 L1572.00,522.38 L1572.25,522.42 L1572.50,522.45 L1572.75,522.49 L1573.00,522.52 L1573.25,522.55 L1573.50,522.58 L1573.75,522.62 L1574.00,522.65 L1574.25,522.68 L1574.50,522.71 L1574.75,522.75 L1575.00,522.78 L1575.25,522.81 L1575.50,522.84 L1575.75,522.87 L1576.00,522.91 L1576.25,522.94 L1576.50,522.97 L1576.75,523.00 L1577.00,523.04 L1577.25,523.07 L1577.50,523.10 L1577.75,523.13 L1578.00,523.17 L1578.25,523.20 L1578.50,523.23 L1578.75,523.26 L1579.00,523.30 L1579.25,523.33 L1579.50,523.36 L1579.75,523.40 L1580.00,523.43 L1580.25,523.46 L1580.50,523.49 L1580.75,523.53 L1581.00,523.56 L1581.25,523.59 L1581.50,523.63 L1581.75,523.66 L1582.00,523.69 L1582.25,523.72 L1582.50,523.76 L1582.75,523.79 L1583.00,523.82 L1583.25,523.85 L1583.50,523.88 L1583.75,523.92 L1584.00,523.95 L1584.25,523.98 L1584.50,524.01 L1584.75,524.04 L1585.00,524.07 L1585.25,524.10 L1585.50,524.13 L1585.75,524.16 L1586.00,524.19 L1586.25,524.22 L1586.50,524.25 L1586.75,524.28 L1587.00,524.30 L1587.25,524.33 L1587.50,524.36 L1587.75,524.39 L1588.00,524.41 L1588.25,524.44 L1588.50,524.47 L1588.75,524.49 L1589.00,524.52 L1589.25,524.54 L1589.50,524.56 L1589.75,524.59 L1590.00,524.61 L1590.25,524.63 L1590.50,524.66 L1590.75,524.68 L1591.00,524.70 L1591.25,524.72 L1591.50,524.74 L1591.75,524.76 L1592.00,524.78 L1592.25,524.80 L1592.50,524.82 L1592.75,524.84 L1593.00,524.86 L1593.25,524.88 L1593.50,524.90 L1593.75,524.91 L1594.00,524.93 L1594.25,524.95 L1594.50,524.97 L1594.75,524.98 L1595.00,525.00 L1595.25,525.02 L1595.50,525.03 L1595.75,525.05 L1596.00,525.07 L1596.25,525.08 L1596.50,525.10 L1596.75,525.11 L1597.00,525.13 L1597.25,525.14 L1597.50,525.16 L1597.75,525.17 L1598.00,525.19 L1598.25,525.20 L1598.50,525.22 L1598.75,525.23 L1599.00,525.25 L1599.25,525.26 L1599.50,525.27 L1599.75,525.29 L1600.00,525.30 L1600.25,525.31 L1600.50,525.33 L1600.75,525.34 L1601.00,525.35 L1601.25,525.36 L1601.50,525.38 L1601.75,525.39 L1602.00,525.40 L1602.25,525.41 L1602.50,525.42 L1602.75,525.43 L1603.00,525.45 L1603.25,525.46 L1603.50,525.47 L1603.75,525.48 L1604.00,525.49 L1604.25,525.50 L1604.50,525.51 L1604.75,525.52 L1605.00,525.53 L1605.25,525.54 L1605.50,525.54 L1605.75,525.55 L1606.00,525.56 L1606.25,525.57 L1606.50,525.58 L1606.75,525.58 L1607.00,525.59 L1607.25,525.60 L1607.50,525.60 L1607.75,525.61 L1608.00,525.62 L1608.25,525.62 L1608.50,525.63 L1608.75,525.63 L1609.00,525.64 L1609.25,525.64 L1609.50,525.65 L1609.75,525.65 L1610.00,525.66 L1610.25,525.66 L1610.50,525.66 L1610.75,525.67 L1611.00,525.67 L1611.25,525.67 L1611.50,525.67 L1611.75,525.68 L1612.00,525.68 L1612.25,525.68 L1612.50,525.68 L1612.75,525.68 L1613.00,525.68 L1613.25,525.68 L1613.50,525.68 L1613.75,525.68 L1614.00,525.68 L1614.25,525.68 L1614.50,525.68 L1614.75,525.67 L1615.00,525.67 L1615.25,525.67 L1615.50,525.67 L1615.75,525.67 L1616.00,525.66 L1616.25,525.66 L1616.50,525.66 L1616.75,525.65 L1617.00,525.65 L1617.25,525.65 L1617.50,525.64 L1617.75,525.64 L1618.00,525.63 L1618.25,525.63 L1618.50,525.62 L1618.75,525.62 L1619.00,525.61 L1619.25,525.60 L1619.50,525.60 L1619.75,525.59 L1620.00,525.58 L1620.25,525.58 L1620.50,525.57 L1620.75,525.56 L1621.00,525.55 L1621.25,525.54 L1621.50,525.53 L1621.75,525.52 L1622.00,525.51 L1622.25,525.49 L1622.50,525.48 L1622.75,525.47 L1623.00,525.45 L1623.25,525.44 L1623.50,525.43 L1623.75,525.41 L1624.00,525.39 L1624.25,525.38 L1624.50,525.36 L1624.75,525.34 L1625.00,525.32 L1625.25,525.30 L1625.50,525.28 L1625.75,525.26 L1626.00,525.24 L1626.25,525.21 L1626.50,525.19 L1626.75,525.16 L1627.00,525.14 L1627.25,525.11 L1627.50,525.08 L1627.75,525.05 L1628.00,525.02 L1628.25,524.99 L1628.50,524.95 L1628.75,524.92 L1629.00,524.88 L1629.25,524.85 L1629.50,524.81 L1629.75,524.77 L1630.00,524.73 L1630.25,524.69 L1630.50,524.65 L1630.75,524.61 L1631.00,524.56 L1631.25,524.52 L1631.50,524.47 L1631.75,524.42 L1632.00,524.37 L1632.25,524.32 L1632.50,524.27 L1632.75,524.22 L1633.00,524.16 L1633.25,524.11 L1633.50,524.05 L1633.75,523.99 L1634.00,523.92 L1634.25,523.86 L1634.50,523.80 L1634.75,523.73 L1635.00,523.66 L1635.25,523.59 L1635.50,523.51 L1635.75,523.43 L1636.00,523.35 L1636.25,523.27 L1636.50,523.19 L1636.75,523.10 L1637.00,523.01 L1637.25,522.91 L1637.50,522.82 L1637.75,522.72 L1638.00,522.61 L1638.25,522.50 L1638.50,522.39 L1638.75,522.27 L1639.00,522.15 L1639.25,522.02 L1639.50,521.89 L1639.75,521.75 L1640.00,521.60 L1640.25,521.45 L1640.50,521.29 L1640.75,521.12 L1641.00,520.94 L1641.25,520.76 L1641.50,520.56 L1641.75,520.36 L1642.00,520.14 L1642.25,519.91 L1642.50,519.67 L1642.75,519.41 L1643.00,519.14 L1643.25,518.85 L1643.50,518.55 L1643.75,518.22 L1644.00,517.87 L1644.25,517.51 L1644.50,517.11 L1644.75,516.69 L1645.00,516.25 L1645.25,515.77 L1645.50,515.25 L1645.75,514.70 L1646.00,514.10 L1646.25,513.46 L1646.50,512.77 L1646.75,512.03 L1647.00,511.22 L1647.25,510.34 L1647.50,509.39 L1647.75,508.35 L1648.00,507.22 L1648.25,505.99 L1648.50,504.64 L1648.75,503.16 L1649.00,501.53 L1649.25,499.74 L1649.50,497.76 L1649.75,495.58 L1650.00,493.16 L1650.25,490.50 L1650.50,487.56 L1650.75,484.32 L1651.00,480.74 L1651.25,476.77 L1651.50,472.37 L1651.75,467.50 L1652.00,462.13 L1652.25,456.24 L1652.50,449.83 L1652.75,442.93 L1653.00,435.64 L1653.25,428.09 L1653.50,420.51 L1653.75,413.22 L1654.00,406.59 L1654.25,401.05 L1654.50,397.04 L1654.75,394.91 L1655.00,394.85 L1655.25,396.90 L1655.50,400.90 L1655.75,406.51 L1656.00,413.31 L1656.25,420.86 L1656.50,428.77 L1656.75,436.71 L1657.00,444.42 L1657.25,451.76 L1657.50,458.61 L1657.75,464.94 L1658.00,470.73 L1658.25,476.00 L1658.50,480.77 L1658.75,485.09 L1659.00,488.98 L1659.25,492.49 L1659.50,495.66 L1659.75,498.52 L1660.00,501.11 L1660.25,503.46 L1660.50,505.58 L1660.75,507.51 L1661.00,509.26 L1661.25,510.84 L1661.50,512.26 L1661.75,513.56 L1662.00,514.75 L1662.25,515.83 L1662.50,516.82 L1662.75,517.73 L1663.00,518.57 L1663.25,519.36 L1663.50,520.09 L1663.75,520.78 L1664.00,521.44 L1664.25,522.08 L1664.50,522.70 L1664.75,523.31 L1665.00,523.89 L1665.25,524.46 L1665.50,524.99 L1665.75,525.49 L1666.00,525.96 L1666.25,526.40 L1666.50,526.79 L1666.75,527.14 L1667.00,527.44 L1667.25,527.69 L1667.50,527.89 L1667.75,528.07 L1668.00,528.24 L1668.25,528.39 L1668.50,528.53 L1668.75,528.65 L1669.00,528.76 L1669.25,528.86 L1669.50,528.95 L1669.75,529.03 L1670.00,529.11 L1670.25,529.18 L1670.50,529.25 L1670.75,529.31 L1671.00,529.38 L1671.25,529.44 L1671.50,529.50 L1671.75,529.56 L1672.00,529.62 L1672.25,529.68 L1672.50,529.75 L1672.75,529.82 L1673.00,529.88 L1673.25,529.94 L1673.50,530.00 L1673.75,530.06 L1674.00,530.12 L1674.25,530.18 L1674.50,530.24 L1674.75,530.30 L1675.00,530.36 L1675.25,530.42 L1675.50,530.48 L1675.75,530.53 L1676.00,530.59 L1676.25,530.64 L1676.50,530.70 L1676.75,530.75 L1677.00,530.81 L1677.25,530.86 L1677.50,530.91 L1677.75,530.96 L1678.00,531.01 L1678.25,531.06 L1678.50,531.10 L1678.75,531.15 L1679.00,531.19 L1679.25,531.23 L1679.50,531.28 L1679.75,531.32 L1680.00,531.36 L1680.25,531.39 L1680.50,531.43 L1680.75,531.46 L1681.00,531.50 L1681.25,531.53 L1681.50,531.56 L1681.75,531.59 L1682.00,531.62 L1682.25,531.65 L1682.50,531.68 L1682.75,531.70 L1683.00,531.73 L1683.25,531.75 L1683.50,531.78 L1683.75,531.80 L1684.00,531.83 L1684.25,531.85 L1684.50,531.88 L1684.75,531.90 L1685.00,531.92 L1685.25,531.95 L1685.50,531.97 L1685.75,531.99 L1686.00,532.01 L1686.25,532.03 L1686.50,532.05 L1686.75,532.07 L1687.00,532.08 L1687.25,532.10 L1687.50,532.12 L1687.75,532.13 L1688.00,532.14 L1688.25,532.16 L1688.50,532.17 L1688.75,532.18 L1689.00,532.19 L1689.25,532.20 L1689.50,532.21 L1689.75,532.22 L1690.00,532.23 L1690.25,532.24 L1690.50,532.25 L1690.75,532.26 L1691.00,532.27 L1691.25,532.28 L1691.50,532.29 L1691.75,532.29 L1692.00,532.30 L1692.25,532.31 L1692.50,532.32 L1692.75,532.32 L1693.00,532.33 L1693.25,532.34 L1693.50,532.34 L1693.75,532.35 L1694.00,532.36 L1694.25,532.36 L1694.50,532.37 L1694.75,532.38 L1695.00,532.38 L1695.25,532.39 L1695.50,532.39 L1695.75,532.40 L1696.00,532.40 L1696.25,532.41 L1696.50,532.41 L1696.75,532.42 L1697.00,532.42 L1697.25,532.43 L1697.50,532.43 L1697.75,532.44 L1698.00,532.44 L1698.25,532.45 L1698.50,532.45 L1698.75,532.46 L1699.00,532.46 L1699.25,532.47 L1699.50,532.47 L1699.75,532.47 L1700.00,532.48 L1700.25,532.48 L1700.50,532.48 L1700.75,532.49 L1701.00,532.49 L1701.25,532.50 L1701.50,532.50 L1701.75,532.50 L1702.00,532.50 L1702.25,532.50 L1702.50,532.50 L1702.75,532.50 L1703.00,532.50 L1703.25,532.50 L1703.50,532.50 L1703.75,532.50 L1704.00,532.50 L1704.25,532.50 L1704.50,532.50 L1704.75,532.50 L1705.00,532.50 L1705.25,532.50 L1705.50,532.50 L1705.75,532.50 L1706.00,532.50 L1706.25,532.50 L1706.50,532.50 L1706.75,532.50 L1707.00,532.50 L1707.25,532.50 L1707.50,532.50 L1707.75,532.50 L1708.00,532.50 L1708.25,532.50 L1708.50,532.50 L1708.75,532.50 L1709.00,532.50 L1709.25,532.50 L1709.50,532.50 L1709.75,532.50 L1710.00,532.50 L1710.25,532.50 L1710.50,532.50 L1710.75,532.50 L1711.00,532.50 L1711.25,532.50 L1711.50,532.50 L1711.75,532.50 L1712.00,532.50 L1712.25,532.50 L1712.50,532.50 L1712.75,532.50 L1713.00,532.50 L1713.25,532.50 L1713.50,532.50 L1713.75,532.50 L1714.00,532.50 L1714.25,532.50 L1714.50,532.50 L1714.75,532.50 L1715.00,532.50 L1715.25,532.50 L1715.50,532.50 L1715.75,532.50 L1716.00,532.50 L1716.25,532.50 L1716.50,532.50 L1716.75,532.50 L1717.00,532.50 L1717.25,532.50 L1717.50,532.50 L1717.75,532.50 L1718.00,532.50 L1718.25,532.50 L1718.50,532.50 L1718.75,532.50 L1719.00,532.50 L1719.25,532.50 L1719.50,532.50 L1719.75,532.50 L1720.00,532.50 L1720.25,532.50 L1720.50,532.50 L1720.75,532.50 L1721.00,532.50 L1721.25,532.50 L1721.50,532.50 L1721.75,532.50 L1722.00,532.50 L1722.25,532.50 L1722.50,532.50 L1722.75,532.50 L1723.00,532.50 L1723.25,532.50 L1723.50,532.50 L1723.75,532.50 L1724.00,532.50 L1724.25,532.50 L1724.50,532.50 L1724.75,532.50 L1725.00,532.50 L1725.25,532.50 L1725.50,532.50 L1725.75,532.50 L1726.00,532.50 L1726.25,532.50 L1726.50,532.50 L1726.75,532.50 L1727.00,532.50 L1727.25,532.50 L1727.50,532.50 L1727.75,532.50 L1728.00,532.50 L1728.25,532.50 L1728.50,532.50 L1728.75,532.50 L1729.00,532.50 L1729.25,532.50 L1729.50,532.50 L1729.75,532.50 L1730.00,532.50 L1730.25,532.50 L1730.50,532.50 L1730.75,532.50 L1731.00,532.50 L1731.25,532.50 L1731.50,532.50 L1731.75,532.50 L1732.00,532.50 L1732.25,532.50 L1732.50,532.50 L1732.75,532.50 L1733.00,532.50 L1733.25,532.50 L1733.50,532.50 L1733.75,532.50 L1734.00,532.50 L1734.25,532.50 L1734.50,532.50 L1734.75,532.50 L1735.00,532.50 L1735.25,532.50 L1735.50,532.50 L1735.75,532.50 L1736.00,532.50 L1736.25,532.50 L1736.50,532.50 L1736.75,532.50 L1737.00,532.50 L1737.25,532.50 L1737.50,532.50 L1737.75,532.50 L1738.00,532.50 L1738.25,532.50 L1738.50,532.50 L1738.75,532.50 L1739.00,532.50 L1739.25,532.50 L1739.50,532.50 L1739.75,532.50 L1740.00,532.50 L1740.25,532.50 L1740.50,532.50 L1740.75,532.50 L1741.00,532.50 L1741.25,532.50 L1741.50,532.50 L1741.75,532.50 L1742.00,532.50 L1742.25,532.50 L1742.50,532.50 L1742.75,532.50 L1743.00,532.50 L1743.25,532.50 L1743.50,532.50 L1743.75,532.50 L1744.00,532.50 L1744.25,532.50 L1744.50,532.50 L1744.75,532.50 L1745.00,532.50 L1745.25,532.50 L1745.50,532.50 L1745.75,532.50 L1746.00,532.50 L1746.25,532.50 L1746.50,532.50 L1746.75,532.50 L1747.00,532.50 L1747.25,532.50 L1747.50,532.50 L1747.75,532.50 L1748.00,532.50 L1748.25,532.50 L1748.50,532.50 L1748.75,532.50 L1749.00,532.50 L1749.25,532.50 L1749.50,532.50 L1749.75,532.50 L1750.00,532.50 L1750.25,532.50 L1750.50,532.50 L1750.75,532.50 L1751.00,532.50 L1751.25,532.50 L1751.50,532.50 L1751.75,532.50 L1752.00,532.50 L1752.25,532.50 L1752.50,532.50 L1752.75,532.50 L1753.00,532.50 L1753.25,532.50 L1753.50,532.50 L1753.75,532.50 L1754.00,532.50 L1754.25,532.50 L1754.50,532.50 L1754.75,532.50 L1755.00,532.50 L1755.25,532.50 L1755.50,532.50 L1755.75,532.50 L1756.00,532.50 L1756.25,532.50 L1756.50,532.50 L1756.75,532.50 L1757.00,532.50 L1757.25,532.50 L1757.50,532.50 L1757.75,532.50 L1758.00,532.50 L1758.25,532.50 L1758.50,532.50 L1758.75,532.50 L1759.00,532.50 L1759.25,532.50 L1759.50,532.50 L1759.75,532.50 L1760.00,532.50 L1760.25,532.50 L1760.50,532.50 L1760.75,532.50 L1761.00,532.50 L1761.25,532.50 L1761.50,532.50 L1761.75,532.50 L1762.00,532.50 L1762.25,532.50 L1762.50,532.50 L1762.75,532.50 L1763.00,532.50 L1763.25,532.50 L1763.50,532.50 L1763.75,532.50 L1764.00,532.50 L1764.25,532.50 L1764.50,532.50 L1764.75,532.50 L1765.00,532.50 L1765.25,532.50 L1765.50,532.50 L1765.75,532.50 L1766.00,532.50 L1766.25,532.50 L1766.50,532.50 L1766.75,532.50 L1767.00,532.50 L1767.25,532.50 L1767.50,532.50 L1767.75,532.50 L1768.00,532.50 L1768.25,532.50 L1768.50,532.50 L1768.75,532.50" stroke="#ff7f0e" stroke-width="2.16" stroke-dasharray="7.98 3.45"/>
</g>
<path d="M1042.75,52.0 V532.7" fill="none" stroke="#262626" stroke-width="1.65" stroke-linecap="square"/>
<path d="M1768.8,52.0 V532.7 M1043.0,51.9 H1768.8" fill="none" stroke="#262626" stroke-width="1.45" stroke-linecap="square"/>
<path d="M1043.0,532.7 H1768.8" fill="none" stroke="#262626" stroke-width="1.7" stroke-linecap="square"/>
<g stroke="#262626" stroke-width="1.35">
<line x1="1094.8" y1="532.7" x2="1094.8" y2="537.9000000000001"/>
<line x1="1198.5" y1="532.7" x2="1198.5" y2="537.9000000000001"/>
<line x1="1302.2" y1="532.7" x2="1302.2" y2="537.9000000000001"/>
<line x1="1405.9" y1="532.7" x2="1405.9" y2="537.9000000000001"/>
<line x1="1509.6" y1="532.7" x2="1509.6" y2="537.9000000000001"/>
<line x1="1613.3" y1="532.7" x2="1613.3" y2="537.9000000000001"/>
<line x1="1717.0" y1="532.7" x2="1717.0" y2="537.9000000000001"/>
<line x1="1038.1" y1="532.7" x2="1043.0" y2="532.7"/>
<line x1="1038.1" y1="436.6" x2="1043.0" y2="436.6"/>
<line x1="1038.1" y1="340.4" x2="1043.0" y2="340.4"/>
<line x1="1038.1" y1="244.3" x2="1043.0" y2="244.3"/>
<line x1="1038.1" y1="148.1" x2="1043.0" y2="148.1"/>
<line x1="1038.1" y1="52.0" x2="1043.0" y2="52.0"/>
</g>
<g font-size="23.0" fill="#000">
<text x="1094.8" y="560" text-anchor="middle">−6</text>
<text x="1198.5" y="560" text-anchor="middle">−4</text>
<text x="1302.2" y="560" text-anchor="middle">−2</text>
<text x="1405.9" y="560" text-anchor="middle">0</text>
<text x="1509.6" y="560" text-anchor="middle">2</text>
<text x="1613.3" y="560" text-anchor="middle">4</text>
<text x="1717.0" y="560" text-anchor="middle">6</text>
<text x="1032.8" y="541.5" text-anchor="end">0.0</text>
<text x="1032.8" y="445.4" text-anchor="end">0.2</text>
<text x="1032.8" y="349.2" text-anchor="end">0.4</text>
<text x="1032.8" y="253.1" text-anchor="end">0.6</text>
<text x="1032.8" y="156.9" text-anchor="end">0.8</text>
<text x="1032.8" y="60.8" text-anchor="end">1.0</text>
<text x="1405.9" y="589" text-anchor="middle">Energy / eV</text>
<text transform="translate(985.7,292.8) rotate(-90)" text-anchor="middle">Transmission</text>
</g>
<rect x="1258.2" y="63.6" width="499.2" height="75.0" rx="4.6" ry="4.6" fill="#fff" fill-opacity="0.8" stroke="#ccc" stroke-opacity="0.8" stroke-width="1.44"/>
<line x1="1267.4" y1="82.3" x2="1313.4" y2="82.3" stroke="#1f77b4" stroke-width="2.16" stroke-linecap="square"/>
<text x="1332.8" y="90.25" font-size="23.0">Exact transmission</text>
<line x1="1267.4" y1="116.3" x2="1313.4" y2="116.3" stroke="#ff7f0e" stroke-width="2.16" stroke-dasharray="7.98 3.45"/>
<text x="1332.8" y="124.4" font-size="23.0">Transmission from fitted self-energy</text>
<text transform="translate(961.4,28.7) scale(0.958,1)" font-size="38.3" font-weight="bold" style="font-family:'Liberation Sans','DejaVu Sans',sans-serif">B</text>
</g>
</svg>
</body>
</html>
